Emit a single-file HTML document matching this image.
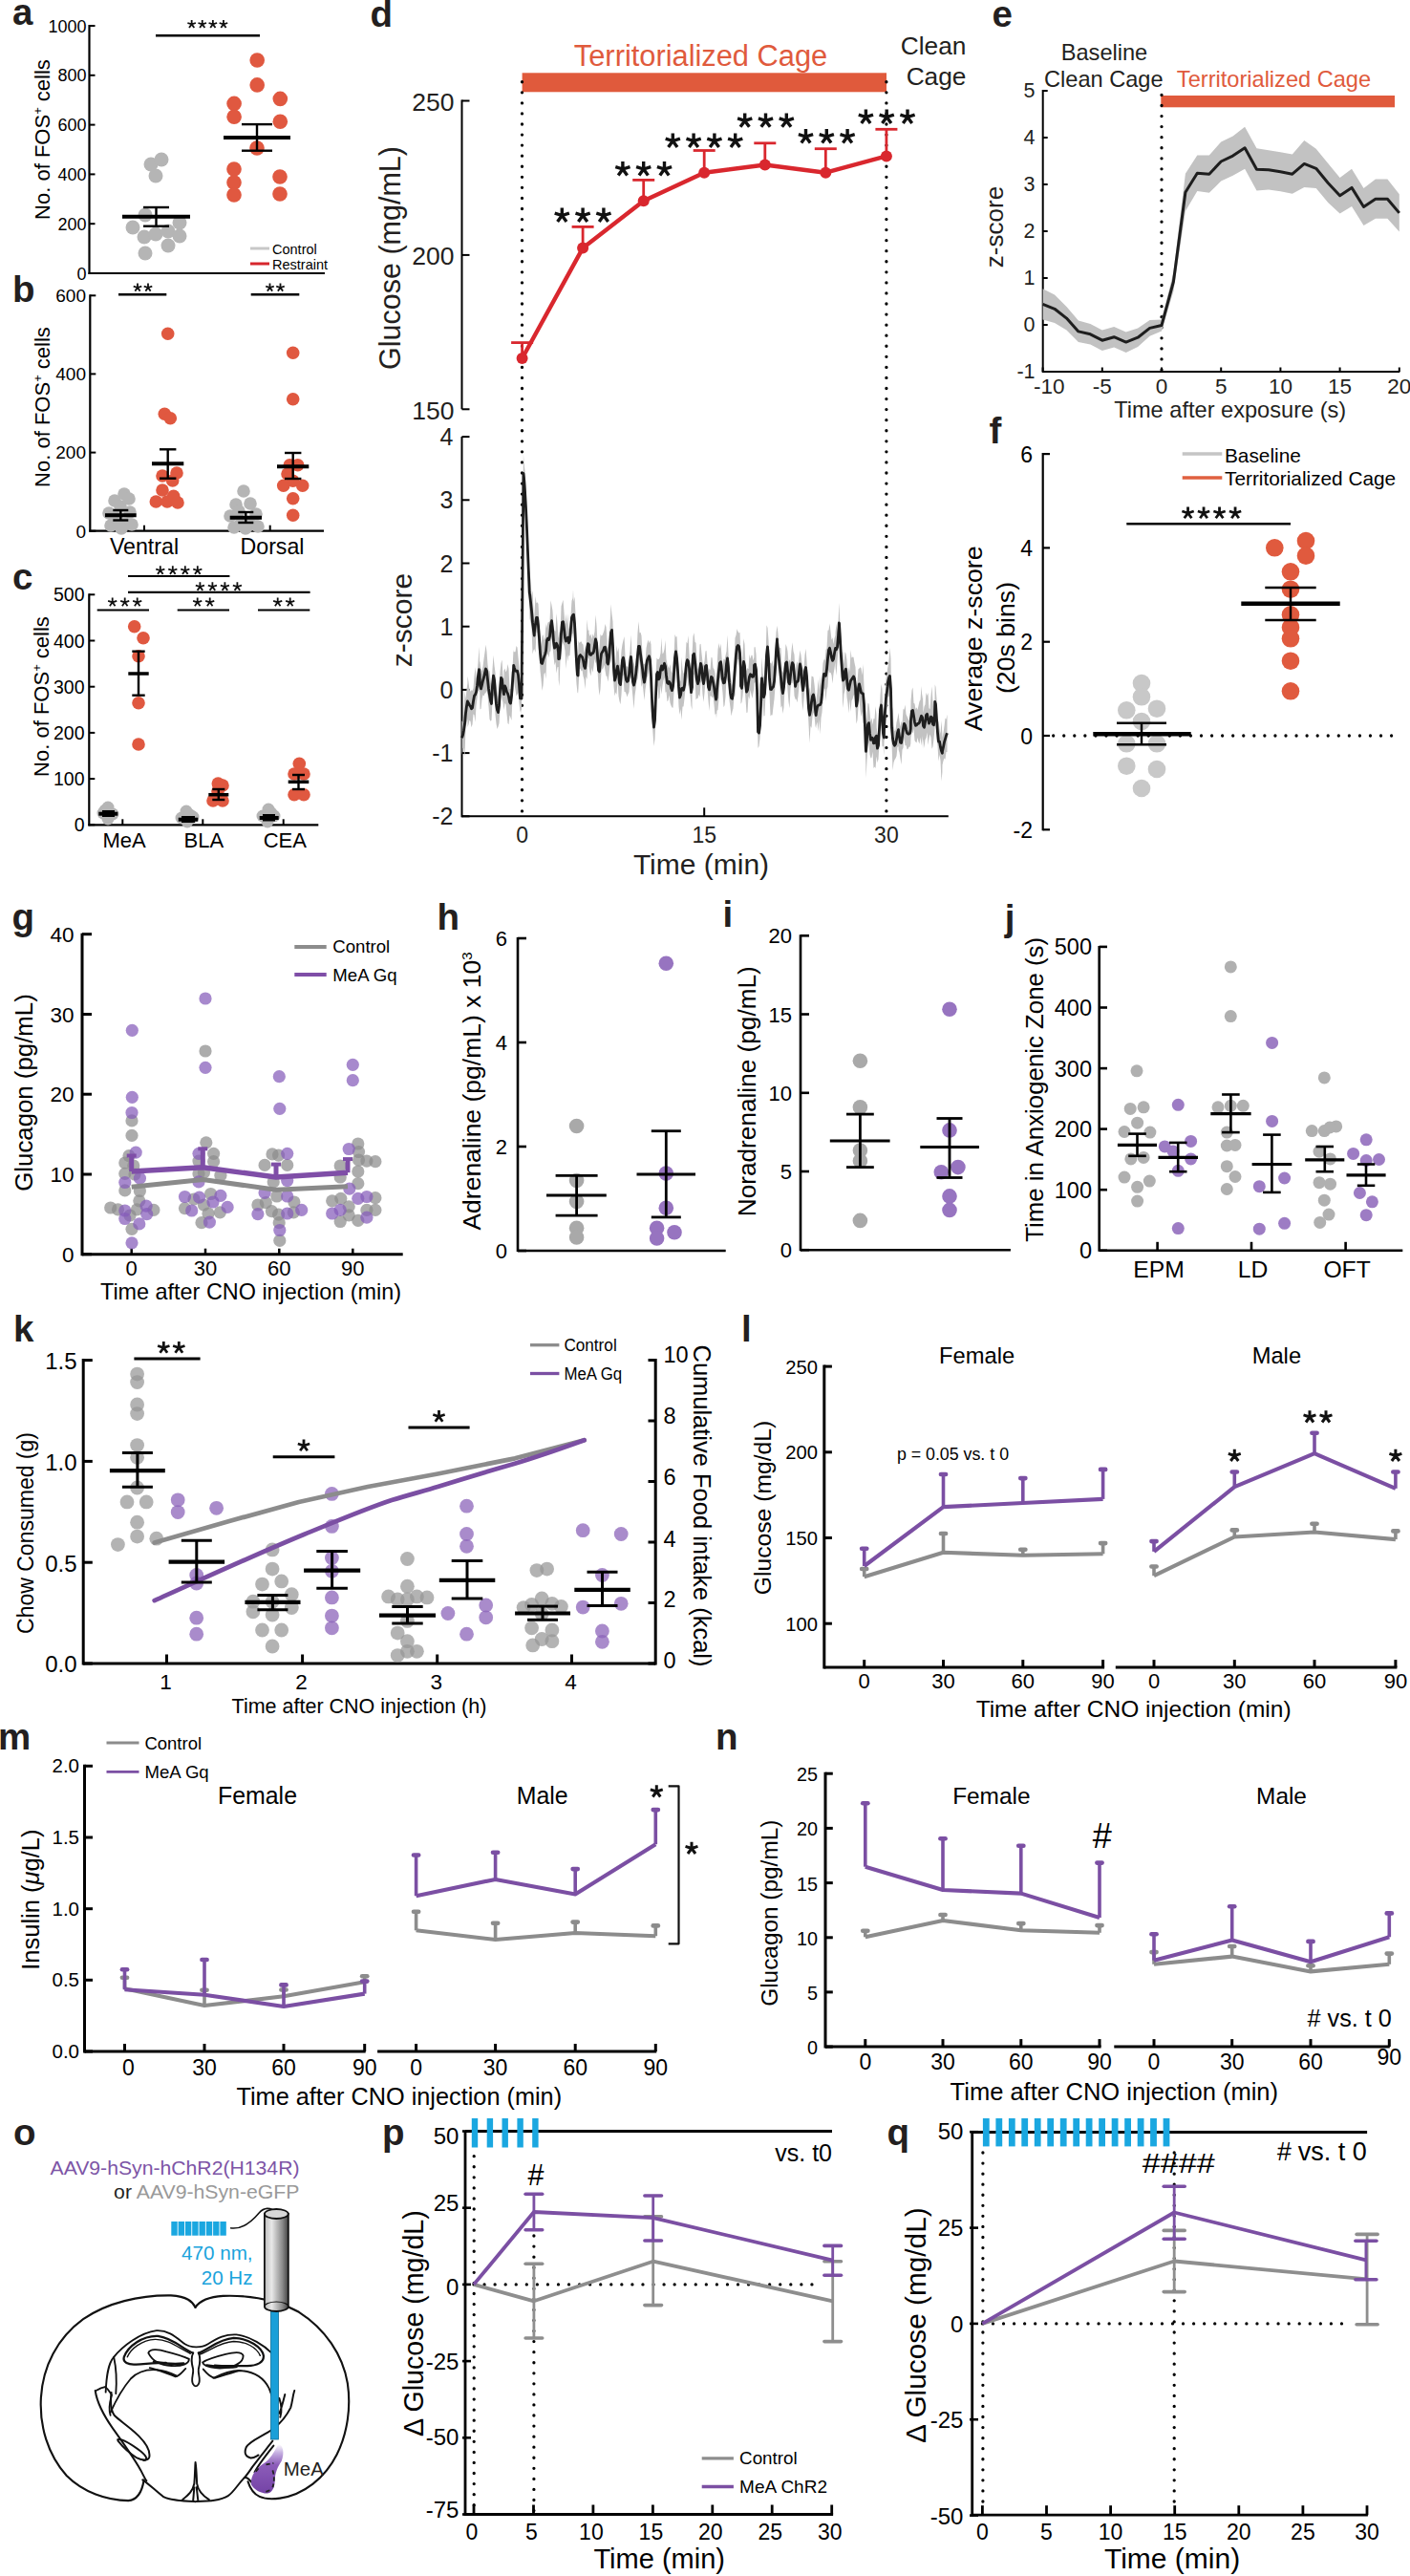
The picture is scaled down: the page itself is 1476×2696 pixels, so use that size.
<!DOCTYPE html>
<html><head><meta charset="utf-8"><style>
html,body{margin:0;padding:0;background:#fff;}
svg{display:block;}
text{font-family:"Liberation Sans",sans-serif;}
</style></head><body>
<svg width="1476" height="2696" viewBox="0 0 1476 2696">
<rect width="1476" height="2696" fill="#fff"/>
<text x="13.0" y="26.0" font-size="38.5" text-anchor="start" fill="#231f20" font-weight="bold">a</text>
<line x1="93.5" y1="26.0" x2="93.5" y2="287.0" stroke="#000" stroke-width="2.2"/>
<line x1="92.5" y1="286.0" x2="340.0" y2="286.0" stroke="#000" stroke-width="2.2"/>
<line x1="93.5" y1="286.0" x2="99.5" y2="286.0" stroke="#000" stroke-width="2"/>
<text x="90.5" y="292.5" font-size="18" text-anchor="end" fill="#000">0</text>
<line x1="93.5" y1="234.2" x2="99.5" y2="234.2" stroke="#000" stroke-width="2"/>
<text x="90.5" y="240.7" font-size="18" text-anchor="end" fill="#000">200</text>
<line x1="93.5" y1="182.4" x2="99.5" y2="182.4" stroke="#000" stroke-width="2"/>
<text x="90.5" y="188.9" font-size="18" text-anchor="end" fill="#000">400</text>
<line x1="93.5" y1="130.6" x2="99.5" y2="130.6" stroke="#000" stroke-width="2"/>
<text x="90.5" y="137.1" font-size="18" text-anchor="end" fill="#000">600</text>
<line x1="93.5" y1="78.8" x2="99.5" y2="78.8" stroke="#000" stroke-width="2"/>
<text x="90.5" y="85.3" font-size="18" text-anchor="end" fill="#000">800</text>
<line x1="93.5" y1="27.0" x2="99.5" y2="27.0" stroke="#000" stroke-width="2"/>
<text x="90.5" y="33.5" font-size="18" text-anchor="end" fill="#000">1000</text>
<text x="52.0" y="146.0" font-size="22" text-anchor="middle" fill="#000" transform="rotate(-90 52.0 146.0)">No. of FOS<tspan font-size="13" dy="-8">+</tspan><tspan dy="8"> cells</tspan></text>
<line x1="163.0" y1="37.3" x2="272.0" y2="37.3" stroke="#000" stroke-width="2.5"/>
<path d="M200.65,25.40L200.65,20.90M200.65,25.40L204.93,24.01M200.65,25.40L203.30,29.04M200.65,25.40L198.00,29.04M200.65,25.40L196.37,24.01" stroke="#111" stroke-width="1.8" stroke-linecap="butt" fill="none"/>
<path d="M211.75,25.40L211.75,20.90M211.75,25.40L216.03,24.01M211.75,25.40L214.40,29.04M211.75,25.40L209.10,29.04M211.75,25.40L207.47,24.01" stroke="#111" stroke-width="1.8" stroke-linecap="butt" fill="none"/>
<path d="M222.85,25.40L222.85,20.90M222.85,25.40L227.13,24.01M222.85,25.40L225.50,29.04M222.85,25.40L220.20,29.04M222.85,25.40L218.57,24.01" stroke="#111" stroke-width="1.8" stroke-linecap="butt" fill="none"/>
<path d="M233.95,25.40L233.95,20.90M233.95,25.40L238.23,24.01M233.95,25.40L236.60,29.04M233.95,25.40L231.30,29.04M233.95,25.40L229.67,24.01" stroke="#111" stroke-width="1.8" stroke-linecap="butt" fill="none"/>
<circle cx="158.0" cy="172.0" r="7.5" fill="#b5b5b5"/>
<circle cx="169.0" cy="167.0" r="7.5" fill="#b5b5b5"/>
<circle cx="163.0" cy="184.0" r="7.5" fill="#b5b5b5"/>
<circle cx="152.0" cy="225.0" r="7.5" fill="#b5b5b5"/>
<circle cx="139.0" cy="238.0" r="7.5" fill="#b5b5b5"/>
<circle cx="151.0" cy="248.0" r="7.5" fill="#b5b5b5"/>
<circle cx="163.0" cy="245.0" r="7.5" fill="#b5b5b5"/>
<circle cx="176.0" cy="242.0" r="7.5" fill="#b5b5b5"/>
<circle cx="188.0" cy="233.0" r="7.5" fill="#b5b5b5"/>
<circle cx="188.0" cy="247.0" r="7.5" fill="#b5b5b5"/>
<circle cx="176.0" cy="257.0" r="7.5" fill="#b5b5b5"/>
<circle cx="152.0" cy="265.0" r="7.5" fill="#b5b5b5"/>
<circle cx="269.2" cy="63.0" r="7.8" fill="#e05840"/>
<circle cx="269.2" cy="88.9" r="7.8" fill="#e05840"/>
<circle cx="245.1" cy="108.4" r="7.8" fill="#e05840"/>
<circle cx="293.3" cy="103.4" r="7.8" fill="#e05840"/>
<circle cx="245.1" cy="122.3" r="7.8" fill="#e05840"/>
<circle cx="293.3" cy="127.2" r="7.8" fill="#e05840"/>
<circle cx="269.0" cy="155.0" r="7.8" fill="#e05840"/>
<circle cx="245.0" cy="177.0" r="7.8" fill="#e05840"/>
<circle cx="245.0" cy="191.0" r="7.8" fill="#e05840"/>
<circle cx="293.0" cy="185.0" r="7.8" fill="#e05840"/>
<circle cx="245.0" cy="204.0" r="7.8" fill="#e05840"/>
<circle cx="293.0" cy="203.0" r="7.8" fill="#e05840"/>
<line x1="128.0" y1="226.7" x2="199.0" y2="226.7" stroke="#000" stroke-width="4"/>
<line x1="163.5" y1="217.0" x2="163.5" y2="236.7" stroke="#000" stroke-width="2.4"/>
<line x1="150.0" y1="217.0" x2="177.0" y2="217.0" stroke="#000" stroke-width="2.4"/>
<line x1="150.0" y1="236.7" x2="177.0" y2="236.7" stroke="#000" stroke-width="2.4"/>
<line x1="234.0" y1="144.0" x2="304.0" y2="144.0" stroke="#000" stroke-width="4"/>
<line x1="269.0" y1="130.1" x2="269.0" y2="157.7" stroke="#000" stroke-width="2.4"/>
<line x1="253.0" y1="130.1" x2="285.0" y2="130.1" stroke="#000" stroke-width="2.4"/>
<line x1="253.0" y1="157.7" x2="285.0" y2="157.7" stroke="#000" stroke-width="2.4"/>
<line x1="262.0" y1="260.0" x2="282.0" y2="260.0" stroke="#c8c8c8" stroke-width="3"/>
<line x1="262.0" y1="276.0" x2="282.0" y2="276.0" stroke="#d6262d" stroke-width="3"/>
<text x="285.0" y="265.5" font-size="14.5" text-anchor="start" fill="#000">Control</text>
<text x="285.0" y="281.5" font-size="14.5" text-anchor="start" fill="#000">Restraint</text>
<text x="13.0" y="316.0" font-size="38.5" text-anchor="start" fill="#231f20" font-weight="bold">b</text>
<line x1="94.3" y1="308.3" x2="94.3" y2="556.7" stroke="#000" stroke-width="2.2"/>
<line x1="93.3" y1="555.7" x2="339.0" y2="555.7" stroke="#000" stroke-width="2.2"/>
<line x1="94.3" y1="555.7" x2="100.3" y2="555.7" stroke="#000" stroke-width="2"/>
<text x="90.0" y="562.5" font-size="19" text-anchor="end" fill="#000">0</text>
<line x1="94.3" y1="473.6" x2="100.3" y2="473.6" stroke="#000" stroke-width="2"/>
<text x="90.0" y="480.4" font-size="19" text-anchor="end" fill="#000">200</text>
<line x1="94.3" y1="391.4" x2="100.3" y2="391.4" stroke="#000" stroke-width="2"/>
<text x="90.0" y="398.3" font-size="19" text-anchor="end" fill="#000">400</text>
<line x1="94.3" y1="309.3" x2="100.3" y2="309.3" stroke="#000" stroke-width="2"/>
<text x="90.0" y="316.1" font-size="19" text-anchor="end" fill="#000">600</text>
<line x1="151.0" y1="549.7" x2="151.0" y2="555.7" stroke="#000" stroke-width="2"/>
<line x1="282.7" y1="549.7" x2="282.7" y2="555.7" stroke="#000" stroke-width="2"/>
<text x="151.0" y="580.0" font-size="23.2" text-anchor="middle" fill="#000">Ventral</text>
<text x="285.0" y="580.0" font-size="23.2" text-anchor="middle" fill="#000">Dorsal</text>
<text x="52.0" y="426.0" font-size="22" text-anchor="middle" fill="#000" transform="rotate(-90 52.0 426.0)">No. of FOS<tspan font-size="13" dy="-8">+</tspan><tspan dy="8"> cells</tspan></text>
<line x1="124.0" y1="308.3" x2="174.3" y2="308.3" stroke="#000" stroke-width="2.5"/>
<line x1="262.7" y1="308.3" x2="313.3" y2="308.3" stroke="#000" stroke-width="2.5"/>
<path d="M144.00,301.00L144.00,296.50M144.00,301.00L148.28,299.61M144.00,301.00L146.65,304.64M144.00,301.00L141.35,304.64M144.00,301.00L139.72,299.61" stroke="#111" stroke-width="1.8" stroke-linecap="butt" fill="none"/>
<path d="M155.00,301.00L155.00,296.50M155.00,301.00L159.28,299.61M155.00,301.00L157.65,304.64M155.00,301.00L152.35,304.64M155.00,301.00L150.72,299.61" stroke="#111" stroke-width="1.8" stroke-linecap="butt" fill="none"/>
<path d="M282.50,301.00L282.50,296.50M282.50,301.00L286.78,299.61M282.50,301.00L285.15,304.64M282.50,301.00L279.85,304.64M282.50,301.00L278.22,299.61" stroke="#111" stroke-width="1.8" stroke-linecap="butt" fill="none"/>
<path d="M293.50,301.00L293.50,296.50M293.50,301.00L297.78,299.61M293.50,301.00L296.15,304.64M293.50,301.00L290.85,304.64M293.50,301.00L289.22,299.61" stroke="#111" stroke-width="1.8" stroke-linecap="butt" fill="none"/>
<circle cx="130.0" cy="517.0" r="6.8" fill="#b5b5b5"/>
<circle cx="120.0" cy="524.0" r="6.8" fill="#b5b5b5"/>
<circle cx="126.0" cy="530.0" r="6.8" fill="#b5b5b5"/>
<circle cx="114.0" cy="537.0" r="6.8" fill="#b5b5b5"/>
<circle cx="136.0" cy="536.0" r="6.8" fill="#b5b5b5"/>
<circle cx="123.0" cy="545.0" r="6.8" fill="#b5b5b5"/>
<circle cx="131.0" cy="548.0" r="6.8" fill="#b5b5b5"/>
<circle cx="116.0" cy="550.0" r="6.8" fill="#b5b5b5"/>
<circle cx="138.0" cy="549.0" r="6.8" fill="#b5b5b5"/>
<circle cx="127.0" cy="553.0" r="6.8" fill="#b5b5b5"/>
<circle cx="120.0" cy="541.0" r="6.8" fill="#b5b5b5"/>
<circle cx="135.0" cy="522.0" r="6.8" fill="#b5b5b5"/>
<circle cx="255.0" cy="514.0" r="6.8" fill="#b5b5b5"/>
<circle cx="247.0" cy="528.0" r="6.8" fill="#b5b5b5"/>
<circle cx="262.0" cy="527.0" r="6.8" fill="#b5b5b5"/>
<circle cx="241.0" cy="540.0" r="6.8" fill="#b5b5b5"/>
<circle cx="268.0" cy="538.0" r="6.8" fill="#b5b5b5"/>
<circle cx="252.0" cy="548.0" r="6.8" fill="#b5b5b5"/>
<circle cx="262.0" cy="549.0" r="6.8" fill="#b5b5b5"/>
<circle cx="245.0" cy="552.0" r="6.8" fill="#b5b5b5"/>
<circle cx="257.0" cy="553.0" r="6.8" fill="#b5b5b5"/>
<circle cx="270.0" cy="551.0" r="6.8" fill="#b5b5b5"/>
<circle cx="250.0" cy="535.0" r="6.8" fill="#b5b5b5"/>
<circle cx="175.7" cy="349.3" r="6.8" fill="#e05840"/>
<circle cx="172.3" cy="433.3" r="6.8" fill="#e05840"/>
<circle cx="178.3" cy="437.7" r="6.8" fill="#e05840"/>
<circle cx="170.0" cy="498.0" r="6.8" fill="#e05840"/>
<circle cx="185.0" cy="495.0" r="6.8" fill="#e05840"/>
<circle cx="180.7" cy="503.0" r="6.8" fill="#e05840"/>
<circle cx="170.0" cy="513.0" r="6.8" fill="#e05840"/>
<circle cx="163.3" cy="525.0" r="6.8" fill="#e05840"/>
<circle cx="175.0" cy="525.0" r="6.8" fill="#e05840"/>
<circle cx="181.7" cy="519.3" r="6.8" fill="#e05840"/>
<circle cx="186.0" cy="526.0" r="6.8" fill="#e05840"/>
<circle cx="306.7" cy="369.3" r="6.8" fill="#e05840"/>
<circle cx="306.7" cy="417.7" r="6.8" fill="#e05840"/>
<circle cx="303.3" cy="486.7" r="6.8" fill="#e05840"/>
<circle cx="311.7" cy="486.7" r="6.8" fill="#e05840"/>
<circle cx="296.7" cy="508.3" r="6.8" fill="#e05840"/>
<circle cx="316.7" cy="508.3" r="6.8" fill="#e05840"/>
<circle cx="306.7" cy="503.3" r="6.8" fill="#e05840"/>
<circle cx="306.7" cy="521.7" r="6.8" fill="#e05840"/>
<circle cx="306.7" cy="539.3" r="6.8" fill="#e05840"/>
<circle cx="301.0" cy="496.0" r="6.8" fill="#e05840"/>
<line x1="110.0" y1="539.3" x2="142.7" y2="539.3" stroke="#000" stroke-width="4"/>
<line x1="126.3" y1="534.0" x2="126.3" y2="544.5" stroke="#000" stroke-width="2.4"/>
<line x1="118.3" y1="534.0" x2="134.3" y2="534.0" stroke="#000" stroke-width="2.4"/>
<line x1="118.3" y1="544.5" x2="134.3" y2="544.5" stroke="#000" stroke-width="2.4"/>
<line x1="240.7" y1="541.7" x2="274.0" y2="541.7" stroke="#000" stroke-width="4"/>
<line x1="257.3" y1="536.0" x2="257.3" y2="547.0" stroke="#000" stroke-width="2.4"/>
<line x1="249.3" y1="536.0" x2="265.3" y2="536.0" stroke="#000" stroke-width="2.4"/>
<line x1="249.3" y1="547.0" x2="265.3" y2="547.0" stroke="#000" stroke-width="2.4"/>
<line x1="159.0" y1="485.3" x2="192.3" y2="485.3" stroke="#000" stroke-width="4"/>
<line x1="175.7" y1="470.3" x2="175.7" y2="500.7" stroke="#000" stroke-width="2.4"/>
<line x1="167.0" y1="470.3" x2="184.4" y2="470.3" stroke="#000" stroke-width="2.4"/>
<line x1="167.0" y1="500.7" x2="184.4" y2="500.7" stroke="#000" stroke-width="2.4"/>
<line x1="290.0" y1="488.3" x2="323.3" y2="488.3" stroke="#000" stroke-width="4"/>
<line x1="306.7" y1="474.0" x2="306.7" y2="501.0" stroke="#000" stroke-width="2.4"/>
<line x1="298.0" y1="474.0" x2="315.4" y2="474.0" stroke="#000" stroke-width="2.4"/>
<line x1="298.0" y1="501.0" x2="315.4" y2="501.0" stroke="#000" stroke-width="2.4"/>
<text x="13.0" y="617.0" font-size="38.5" text-anchor="start" fill="#231f20" font-weight="bold">c</text>
<line x1="93.3" y1="621.3" x2="93.3" y2="864.3" stroke="#000" stroke-width="2.2"/>
<line x1="92.3" y1="863.3" x2="333.3" y2="863.3" stroke="#000" stroke-width="2.2"/>
<line x1="93.3" y1="863.3" x2="99.3" y2="863.3" stroke="#000" stroke-width="2"/>
<text x="88.5" y="870.3" font-size="19.5" text-anchor="end" fill="#000">0</text>
<line x1="93.3" y1="815.1" x2="99.3" y2="815.1" stroke="#000" stroke-width="2"/>
<text x="88.5" y="822.1" font-size="19.5" text-anchor="end" fill="#000">100</text>
<line x1="93.3" y1="766.9" x2="99.3" y2="766.9" stroke="#000" stroke-width="2"/>
<text x="88.5" y="773.9" font-size="19.5" text-anchor="end" fill="#000">200</text>
<line x1="93.3" y1="718.7" x2="99.3" y2="718.7" stroke="#000" stroke-width="2"/>
<text x="88.5" y="725.7" font-size="19.5" text-anchor="end" fill="#000">300</text>
<line x1="93.3" y1="670.5" x2="99.3" y2="670.5" stroke="#000" stroke-width="2"/>
<text x="88.5" y="677.5" font-size="19.5" text-anchor="end" fill="#000">400</text>
<line x1="93.3" y1="622.3" x2="99.3" y2="622.3" stroke="#000" stroke-width="2"/>
<text x="88.5" y="629.3" font-size="19.5" text-anchor="end" fill="#000">500</text>
<line x1="128.3" y1="857.3" x2="128.3" y2="863.3" stroke="#000" stroke-width="2"/>
<line x1="212.3" y1="857.3" x2="212.3" y2="863.3" stroke="#000" stroke-width="2"/>
<line x1="296.7" y1="857.3" x2="296.7" y2="863.3" stroke="#000" stroke-width="2"/>
<text x="130.0" y="887.0" font-size="22" text-anchor="middle" fill="#000">MeA</text>
<text x="213.3" y="887.0" font-size="22" text-anchor="middle" fill="#000">BLA</text>
<text x="298.3" y="887.0" font-size="22" text-anchor="middle" fill="#000">CEA</text>
<text x="51.0" y="729.0" font-size="22" text-anchor="middle" fill="#000" transform="rotate(-90 51.0 729.0)">No. of FOS<tspan font-size="13" dy="-8">+</tspan><tspan dy="8"> cells</tspan></text>
<line x1="134.0" y1="603.0" x2="240.4" y2="603.0" stroke="#000" stroke-width="2.2"/>
<line x1="134.0" y1="619.9" x2="324.6" y2="619.9" stroke="#000" stroke-width="2.2"/>
<line x1="101.7" y1="638.5" x2="156.0" y2="638.5" stroke="#000" stroke-width="2.2"/>
<line x1="185.7" y1="638.5" x2="240.0" y2="638.5" stroke="#000" stroke-width="2.2"/>
<line x1="270.0" y1="638.5" x2="324.3" y2="638.5" stroke="#000" stroke-width="2.2"/>
<path d="M167.80,597.00L167.80,592.20M167.80,597.00L172.37,595.52M167.80,597.00L170.62,600.88M167.80,597.00L164.98,600.88M167.80,597.00L163.23,595.52" stroke="#111" stroke-width="1.8" stroke-linecap="butt" fill="none"/>
<path d="M180.80,597.00L180.80,592.20M180.80,597.00L185.37,595.52M180.80,597.00L183.62,600.88M180.80,597.00L177.98,600.88M180.80,597.00L176.23,595.52" stroke="#111" stroke-width="1.8" stroke-linecap="butt" fill="none"/>
<path d="M193.80,597.00L193.80,592.20M193.80,597.00L198.37,595.52M193.80,597.00L196.62,600.88M193.80,597.00L190.98,600.88M193.80,597.00L189.23,595.52" stroke="#111" stroke-width="1.8" stroke-linecap="butt" fill="none"/>
<path d="M206.80,597.00L206.80,592.20M206.80,597.00L211.37,595.52M206.80,597.00L209.62,600.88M206.80,597.00L203.98,600.88M206.80,597.00L202.23,595.52" stroke="#111" stroke-width="1.8" stroke-linecap="butt" fill="none"/>
<path d="M209.40,614.00L209.40,609.20M209.40,614.00L213.97,612.52M209.40,614.00L212.22,617.88M209.40,614.00L206.58,617.88M209.40,614.00L204.83,612.52" stroke="#111" stroke-width="1.8" stroke-linecap="butt" fill="none"/>
<path d="M222.40,614.00L222.40,609.20M222.40,614.00L226.97,612.52M222.40,614.00L225.22,617.88M222.40,614.00L219.58,617.88M222.40,614.00L217.83,612.52" stroke="#111" stroke-width="1.8" stroke-linecap="butt" fill="none"/>
<path d="M235.40,614.00L235.40,609.20M235.40,614.00L239.97,612.52M235.40,614.00L238.22,617.88M235.40,614.00L232.58,617.88M235.40,614.00L230.83,612.52" stroke="#111" stroke-width="1.8" stroke-linecap="butt" fill="none"/>
<path d="M248.40,614.00L248.40,609.20M248.40,614.00L252.97,612.52M248.40,614.00L251.22,617.88M248.40,614.00L245.58,617.88M248.40,614.00L243.83,612.52" stroke="#111" stroke-width="1.8" stroke-linecap="butt" fill="none"/>
<path d="M117.70,630.30L117.70,625.50M117.70,630.30L122.27,628.82M117.70,630.30L120.52,634.18M117.70,630.30L114.88,634.18M117.70,630.30L113.13,628.82" stroke="#111" stroke-width="1.8" stroke-linecap="butt" fill="none"/>
<path d="M130.70,630.30L130.70,625.50M130.70,630.30L135.27,628.82M130.70,630.30L133.52,634.18M130.70,630.30L127.88,634.18M130.70,630.30L126.13,628.82" stroke="#111" stroke-width="1.8" stroke-linecap="butt" fill="none"/>
<path d="M143.70,630.30L143.70,625.50M143.70,630.30L148.27,628.82M143.70,630.30L146.52,634.18M143.70,630.30L140.88,634.18M143.70,630.30L139.13,628.82" stroke="#111" stroke-width="1.8" stroke-linecap="butt" fill="none"/>
<path d="M206.70,630.30L206.70,625.50M206.70,630.30L211.27,628.82M206.70,630.30L209.52,634.18M206.70,630.30L203.88,634.18M206.70,630.30L202.13,628.82" stroke="#111" stroke-width="1.8" stroke-linecap="butt" fill="none"/>
<path d="M219.70,630.30L219.70,625.50M219.70,630.30L224.27,628.82M219.70,630.30L222.52,634.18M219.70,630.30L216.88,634.18M219.70,630.30L215.13,628.82" stroke="#111" stroke-width="1.8" stroke-linecap="butt" fill="none"/>
<path d="M290.70,630.30L290.70,625.50M290.70,630.30L295.27,628.82M290.70,630.30L293.52,634.18M290.70,630.30L287.88,634.18M290.70,630.30L286.13,628.82" stroke="#111" stroke-width="1.8" stroke-linecap="butt" fill="none"/>
<path d="M303.70,630.30L303.70,625.50M303.70,630.30L308.27,628.82M303.70,630.30L306.52,634.18M303.70,630.30L300.88,634.18M303.70,630.30L299.13,628.82" stroke="#111" stroke-width="1.8" stroke-linecap="butt" fill="none"/>
<circle cx="113.0" cy="845.0" r="6.5" fill="#b5b5b5"/>
<circle cx="108.0" cy="851.0" r="6.5" fill="#b5b5b5"/>
<circle cx="118.0" cy="852.0" r="6.5" fill="#b5b5b5"/>
<circle cx="113.0" cy="857.0" r="6.5" fill="#b5b5b5"/>
<circle cx="110.0" cy="848.0" r="6.5" fill="#b5b5b5"/>
<circle cx="195.0" cy="849.0" r="6.5" fill="#b5b5b5"/>
<circle cx="190.0" cy="856.0" r="6.5" fill="#b5b5b5"/>
<circle cx="202.0" cy="855.0" r="6.5" fill="#b5b5b5"/>
<circle cx="196.0" cy="860.0" r="6.5" fill="#b5b5b5"/>
<circle cx="199.0" cy="853.0" r="6.5" fill="#b5b5b5"/>
<circle cx="281.0" cy="847.0" r="6.5" fill="#b5b5b5"/>
<circle cx="275.0" cy="854.0" r="6.5" fill="#b5b5b5"/>
<circle cx="287.0" cy="854.0" r="6.5" fill="#b5b5b5"/>
<circle cx="280.0" cy="860.0" r="6.5" fill="#b5b5b5"/>
<circle cx="284.0" cy="851.0" r="6.5" fill="#b5b5b5"/>
<circle cx="140.7" cy="655.7" r="6.8" fill="#e05840"/>
<circle cx="150.0" cy="667.7" r="6.8" fill="#e05840"/>
<circle cx="145.0" cy="686.7" r="6.8" fill="#e05840"/>
<circle cx="145.0" cy="735.7" r="6.8" fill="#e05840"/>
<circle cx="145.0" cy="779.0" r="6.8" fill="#e05840"/>
<circle cx="228.3" cy="820.0" r="6.8" fill="#e05840"/>
<circle cx="233.0" cy="822.0" r="6.8" fill="#e05840"/>
<circle cx="223.0" cy="838.0" r="6.8" fill="#e05840"/>
<circle cx="233.0" cy="838.0" r="6.8" fill="#e05840"/>
<circle cx="228.0" cy="828.0" r="6.8" fill="#e05840"/>
<circle cx="313.3" cy="799.3" r="6.8" fill="#e05840"/>
<circle cx="308.0" cy="810.0" r="6.8" fill="#e05840"/>
<circle cx="318.0" cy="810.0" r="6.8" fill="#e05840"/>
<circle cx="308.0" cy="831.7" r="6.8" fill="#e05840"/>
<circle cx="318.0" cy="831.7" r="6.8" fill="#e05840"/>
<line x1="103.3" y1="851.7" x2="123.3" y2="851.7" stroke="#000" stroke-width="4"/>
<line x1="107.0" y1="849.0" x2="120.0" y2="849.0" stroke="#000" stroke-width="2"/>
<line x1="107.0" y1="854.0" x2="120.0" y2="854.0" stroke="#000" stroke-width="2"/>
<line x1="186.7" y1="857.7" x2="207.3" y2="857.7" stroke="#000" stroke-width="4"/>
<line x1="190.0" y1="855.0" x2="204.0" y2="855.0" stroke="#000" stroke-width="2"/>
<line x1="190.0" y1="860.0" x2="204.0" y2="860.0" stroke="#000" stroke-width="2"/>
<line x1="271.7" y1="856.0" x2="291.7" y2="856.0" stroke="#000" stroke-width="4"/>
<line x1="275.0" y1="853.0" x2="288.0" y2="853.0" stroke="#000" stroke-width="2"/>
<line x1="275.0" y1="858.5" x2="288.0" y2="858.5" stroke="#000" stroke-width="2"/>
<line x1="134.3" y1="705.0" x2="155.7" y2="705.0" stroke="#000" stroke-width="3.5"/>
<line x1="145.0" y1="681.7" x2="145.0" y2="727.7" stroke="#000" stroke-width="2.4"/>
<line x1="138.3" y1="681.7" x2="151.7" y2="681.7" stroke="#000" stroke-width="2.4"/>
<line x1="138.3" y1="727.7" x2="151.7" y2="727.7" stroke="#000" stroke-width="2.4"/>
<line x1="218.3" y1="831.7" x2="239.3" y2="831.7" stroke="#000" stroke-width="3.5"/>
<line x1="228.8" y1="826.0" x2="228.8" y2="837.0" stroke="#000" stroke-width="2.4"/>
<line x1="222.3" y1="826.0" x2="235.3" y2="826.0" stroke="#000" stroke-width="2.4"/>
<line x1="222.3" y1="837.0" x2="235.3" y2="837.0" stroke="#000" stroke-width="2.4"/>
<line x1="301.7" y1="818.3" x2="323.3" y2="818.3" stroke="#000" stroke-width="3.5"/>
<line x1="312.5" y1="811.0" x2="312.5" y2="826.0" stroke="#000" stroke-width="2.4"/>
<line x1="306.0" y1="811.0" x2="319.0" y2="811.0" stroke="#000" stroke-width="2.4"/>
<line x1="306.0" y1="826.0" x2="319.0" y2="826.0" stroke="#000" stroke-width="2.4"/>
<text x="387.5" y="28.4" font-size="38.5" text-anchor="start" fill="#231f20" font-weight="bold">d</text>
<line x1="483.5" y1="104.5" x2="483.5" y2="428.3" stroke="#000" stroke-width="2"/>
<line x1="483.5" y1="105.5" x2="491.5" y2="105.5" stroke="#000" stroke-width="2"/>
<text x="475.5" y="115.9" font-size="26.5" text-anchor="end" fill="#231f20">250</text>
<line x1="483.5" y1="266.9" x2="491.5" y2="266.9" stroke="#000" stroke-width="2"/>
<text x="475.5" y="277.3" font-size="26.5" text-anchor="end" fill="#231f20">200</text>
<line x1="483.5" y1="428.3" x2="491.5" y2="428.3" stroke="#000" stroke-width="2"/>
<text x="475.5" y="438.7" font-size="26.5" text-anchor="end" fill="#231f20">150</text>
<text x="418.5" y="270.0" font-size="30.5" text-anchor="middle" fill="#231f20" transform="rotate(-90 418.5 270.0)">Glucose (mg/mL)</text>
<rect x="546.6" y="76.3" width="381.4" height="20.0" fill="#e05a3c"/>
<text x="733.5" y="69.0" font-size="30.8" text-anchor="middle" fill="#e05a3c">Territorialized Cage</text>
<text x="1011.5" y="57.0" font-size="26.3" text-anchor="end" fill="#231f20">Clean</text>
<text x="1011.5" y="89.0" font-size="26.3" text-anchor="end" fill="#231f20">Cage</text>
<line x1="546.5" y1="848.9" x2="546.5" y2="75.0" stroke="#000" stroke-width="3.3" stroke-dasharray="0.01 11.05" stroke-linecap="round"/>
<line x1="927.9" y1="848.9" x2="927.9" y2="75.0" stroke="#000" stroke-width="3.3" stroke-dasharray="0.01 11.05" stroke-linecap="round"/>
<line x1="546.6" y1="375.0" x2="546.6" y2="358.6" stroke="#d9272e" stroke-width="2.8"/>
<line x1="535.1" y1="358.6" x2="558.1" y2="358.6" stroke="#d9272e" stroke-width="2.8"/>
<line x1="610.1" y1="259.6" x2="610.1" y2="237.4" stroke="#d9272e" stroke-width="2.8"/>
<line x1="598.6" y1="237.4" x2="621.6" y2="237.4" stroke="#d9272e" stroke-width="2.8"/>
<line x1="673.7" y1="210.2" x2="673.7" y2="188.4" stroke="#d9272e" stroke-width="2.8"/>
<line x1="662.2" y1="188.4" x2="685.2" y2="188.4" stroke="#d9272e" stroke-width="2.8"/>
<line x1="737.2" y1="180.7" x2="737.2" y2="157.5" stroke="#d9272e" stroke-width="2.8"/>
<line x1="725.7" y1="157.5" x2="748.7" y2="157.5" stroke="#d9272e" stroke-width="2.8"/>
<line x1="800.8" y1="172.5" x2="800.8" y2="149.8" stroke="#d9272e" stroke-width="2.8"/>
<line x1="789.3" y1="149.8" x2="812.3" y2="149.8" stroke="#d9272e" stroke-width="2.8"/>
<line x1="864.3" y1="180.7" x2="864.3" y2="155.7" stroke="#d9272e" stroke-width="2.8"/>
<line x1="852.8" y1="155.7" x2="875.8" y2="155.7" stroke="#d9272e" stroke-width="2.8"/>
<line x1="927.9" y1="163.4" x2="927.9" y2="135.3" stroke="#d9272e" stroke-width="2.8"/>
<line x1="916.4" y1="135.3" x2="939.4" y2="135.3" stroke="#d9272e" stroke-width="2.8"/>
<polyline points="546.6,375.0 610.1,259.6 673.7,210.2 737.2,180.7 800.8,172.5 864.3,180.7 927.9,163.4" fill="none" stroke="#d9272e" stroke-width="4.4" stroke-linejoin="round"/>
<circle cx="546.6" cy="375.0" r="6" fill="#d9272e"/>
<circle cx="610.1" cy="259.6" r="6" fill="#d9272e"/>
<circle cx="673.7" cy="210.2" r="6" fill="#d9272e"/>
<circle cx="737.2" cy="180.7" r="6" fill="#d9272e"/>
<circle cx="800.8" cy="172.5" r="6" fill="#d9272e"/>
<circle cx="864.3" cy="180.7" r="6" fill="#d9272e"/>
<circle cx="927.9" cy="163.4" r="6" fill="#d9272e"/>
<path d="M588.30,225.50L588.30,217.50M588.30,225.50L595.91,223.03M588.30,225.50L593.00,231.97M588.30,225.50L583.60,231.97M588.30,225.50L580.69,223.03" stroke="#111" stroke-width="3.4" stroke-linecap="butt" fill="none"/>
<path d="M610.10,225.50L610.10,217.50M610.10,225.50L617.71,223.03M610.10,225.50L614.80,231.97M610.10,225.50L605.40,231.97M610.10,225.50L602.49,223.03" stroke="#111" stroke-width="3.4" stroke-linecap="butt" fill="none"/>
<path d="M631.90,225.50L631.90,217.50M631.90,225.50L639.51,223.03M631.90,225.50L636.60,231.97M631.90,225.50L627.20,231.97M631.90,225.50L624.29,223.03" stroke="#111" stroke-width="3.4" stroke-linecap="butt" fill="none"/>
<path d="M651.90,177.00L651.90,169.00M651.90,177.00L659.51,174.53M651.90,177.00L656.60,183.47M651.90,177.00L647.20,183.47M651.90,177.00L644.29,174.53" stroke="#111" stroke-width="3.4" stroke-linecap="butt" fill="none"/>
<path d="M673.70,177.00L673.70,169.00M673.70,177.00L681.31,174.53M673.70,177.00L678.40,183.47M673.70,177.00L669.00,183.47M673.70,177.00L666.09,174.53" stroke="#111" stroke-width="3.4" stroke-linecap="butt" fill="none"/>
<path d="M695.50,177.00L695.50,169.00M695.50,177.00L703.11,174.53M695.50,177.00L700.20,183.47M695.50,177.00L690.80,183.47M695.50,177.00L687.89,174.53" stroke="#111" stroke-width="3.4" stroke-linecap="butt" fill="none"/>
<path d="M704.30,147.50L704.30,139.50M704.30,147.50L711.91,145.03M704.30,147.50L709.00,153.97M704.30,147.50L699.60,153.97M704.30,147.50L696.69,145.03" stroke="#111" stroke-width="3.4" stroke-linecap="butt" fill="none"/>
<path d="M726.10,147.50L726.10,139.50M726.10,147.50L733.71,145.03M726.10,147.50L730.80,153.97M726.10,147.50L721.40,153.97M726.10,147.50L718.49,145.03" stroke="#111" stroke-width="3.4" stroke-linecap="butt" fill="none"/>
<path d="M747.90,147.50L747.90,139.50M747.90,147.50L755.51,145.03M747.90,147.50L752.60,153.97M747.90,147.50L743.20,153.97M747.90,147.50L740.29,145.03" stroke="#111" stroke-width="3.4" stroke-linecap="butt" fill="none"/>
<path d="M769.70,147.50L769.70,139.50M769.70,147.50L777.31,145.03M769.70,147.50L774.40,153.97M769.70,147.50L765.00,153.97M769.70,147.50L762.09,145.03" stroke="#111" stroke-width="3.4" stroke-linecap="butt" fill="none"/>
<path d="M779.70,126.40L779.70,118.40M779.70,126.40L787.31,123.93M779.70,126.40L784.40,132.87M779.70,126.40L775.00,132.87M779.70,126.40L772.09,123.93" stroke="#111" stroke-width="3.4" stroke-linecap="butt" fill="none"/>
<path d="M801.50,126.40L801.50,118.40M801.50,126.40L809.11,123.93M801.50,126.40L806.20,132.87M801.50,126.40L796.80,132.87M801.50,126.40L793.89,123.93" stroke="#111" stroke-width="3.4" stroke-linecap="butt" fill="none"/>
<path d="M823.30,126.40L823.30,118.40M823.30,126.40L830.91,123.93M823.30,126.40L828.00,132.87M823.30,126.40L818.60,132.87M823.30,126.40L815.69,123.93" stroke="#111" stroke-width="3.4" stroke-linecap="butt" fill="none"/>
<path d="M843.50,143.00L843.50,135.00M843.50,143.00L851.11,140.53M843.50,143.00L848.20,149.47M843.50,143.00L838.80,149.47M843.50,143.00L835.89,140.53" stroke="#111" stroke-width="3.4" stroke-linecap="butt" fill="none"/>
<path d="M865.30,143.00L865.30,135.00M865.30,143.00L872.91,140.53M865.30,143.00L870.00,149.47M865.30,143.00L860.60,149.47M865.30,143.00L857.69,140.53" stroke="#111" stroke-width="3.4" stroke-linecap="butt" fill="none"/>
<path d="M887.10,143.00L887.10,135.00M887.10,143.00L894.71,140.53M887.10,143.00L891.80,149.47M887.10,143.00L882.40,149.47M887.10,143.00L879.49,140.53" stroke="#111" stroke-width="3.4" stroke-linecap="butt" fill="none"/>
<path d="M906.40,122.50L906.40,114.50M906.40,122.50L914.01,120.03M906.40,122.50L911.10,128.97M906.40,122.50L901.70,128.97M906.40,122.50L898.79,120.03" stroke="#111" stroke-width="3.4" stroke-linecap="butt" fill="none"/>
<path d="M928.20,122.50L928.20,114.50M928.20,122.50L935.81,120.03M928.20,122.50L932.90,128.97M928.20,122.50L923.50,128.97M928.20,122.50L920.59,120.03" stroke="#111" stroke-width="3.4" stroke-linecap="butt" fill="none"/>
<path d="M950.00,122.50L950.00,114.50M950.00,122.50L957.61,120.03M950.00,122.50L954.70,128.97M950.00,122.50L945.30,128.97M950.00,122.50L942.39,120.03" stroke="#111" stroke-width="3.4" stroke-linecap="butt" fill="none"/>
<line x1="483.5" y1="457.1" x2="483.5" y2="855.3" stroke="#000" stroke-width="2"/>
<line x1="483.5" y1="854.3" x2="992.8" y2="854.3" stroke="#000" stroke-width="2"/>
<line x1="483.5" y1="457.1" x2="491.5" y2="457.1" stroke="#000" stroke-width="2"/>
<text x="474.5" y="466.1" font-size="25" text-anchor="end" fill="#231f20">4</text>
<line x1="483.5" y1="523.3" x2="491.5" y2="523.3" stroke="#000" stroke-width="2"/>
<text x="474.5" y="532.3" font-size="25" text-anchor="end" fill="#231f20">3</text>
<line x1="483.5" y1="589.5" x2="491.5" y2="589.5" stroke="#000" stroke-width="2"/>
<text x="474.5" y="598.5" font-size="25" text-anchor="end" fill="#231f20">2</text>
<line x1="483.5" y1="655.7" x2="491.5" y2="655.7" stroke="#000" stroke-width="2"/>
<text x="474.5" y="664.7" font-size="25" text-anchor="end" fill="#231f20">1</text>
<line x1="483.5" y1="721.9" x2="491.5" y2="721.9" stroke="#000" stroke-width="2"/>
<text x="474.5" y="730.9" font-size="25" text-anchor="end" fill="#231f20">0</text>
<line x1="483.5" y1="788.1" x2="491.5" y2="788.1" stroke="#000" stroke-width="2"/>
<text x="474.5" y="797.1" font-size="25" text-anchor="end" fill="#231f20">-1</text>
<line x1="483.5" y1="854.3" x2="491.5" y2="854.3" stroke="#000" stroke-width="2"/>
<text x="474.5" y="863.3" font-size="25" text-anchor="end" fill="#231f20">-2</text>
<line x1="737.2" y1="845.3" x2="737.2" y2="854.3" stroke="#000" stroke-width="2"/>
<text x="546.6" y="882.0" font-size="23" text-anchor="middle" fill="#231f20">0</text>
<text x="737.2" y="882.0" font-size="23" text-anchor="middle" fill="#231f20">15</text>
<text x="927.9" y="882.0" font-size="23" text-anchor="middle" fill="#231f20">30</text>
<text x="734.0" y="915.0" font-size="30" text-anchor="middle" fill="#231f20">Time (min)</text>
<text x="431.0" y="649.0" font-size="30" text-anchor="middle" fill="#231f20" transform="rotate(-90 431.0 649.0)">z-score</text>
<path d="M483.5,754.2 L484.5,756.0 L485.5,745.1 L486.5,722.4 L487.5,732.1 L488.5,721.5 L489.4,715.3 L489.5,707.5 L490.5,713.8 L491.5,722.2 L492.5,723.7 L493.5,722.2 L494.5,723.1 L495.5,720.1 L496.5,707.8 L497.5,698.2 L498.5,709.7 L499.5,703.9 L500.5,692.9 L501.5,676.7 L502.1,692.4 L502.5,692.6 L503.5,700.0 L504.5,702.0 L505.5,697.7 L506.5,689.5 L507.5,682.7 L508.5,674.8 L509.5,681.7 L510.5,695.6 L511.5,702.4 L512.5,702.1 L513.5,711.8 L514.5,719.4 L514.8,713.6 L515.5,700.2 L516.5,685.8 L517.5,696.6 L518.5,704.1 L519.5,716.5 L520.5,723.0 L521.5,730.7 L522.5,719.4 L523.5,703.1 L524.5,694.0 L525.5,690.4 L526.5,707.5 L527.5,710.7 L527.5,702.1 L528.5,699.6 L529.5,703.4 L530.5,701.3 L531.5,694.9 L532.5,700.1 L533.5,720.9 L534.5,721.1 L535.5,703.2 L536.5,700.0 L537.5,679.8 L537.7,682.1 L538.5,682.3 L539.5,682.2 L540.5,676.0 L541.5,677.4 L542.5,688.0 L543.5,697.8 L544.5,716.5 L545.5,712.6 L546.0,712.9 L546.5,651.7 L547.5,527.7 L547.9,475.1 L548.5,484.1 L549.5,492.6 L550.5,509.4 L551.0,528.8 L551.5,534.2 L552.5,561.5 L553.5,587.3 L554.2,601.2 L554.5,595.8 L555.5,608.6 L556.5,622.9 L557.5,618.0 L558.5,638.9 L559.3,650.9 L559.5,642.0 L560.5,623.9 L561.5,631.3 L562.5,630.2 L563.5,632.0 L564.5,651.3 L565.5,664.7 L566.5,676.3 L567.5,666.0 L568.5,664.0 L569.5,670.1 L570.5,666.4 L571.5,652.1 L572.0,657.6 L572.5,655.3 L573.5,651.4 L574.5,650.9 L575.5,650.0 L576.5,628.2 L577.5,633.6 L578.5,639.3 L579.5,655.6 L580.5,660.1 L581.5,660.8 L582.5,641.7 L583.5,652.4 L584.5,667.4 L584.7,667.7 L585.5,660.4 L586.5,665.0 L587.5,634.6 L588.5,630.9 L589.5,627.8 L590.5,641.1 L591.5,653.5 L592.5,642.0 L593.5,653.5 L594.5,641.9 L594.9,653.6 L595.5,658.7 L596.5,654.3 L597.5,644.0 L598.5,628.8 L599.5,626.1 L600.0,617.0 L600.5,629.7 L601.5,624.4 L602.5,642.7 L603.5,668.5 L604.5,687.4 L605.1,688.3 L605.5,670.7 L606.5,673.0 L607.5,671.8 L608.5,671.3 L609.5,673.7 L610.5,674.4 L611.5,683.3 L612.5,677.6 L613.5,675.5 L614.5,648.3 L615.5,659.8 L616.5,659.6 L616.5,662.6 L617.5,666.0 L618.5,663.3 L619.5,669.0 L620.5,663.3 L621.5,666.6 L622.5,660.9 L623.5,643.4 L624.5,654.1 L625.5,673.2 L626.5,684.0 L627.5,677.8 L628.5,663.8 L629.5,665.6 L630.5,665.0 L631.5,662.4 L632.5,659.6 L633.5,653.0 L634.5,656.3 L635.5,669.4 L635.6,678.1 L636.5,676.5 L637.5,670.8 L638.5,654.5 L639.5,632.2 L640.5,643.2 L641.5,650.2 L642.5,681.4 L643.5,696.0 L644.5,693.1 L645.5,675.2 L646.5,682.4 L647.5,677.6 L648.5,695.6 L649.5,696.1 L650.5,681.0 L651.5,674.3 L652.5,669.9 L653.5,666.0 L654.5,686.4 L655.5,697.6 L656.5,697.3 L657.5,698.4 L658.5,687.8 L659.5,680.9 L660.5,664.3 L661.0,675.0 L661.5,687.0 L662.5,697.2 L663.5,692.2 L664.5,698.9 L665.5,691.0 L666.5,682.6 L667.5,662.1 L668.5,650.2 L669.5,662.4 L670.5,661.7 L671.5,665.3 L672.5,684.1 L673.5,695.3 L674.5,695.1 L675.5,693.7 L676.5,678.5 L677.5,673.2 L678.5,669.6 L679.5,673.2 L680.5,669.9 L681.5,674.4 L682.5,710.1 L683.5,733.8 L684.5,741.2 L685.5,734.5 L686.5,705.9 L687.5,688.4 L688.5,689.9 L689.5,689.9 L690.5,688.5 L691.5,683.5 L692.5,667.0 L692.8,674.9 L693.5,684.5 L694.5,683.3 L695.5,679.6 L696.5,670.1 L697.5,690.0 L698.5,695.0 L699.5,697.7 L700.5,699.6 L701.5,694.9 L702.5,701.9 L703.5,704.8 L704.5,695.8 L705.5,685.5 L706.5,663.7 L707.5,666.8 L708.5,666.1 L709.5,685.1 L710.5,698.2 L711.5,712.0 L712.5,713.0 L713.5,687.6 L714.5,700.8 L715.5,704.9 L716.5,703.4 L717.5,689.4 L718.5,671.7 L719.5,673.6 L720.5,665.0 L721.5,683.7 L722.5,700.1 L723.5,710.6 L724.5,695.6 L724.5,684.7 L725.5,665.9 L726.5,662.2 L727.5,672.0 L728.5,672.8 L729.5,692.1 L730.5,700.5 L731.5,697.8 L732.5,674.6 L733.5,673.7 L734.5,684.1 L735.5,692.9 L736.5,696.5 L737.5,691.8 L738.5,681.6 L739.5,680.9 L740.5,693.0 L741.5,704.8 L742.5,699.6 L743.5,701.5 L744.5,688.1 L745.5,688.3 L746.5,698.8 L747.5,700.6 L748.5,704.5 L749.5,717.4 L750.0,708.8 L750.5,699.3 L751.5,679.8 L752.5,672.9 L753.5,679.0 L754.5,673.6 L755.5,687.3 L756.5,696.9 L757.5,689.2 L758.5,690.7 L759.5,686.3 L760.5,681.5 L761.5,664.6 L762.5,683.7 L763.5,695.8 L764.5,709.7 L765.5,711.3 L766.5,717.8 L767.5,707.3 L768.5,694.1 L769.5,667.7 L770.5,664.7 L771.5,658.3 L772.5,661.1 L773.5,662.6 L774.5,661.7 L775.4,683.5 L775.5,699.1 L776.5,705.4 L777.5,683.0 L778.5,668.2 L779.5,674.3 L780.5,695.3 L781.5,702.3 L782.5,698.9 L783.5,700.3 L784.5,684.8 L785.5,689.7 L786.5,685.8 L787.5,685.7 L788.5,691.6 L789.4,687.6 L789.5,677.4 L790.5,676.9 L791.5,684.8 L792.5,708.7 L793.2,733.0 L793.5,748.7 L794.5,753.3 L795.5,746.1 L796.5,721.3 L797.0,699.9 L797.5,687.7 L798.5,704.1 L799.5,709.2 L800.5,703.3 L801.5,689.9 L802.5,654.3 L803.5,657.1 L804.5,670.0 L805.5,694.7 L806.5,693.5 L807.5,694.7 L808.5,691.0 L809.5,697.8 L810.5,694.6 L811.5,679.8 L812.5,661.7 L813.5,655.1 L813.5,654.6 L814.5,663.2 L815.5,677.1 L816.5,678.1 L817.5,678.3 L818.5,701.8 L819.5,704.2 L820.5,698.6 L821.5,690.2 L822.5,674.0 L823.5,676.7 L824.5,681.4 L825.5,693.4 L826.5,690.1 L827.5,693.6 L828.5,680.7 L829.5,672.2 L830.5,681.5 L831.5,685.0 L832.5,704.6 L832.6,704.3 L833.5,696.0 L834.5,691.9 L835.5,696.6 L836.5,687.9 L837.5,680.5 L838.5,685.9 L839.5,693.7 L840.5,701.2 L841.5,699.4 L842.5,685.6 L843.5,678.7 L844.5,691.6 L845.5,708.3 L846.5,724.7 L847.5,719.1 L848.5,727.4 L849.5,707.4 L850.5,707.9 L851.5,708.4 L852.5,716.3 L853.5,726.3 L854.2,734.9 L854.5,732.1 L855.5,724.5 L856.5,710.4 L857.5,722.8 L858.5,706.7 L859.5,719.2 L860.5,707.5 L861.5,694.1 L862.5,690.3 L863.5,690.4 L864.4,682.6 L864.5,680.0 L865.5,678.4 L866.5,659.8 L867.5,659.5 L868.5,652.4 L869.5,660.9 L870.5,669.8 L871.5,667.3 L872.5,674.2 L873.5,668.0 L874.5,664.8 L874.5,662.1 L875.5,652.6 L876.5,662.4 L877.5,651.6 L878.3,631.0 L878.5,634.4 L879.5,654.4 L880.5,668.2 L881.5,687.8 L882.1,681.8 L882.5,683.0 L883.5,695.3 L884.5,682.2 L885.5,684.1 L886.5,690.7 L887.5,705.4 L888.5,698.0 L889.5,703.0 L890.5,679.9 L891.5,688.6 L892.5,687.5 L893.5,687.7 L894.5,693.8 L895.5,698.2 L896.1,712.3 L896.5,720.3 L897.5,712.9 L898.5,700.2 L899.5,699.6 L900.5,698.2 L901.5,699.4 L902.5,706.8 L903.5,695.1 L904.5,717.9 L905.5,743.3 L906.3,766.7 L906.5,758.3 L907.5,751.2 L908.5,736.1 L909.5,736.5 L910.5,745.0 L911.5,755.1 L912.5,751.3 L913.5,758.5 L914.5,752.0 L915.5,752.6 L916.5,739.2 L917.5,748.1 L917.7,761.5 L918.5,768.1 L919.5,765.4 L920.5,747.4 L921.5,727.8 L922.5,715.7 L923.5,721.1 L924.5,754.3 L925.4,753.1 L925.5,749.4 L926.5,728.6 L927.5,709.8 L928.5,705.4 L929.2,698.8 L929.5,697.9 L930.5,690.9 L931.5,678.0 L932.5,689.2 L933.0,718.3 L933.5,746.0 L934.5,739.9 L935.5,758.9 L936.5,765.3 L937.5,763.9 L938.5,756.1 L939.5,751.9 L940.5,745.9 L940.6,746.4 L941.5,754.8 L942.5,760.4 L943.5,754.7 L944.5,757.5 L945.5,742.1 L946.5,742.7 L947.5,737.4 L948.5,747.6 L949.5,749.7 L950.5,752.0 L951.5,754.3 L952.5,753.2 L953.3,747.1 L953.5,733.6 L954.5,722.2 L955.5,719.6 L956.5,735.8 L957.5,736.6 L958.5,742.2 L959.5,740.3 L960.5,743.0 L961.5,738.4 L962.5,733.9 L963.5,732.6 L964.5,717.9 L965.5,731.8 L966.0,725.8 L966.5,746.3 L967.5,739.6 L968.5,737.3 L969.5,724.7 L970.5,728.0 L971.5,724.9 L972.5,741.3 L973.5,742.0 L974.5,728.5 L975.5,718.3 L976.5,734.3 L977.5,744.5 L978.5,731.1 L978.7,716.2 L979.5,719.1 L980.5,730.9 L981.5,753.0 L982.5,755.3 L983.5,762.4 L984.5,767.9 L985.5,754.1 L986.4,768.3 L986.5,772.1 L987.5,767.1 L988.5,760.0 L989.5,751.7 L990.5,752.7 L991.5,747.4 L991.5,786.9 L990.5,787.0 L989.5,794.8 L988.5,793.4 L987.5,796.2 L986.5,800.5 L986.4,808.3 L985.5,817.8 L984.5,795.9 L983.5,789.8 L982.5,796.8 L981.5,780.3 L980.5,774.2 L979.5,755.3 L978.7,752.5 L978.5,763.2 L977.5,773.2 L976.5,781.4 L975.5,783.7 L974.5,771.8 L973.5,768.5 L972.5,772.8 L971.5,779.7 L970.5,766.6 L969.5,772.4 L968.5,774.1 L967.5,782.9 L966.5,773.4 L966.0,784.2 L965.5,769.9 L964.5,780.5 L963.5,771.5 L962.5,778.5 L961.5,776.3 L960.5,772.0 L959.5,777.5 L958.5,776.4 L957.5,775.0 L956.5,762.8 L955.5,767.4 L954.5,765.9 L953.5,772.1 L953.3,778.5 L952.5,781.7 L951.5,781.8 L950.5,784.1 L949.5,784.2 L948.5,779.9 L947.5,780.5 L946.5,772.0 L945.5,782.8 L944.5,784.8 L943.5,800.3 L942.5,793.9 L941.5,787.6 L940.6,784.7 L940.5,781.2 L939.5,781.8 L938.5,791.2 L937.5,793.7 L936.5,795.3 L935.5,797.9 L934.5,806.2 L933.5,777.3 L933.0,768.0 L932.5,752.4 L931.5,736.9 L930.5,728.2 L929.5,730.0 L929.2,737.9 L928.5,742.0 L927.5,750.8 L926.5,758.6 L925.5,778.0 L925.4,790.9 L924.5,780.8 L923.5,781.5 L922.5,760.3 L921.5,757.6 L920.5,778.2 L919.5,794.6 L918.5,798.2 L917.7,792.3 L917.5,792.2 L916.5,803.9 L915.5,802.4 L914.5,803.9 L913.5,786.7 L912.5,792.9 L911.5,793.4 L910.5,789.8 L909.5,776.8 L908.5,780.9 L907.5,796.3 L906.5,814.5 L906.3,800.8 L905.5,779.8 L904.5,756.3 L903.5,757.0 L902.5,744.4 L901.5,750.5 L900.5,742.5 L899.5,732.1 L898.5,740.4 L897.5,753.4 L896.5,757.8 L896.1,751.9 L895.5,740.6 L894.5,726.7 L893.5,728.0 L892.5,731.6 L891.5,733.3 L890.5,745.1 L889.5,731.4 L888.5,746.4 L887.5,736.1 L886.5,729.8 L885.5,716.2 L884.5,722.7 L883.5,726.5 L882.5,741.0 L882.1,736.0 L881.5,715.0 L880.5,707.9 L879.5,684.8 L878.5,670.2 L878.3,672.9 L877.5,680.1 L876.5,692.0 L875.5,707.0 L874.5,697.7 L874.5,692.2 L873.5,699.5 L872.5,705.4 L871.5,715.6 L870.5,706.6 L869.5,704.1 L868.5,704.2 L867.5,701.3 L866.5,718.7 L865.5,721.8 L864.5,734.2 L864.4,731.8 L863.5,721.2 L862.5,720.3 L861.5,731.9 L860.5,745.6 L859.5,751.6 L858.5,768.5 L857.5,752.8 L856.5,765.6 L855.5,755.6 L854.5,759.3 L854.2,762.3 L853.5,759.7 L852.5,748.8 L851.5,745.4 L850.5,749.6 L849.5,762.1 L848.5,759.7 L847.5,777.7 L846.5,757.9 L845.5,741.0 L844.5,723.8 L843.5,718.3 L842.5,719.5 L841.5,732.2 L840.5,744.0 L839.5,734.5 L838.5,713.7 L837.5,709.5 L836.5,718.3 L835.5,728.5 L834.5,735.2 L833.5,731.5 L832.6,732.2 L832.5,731.3 L831.5,728.2 L830.5,710.2 L829.5,714.9 L828.5,715.1 L827.5,720.5 L826.5,741.5 L825.5,734.4 L824.5,722.4 L823.5,709.1 L822.5,714.6 L821.5,720.4 L820.5,740.3 L819.5,747.1 L818.5,738.4 L817.5,740.7 L816.5,720.9 L815.5,704.9 L814.5,700.1 L813.5,688.3 L813.5,682.8 L812.5,699.9 L811.5,718.8 L810.5,731.7 L809.5,739.7 L808.5,748.6 L807.5,748.2 L806.5,749.4 L805.5,726.2 L804.5,709.4 L803.5,696.7 L802.5,716.9 L801.5,725.8 L800.5,748.9 L799.5,749.8 L798.5,734.0 L797.5,731.9 L797.0,733.2 L796.5,756.8 L795.5,773.1 L794.5,780.9 L793.5,783.0 L793.2,768.0 L792.5,735.7 L791.5,716.9 L790.5,713.6 L789.5,715.2 L789.4,720.5 L788.5,724.9 L787.5,731.1 L786.5,727.1 L785.5,721.9 L784.5,731.9 L783.5,728.3 L782.5,745.4 L781.5,746.2 L780.5,731.9 L779.5,719.7 L778.5,716.8 L777.5,728.4 L776.5,734.9 L775.5,736.8 L775.4,717.3 L774.5,704.6 L773.5,690.1 L772.5,689.9 L771.5,695.9 L770.5,705.4 L769.5,728.0 L768.5,728.9 L767.5,741.5 L766.5,744.8 L765.5,749.5 L764.5,740.6 L763.5,733.0 L762.5,713.2 L761.5,713.4 L760.5,708.8 L759.5,729.5 L758.5,738.2 L757.5,740.3 L756.5,725.0 L755.5,715.7 L754.5,711.9 L753.5,708.9 L752.5,731.6 L751.5,743.0 L750.5,743.8 L750.0,752.1 L749.5,746.8 L748.5,747.9 L747.5,737.7 L746.5,729.1 L745.5,730.2 L744.5,728.5 L743.5,728.3 L742.5,744.2 L741.5,733.4 L740.5,721.4 L739.5,711.8 L738.5,713.0 L737.5,725.2 L736.5,734.8 L735.5,726.7 L734.5,712.3 L733.5,714.9 L732.5,729.4 L731.5,726.8 L730.5,731.0 L729.5,730.9 L728.5,732.6 L727.5,712.3 L726.5,706.2 L725.5,705.3 L724.5,716.2 L724.5,743.0 L723.5,738.8 L722.5,726.8 L721.5,714.7 L720.5,719.1 L719.5,707.9 L718.5,717.4 L717.5,721.1 L716.5,731.2 L715.5,739.4 L714.5,739.5 L713.5,753.6 L712.5,742.0 L711.5,748.0 L710.5,739.6 L709.5,719.2 L708.5,711.0 L707.5,696.8 L706.5,713.2 L705.5,724.7 L704.5,740.8 L703.5,740.5 L702.5,738.4 L701.5,735.4 L700.5,727.4 L699.5,733.1 L698.5,734.2 L697.5,723.9 L696.5,724.8 L695.5,709.0 L694.5,712.1 L693.5,717.5 L692.8,724.3 L692.5,726.8 L691.5,717.5 L690.5,730.2 L689.5,731.9 L688.5,716.9 L687.5,722.6 L686.5,750.6 L685.5,773.4 L684.5,781.0 L683.5,767.6 L682.5,752.6 L681.5,741.7 L680.5,712.0 L679.5,700.2 L678.5,707.6 L677.5,708.5 L676.5,715.2 L675.5,721.7 L674.5,733.0 L673.5,723.2 L672.5,715.0 L671.5,718.9 L670.5,707.4 L669.5,690.5 L668.5,702.7 L667.5,710.2 L666.5,712.4 L665.5,721.6 L664.5,728.0 L663.5,741.9 L662.5,730.1 L661.5,719.7 L661.0,708.2 L660.5,710.4 L659.5,707.9 L658.5,724.3 L657.5,726.6 L656.5,729.5 L655.5,725.9 L654.5,723.9 L653.5,723.9 L652.5,706.6 L651.5,707.7 L650.5,726.9 L649.5,737.2 L648.5,734.1 L647.5,728.5 L646.5,712.1 L645.5,726.9 L644.5,724.6 L643.5,728.4 L642.5,718.2 L641.5,700.5 L640.5,675.6 L639.5,691.7 L638.5,695.6 L637.5,705.9 L636.5,713.5 L635.6,709.2 L635.5,707.8 L634.5,707.8 L633.5,701.7 L632.5,695.7 L631.5,699.4 L630.5,699.9 L629.5,702.7 L628.5,721.3 L627.5,727.9 L626.5,718.7 L625.5,701.0 L624.5,691.4 L623.5,694.6 L622.5,689.3 L621.5,697.3 L620.5,704.3 L619.5,698.8 L618.5,707.4 L617.5,703.8 L616.5,697.6 L616.5,689.9 L615.5,687.4 L614.5,711.0 L613.5,707.9 L612.5,721.3 L611.5,711.1 L610.5,707.8 L609.5,701.6 L608.5,702.4 L607.5,699.4 L606.5,700.4 L605.5,720.1 L605.1,725.5 L604.5,725.1 L603.5,715.9 L602.5,700.7 L601.5,680.2 L600.5,656.6 L600.0,670.2 L599.5,662.4 L598.5,663.9 L597.5,671.7 L596.5,685.8 L595.5,686.9 L594.9,684.8 L594.5,692.4 L593.5,685.4 L592.5,700.3 L591.5,681.3 L590.5,675.6 L589.5,673.5 L588.5,671.6 L587.5,689.7 L586.5,691.8 L585.5,718.3 L584.7,711.8 L584.5,697.9 L583.5,698.2 L582.5,704.8 L581.5,692.7 L580.5,696.2 L579.5,687.3 L578.5,677.5 L577.5,665.9 L576.5,681.5 L575.5,681.9 L574.5,688.2 L573.5,684.8 L572.5,684.9 L572.0,694.2 L571.5,710.8 L570.5,703.8 L569.5,705.6 L568.5,717.6 L567.5,723.1 L566.5,710.9 L565.5,701.9 L564.5,685.6 L563.5,677.8 L562.5,662.5 L561.5,661.5 L560.5,683.1 L559.5,679.8 L559.3,679.2 L558.5,680.6 L557.5,684.7 L556.5,655.4 L555.5,651.5 L554.5,647.6 L554.2,638.8 L553.5,617.3 L552.5,593.5 L551.5,572.4 L551.0,555.7 L550.5,553.9 L549.5,535.4 L548.5,516.3 L547.9,515.7 L547.5,562.1 L546.5,683.5 L546.0,749.2 L545.5,742.5 L544.5,745.2 L543.5,736.4 L542.5,725.0 L541.5,726.7 L540.5,728.6 L539.5,721.9 L538.5,715.9 L537.7,710.5 L537.5,721.8 L536.5,728.5 L535.5,754.0 L534.5,751.1 L533.5,748.4 L532.5,758.3 L531.5,756.9 L530.5,747.0 L529.5,736.9 L528.5,736.1 L527.5,743.2 L527.5,742.7 L526.5,735.1 L525.5,731.6 L524.5,724.6 L523.5,740.3 L522.5,757.1 L521.5,760.5 L520.5,763.0 L519.5,757.4 L518.5,748.0 L517.5,726.9 L516.5,728.6 L515.5,734.2 L514.8,748.0 L514.5,753.7 L513.5,754.8 L512.5,752.7 L511.5,739.4 L510.5,727.5 L509.5,722.8 L508.5,725.3 L507.5,725.8 L506.5,728.5 L505.5,727.3 L504.5,731.5 L503.5,741.8 L502.5,742.4 L502.1,719.3 L501.5,724.5 L500.5,722.5 L499.5,731.2 L498.5,738.7 L497.5,755.8 L496.5,748.6 L495.5,747.3 L494.5,758.2 L493.5,761.2 L492.5,755.0 L491.5,753.7 L490.5,758.3 L489.5,761.0 L489.4,752.6 L488.5,756.6 L487.5,760.5 L486.5,792.7 L485.5,783.6 L484.5,782.7 L483.5,790.2Z" fill="#c2c2c2" stroke="none"/>
<polyline points="483.5,772.2 484.5,769.4 485.5,764.3 486.5,757.5 487.5,746.3 488.5,739.0 489.4,734.0 489.5,734.3 490.5,736.0 491.5,738.0 492.5,739.3 493.5,741.7 494.5,740.7 495.5,733.7 496.5,728.2 497.5,727.0 498.5,724.2 499.5,717.5 500.5,707.7 501.5,700.6 502.1,705.8 502.5,717.5 503.5,720.9 504.5,716.8 505.5,712.5 506.5,709.0 507.5,704.3 508.5,700.0 509.5,702.2 510.5,711.5 511.5,720.9 512.5,727.4 513.5,733.3 514.5,736.5 514.8,730.8 515.5,717.2 516.5,707.2 517.5,711.8 518.5,726.1 519.5,737.0 520.5,743.0 521.5,745.6 522.5,738.2 523.5,721.7 524.5,709.3 525.5,711.0 526.5,721.3 527.5,726.7 527.5,722.6 528.5,717.8 529.5,720.1 530.5,724.1 531.5,725.9 532.5,729.2 533.5,734.6 534.5,736.1 535.5,728.6 536.5,714.2 537.5,700.8 537.7,696.3 538.5,699.1 539.5,702.1 540.5,702.3 541.5,702.1 542.5,706.5 543.5,717.1 544.5,730.8 545.5,727.5 546.0,731.0 546.5,667.6 547.5,544.9 547.9,495.4 548.5,500.2 549.5,514.0 550.5,531.6 551.0,542.2 551.5,553.3 552.5,577.5 553.5,602.3 554.2,620.0 554.5,621.7 555.5,630.0 556.5,639.1 557.5,651.4 558.5,659.7 559.3,665.0 559.5,660.9 560.5,653.5 561.5,646.4 562.5,646.4 563.5,654.9 564.5,668.4 565.5,683.3 566.5,693.6 567.5,694.6 568.5,690.8 569.5,687.9 570.5,685.1 571.5,681.4 572.0,675.9 572.5,670.1 573.5,668.1 574.5,669.5 575.5,666.0 576.5,654.8 577.5,649.7 578.5,658.4 579.5,671.4 580.5,678.2 581.5,676.8 582.5,673.3 583.5,675.3 584.5,682.6 584.7,689.7 585.5,689.4 586.5,678.4 587.5,662.2 588.5,651.2 589.5,650.6 590.5,658.3 591.5,667.4 592.5,671.1 593.5,669.5 594.5,667.1 594.9,669.2 595.5,672.8 596.5,670.1 597.5,657.8 598.5,646.4 599.5,644.2 600.0,643.6 600.5,643.2 601.5,652.3 602.5,671.7 603.5,692.2 604.5,706.3 605.1,706.9 605.5,695.4 606.5,686.7 607.5,685.6 608.5,686.8 609.5,687.7 610.5,691.1 611.5,697.2 612.5,699.4 613.5,691.7 614.5,679.7 615.5,673.6 616.5,674.7 616.5,680.1 617.5,684.9 618.5,685.4 619.5,683.9 620.5,683.8 621.5,682.0 622.5,675.1 623.5,669.0 624.5,672.8 625.5,687.1 626.5,701.4 627.5,702.9 628.5,692.6 629.5,684.1 630.5,682.4 631.5,680.9 632.5,677.6 633.5,677.3 634.5,682.0 635.5,688.6 635.6,693.6 636.5,695.0 637.5,688.3 638.5,675.0 639.5,661.9 640.5,659.4 641.5,675.3 642.5,699.8 643.5,712.2 644.5,708.8 645.5,701.0 646.5,697.2 647.5,703.0 648.5,714.9 649.5,716.6 650.5,703.9 651.5,691.0 652.5,688.3 653.5,694.9 654.5,705.1 655.5,711.8 656.5,713.4 657.5,712.5 658.5,706.1 659.5,694.4 660.5,687.3 661.0,691.6 661.5,703.3 662.5,713.7 663.5,717.1 664.5,713.5 665.5,706.3 666.5,697.5 667.5,686.2 668.5,676.5 669.5,676.5 670.5,684.5 671.5,692.1 672.5,699.5 673.5,709.3 674.5,714.1 675.5,707.7 676.5,696.8 677.5,690.8 678.5,688.6 679.5,686.7 680.5,690.9 681.5,708.0 682.5,731.4 683.5,750.7 684.5,761.1 685.5,753.9 686.5,728.2 687.5,705.5 688.5,703.4 689.5,710.9 690.5,709.4 691.5,700.5 692.5,696.9 692.8,699.6 693.5,701.0 694.5,697.7 695.5,694.3 696.5,697.5 697.5,707.0 698.5,714.6 699.5,715.4 700.5,713.5 701.5,715.1 702.5,720.2 703.5,722.6 704.5,718.3 705.5,705.1 706.5,688.4 707.5,681.8 708.5,688.6 709.5,702.2 710.5,718.9 711.5,730.0 712.5,727.5 713.5,720.6 714.5,720.2 715.5,722.2 716.5,717.3 717.5,705.3 718.5,694.6 719.5,690.7 720.5,692.1 721.5,699.2 722.5,713.4 723.5,724.7 724.5,719.3 724.5,700.4 725.5,685.6 726.5,684.2 727.5,692.2 728.5,702.7 729.5,711.5 730.5,715.7 731.5,712.3 732.5,702.0 733.5,694.3 734.5,698.2 735.5,709.8 736.5,715.6 737.5,708.5 738.5,697.3 739.5,696.4 740.5,707.2 741.5,719.1 742.5,721.9 743.5,714.9 744.5,708.3 745.5,709.3 746.5,713.9 747.5,719.1 748.5,726.2 749.5,732.1 750.0,730.4 750.5,721.5 751.5,711.4 752.5,702.2 753.5,693.9 754.5,692.7 755.5,701.5 756.5,711.0 757.5,714.8 758.5,714.4 759.5,707.9 760.5,695.1 761.5,689.0 762.5,698.5 763.5,714.4 764.5,725.2 765.5,730.4 766.5,731.3 767.5,724.4 768.5,711.5 769.5,697.9 770.5,685.1 771.5,677.1 772.5,675.5 773.5,676.3 774.5,683.2 775.4,700.4 775.5,718.0 776.5,720.2 777.5,705.7 778.5,692.5 779.5,697.0 780.5,713.6 781.5,724.2 782.5,722.1 783.5,714.3 784.5,708.3 785.5,705.8 786.5,706.5 787.5,708.4 788.5,708.2 789.4,704.1 789.5,696.3 790.5,695.2 791.5,700.8 792.5,722.2 793.2,750.5 793.5,765.9 794.5,767.1 795.5,759.6 796.5,739.0 797.0,716.6 797.5,709.8 798.5,719.0 799.5,729.5 800.5,726.1 801.5,707.9 802.5,685.6 803.5,676.9 804.5,689.7 805.5,710.5 806.5,721.4 807.5,721.5 808.5,719.8 809.5,718.7 810.5,713.1 811.5,699.3 812.5,680.8 813.5,668.9 813.5,671.5 814.5,681.6 815.5,691.0 816.5,699.5 817.5,709.5 818.5,720.1 819.5,725.6 820.5,719.4 821.5,705.3 822.5,694.3 823.5,692.9 824.5,701.9 825.5,713.9 826.5,715.8 827.5,707.0 828.5,697.9 829.5,693.6 830.5,695.8 831.5,706.6 832.5,717.9 832.6,718.3 833.5,713.7 834.5,713.6 835.5,712.5 836.5,703.1 837.5,695.0 838.5,699.8 839.5,714.1 840.5,722.6 841.5,715.8 842.5,702.6 843.5,698.5 844.5,707.7 845.5,724.7 846.5,741.3 847.5,748.4 848.5,743.5 849.5,734.7 850.5,728.7 851.5,726.9 852.5,732.6 853.5,743.0 854.2,748.6 854.5,745.7 855.5,740.1 856.5,738.0 857.5,737.8 858.5,737.6 859.5,735.4 860.5,726.5 861.5,713.0 862.5,705.3 863.5,705.8 864.4,707.2 864.5,707.1 865.5,700.1 866.5,689.3 867.5,680.4 868.5,678.3 869.5,682.5 870.5,688.2 871.5,691.4 872.5,689.8 873.5,683.8 874.5,678.5 874.5,679.9 875.5,679.8 876.5,677.2 877.5,665.8 878.3,652.0 878.5,652.3 879.5,669.6 880.5,688.1 881.5,701.4 882.1,708.9 882.5,712.0 883.5,710.9 884.5,702.4 885.5,700.2 886.5,710.3 887.5,720.7 888.5,722.2 889.5,717.2 890.5,712.5 891.5,711.0 892.5,709.6 893.5,707.9 894.5,710.3 895.5,719.4 896.1,732.1 896.5,739.0 897.5,733.2 898.5,720.3 899.5,715.8 900.5,720.3 901.5,725.0 902.5,725.6 903.5,726.1 904.5,737.1 905.5,761.5 906.3,783.7 906.5,786.4 907.5,773.7 908.5,758.5 909.5,756.6 910.5,767.4 911.5,774.3 912.5,772.1 913.5,772.6 914.5,777.9 915.5,777.5 916.5,771.5 917.5,770.2 917.7,776.9 918.5,783.2 919.5,780.0 920.5,762.8 921.5,742.7 922.5,738.0 923.5,751.3 924.5,767.6 925.4,772.0 925.5,763.7 926.5,743.6 927.5,730.3 928.5,723.7 929.2,718.4 929.5,713.9 930.5,709.6 931.5,707.4 932.5,720.8 933.0,743.2 933.5,761.7 934.5,773.1 935.5,778.4 936.5,780.3 937.5,778.8 938.5,773.6 939.5,766.8 940.5,763.6 940.6,765.5 941.5,771.2 942.5,777.1 943.5,777.5 944.5,771.1 945.5,762.5 946.5,757.3 947.5,758.9 948.5,763.8 949.5,767.0 950.5,768.1 951.5,768.0 952.5,767.4 953.3,762.8 953.5,752.9 954.5,744.0 955.5,743.5 956.5,749.3 957.5,755.8 958.5,759.3 959.5,758.9 960.5,757.5 961.5,757.4 962.5,756.2 963.5,752.1 964.5,749.2 965.5,750.8 966.0,755.0 966.5,759.8 967.5,761.3 968.5,755.7 969.5,748.5 970.5,747.3 971.5,752.3 972.5,757.1 973.5,755.2 974.5,750.2 975.5,751.0 976.5,757.9 977.5,758.8 978.5,747.2 978.7,734.3 979.5,737.2 980.5,752.6 981.5,766.6 982.5,776.1 983.5,776.1 984.5,781.9 985.5,786.0 986.4,788.3 986.5,786.3 987.5,781.7 988.5,776.7 989.5,773.3 990.5,769.8 991.5,767.2" fill="none" stroke="#1e1e1e" stroke-width="2.8" stroke-linejoin="round"/>
<text x="1038.5" y="28.2" font-size="38.5" text-anchor="start" fill="#231f20" font-weight="bold">e</text>
<line x1="1091.7" y1="94.0" x2="1091.7" y2="390.0" stroke="#000" stroke-width="2"/>
<line x1="1091.7" y1="389.0" x2="1465.3" y2="389.0" stroke="#000" stroke-width="2"/>
<line x1="1091.7" y1="389.0" x2="1096.7" y2="389.0" stroke="#000" stroke-width="2"/>
<text x="1083.5" y="395.8" font-size="21.5" text-anchor="end" fill="#231f20">-1</text>
<line x1="1091.7" y1="340.0" x2="1096.7" y2="340.0" stroke="#000" stroke-width="2"/>
<text x="1083.5" y="346.8" font-size="21.5" text-anchor="end" fill="#231f20">0</text>
<line x1="1091.7" y1="291.0" x2="1096.7" y2="291.0" stroke="#000" stroke-width="2"/>
<text x="1083.5" y="297.8" font-size="21.5" text-anchor="end" fill="#231f20">1</text>
<line x1="1091.7" y1="242.0" x2="1096.7" y2="242.0" stroke="#000" stroke-width="2"/>
<text x="1083.5" y="248.8" font-size="21.5" text-anchor="end" fill="#231f20">2</text>
<line x1="1091.7" y1="193.0" x2="1096.7" y2="193.0" stroke="#000" stroke-width="2"/>
<text x="1083.5" y="199.8" font-size="21.5" text-anchor="end" fill="#231f20">3</text>
<line x1="1091.7" y1="144.0" x2="1096.7" y2="144.0" stroke="#000" stroke-width="2"/>
<text x="1083.5" y="150.8" font-size="21.5" text-anchor="end" fill="#231f20">4</text>
<line x1="1091.7" y1="95.0" x2="1096.7" y2="95.0" stroke="#000" stroke-width="2"/>
<text x="1083.5" y="101.8" font-size="21.5" text-anchor="end" fill="#231f20">5</text>
<line x1="1091.6" y1="384.5" x2="1091.6" y2="389.0" stroke="#000" stroke-width="2"/>
<text x="1098.2" y="411.7" font-size="22.5" text-anchor="middle" fill="#231f20">-10</text>
<line x1="1153.8" y1="384.5" x2="1153.8" y2="389.0" stroke="#000" stroke-width="2"/>
<text x="1153.8" y="411.7" font-size="22.5" text-anchor="middle" fill="#231f20">-5</text>
<line x1="1216.0" y1="384.5" x2="1216.0" y2="389.0" stroke="#000" stroke-width="2"/>
<text x="1216.0" y="411.7" font-size="22.5" text-anchor="middle" fill="#231f20">0</text>
<line x1="1278.2" y1="384.5" x2="1278.2" y2="389.0" stroke="#000" stroke-width="2"/>
<text x="1278.2" y="411.7" font-size="22.5" text-anchor="middle" fill="#231f20">5</text>
<line x1="1340.4" y1="384.5" x2="1340.4" y2="389.0" stroke="#000" stroke-width="2"/>
<text x="1340.4" y="411.7" font-size="22.5" text-anchor="middle" fill="#231f20">10</text>
<line x1="1402.6" y1="384.5" x2="1402.6" y2="389.0" stroke="#000" stroke-width="2"/>
<text x="1402.6" y="411.7" font-size="22.5" text-anchor="middle" fill="#231f20">15</text>
<line x1="1464.8" y1="384.5" x2="1464.8" y2="389.0" stroke="#000" stroke-width="2"/>
<text x="1464.8" y="411.7" font-size="22.5" text-anchor="middle" fill="#231f20">20</text>
<text x="1287.7" y="437.0" font-size="23.6" text-anchor="middle" fill="#231f20">Time after exposure (s)</text>
<text x="1050.0" y="237.5" font-size="26" text-anchor="middle" fill="#231f20" transform="rotate(-90 1050.0 237.5)">z-score</text>
<rect x="1215.3" y="100.0" width="244.7" height="12.3" fill="#e05a3c"/>
<text x="1333.5" y="91.0" font-size="23.6" text-anchor="middle" fill="#e05a3c">Territorialized Cage</text>
<text x="1156.0" y="62.5" font-size="23.6" text-anchor="middle" fill="#231f20">Baseline</text>
<text x="1155.3" y="91.0" font-size="23.6" text-anchor="middle" fill="#231f20">Clean Cage</text>
<line x1="1216.0" y1="387.0" x2="1216.0" y2="98.0" stroke="#000" stroke-width="3.3" stroke-dasharray="0.01 11.05" stroke-linecap="round"/>
<path d="M1091.6,302.3 L1104.0,308.6 L1116.5,320.9 L1128.9,335.6 L1141.4,339.0 L1153.8,345.4 L1166.2,342.0 L1178.7,347.4 L1191.1,343.4 L1203.6,335.1 L1216.0,334.6 L1228.4,285.1 L1240.9,181.7 L1253.3,162.6 L1265.8,162.6 L1278.2,148.4 L1290.6,142.5 L1303.1,132.7 L1315.5,155.3 L1328.0,157.2 L1340.4,159.2 L1352.8,161.6 L1365.3,146.9 L1377.7,155.8 L1390.2,171.0 L1402.6,186.1 L1415.0,176.8 L1427.5,196.9 L1439.9,187.6 L1452.4,187.6 L1464.8,203.3 L1464.8,242.5 L1452.4,228.8 L1439.9,228.8 L1427.5,236.1 L1415.0,216.0 L1402.6,223.4 L1390.2,212.1 L1377.7,196.9 L1365.3,195.9 L1352.8,202.8 L1340.4,200.3 L1328.0,198.4 L1315.5,199.4 L1303.1,176.8 L1290.6,183.7 L1278.2,189.6 L1265.8,201.8 L1253.3,199.9 L1240.9,220.9 L1228.4,304.7 L1216.0,346.4 L1203.6,351.8 L1191.1,363.0 L1178.7,368.9 L1166.2,363.5 L1153.8,366.9 L1141.4,360.6 L1128.9,358.1 L1116.5,345.4 L1104.0,338.0 L1091.6,334.6Z" fill="#c2c2c2" stroke="none"/>
<polyline points="1091.6,318.4 1104.0,323.3 1116.5,333.1 1128.9,346.9 1141.4,349.8 1153.8,356.2 1166.2,352.7 1178.7,358.1 1191.1,353.2 1203.6,343.4 1216.0,340.5 1228.4,294.9 1240.9,201.3 1253.3,181.2 1265.8,182.2 1278.2,169.0 1290.6,163.1 1303.1,154.8 1315.5,177.3 1328.0,177.8 1340.4,179.8 1352.8,182.2 1365.3,171.4 1377.7,176.3 1390.2,191.5 1402.6,204.8 1415.0,196.4 1427.5,216.5 1439.9,208.2 1452.4,208.2 1464.8,222.9" fill="none" stroke="#1e1e1e" stroke-width="3" stroke-linejoin="round"/>
<text x="1035.5" y="464.0" font-size="38.5" text-anchor="start" fill="#231f20" font-weight="bold">f</text>
<line x1="1091.7" y1="474.1" x2="1091.7" y2="869.3" stroke="#000" stroke-width="2.2"/>
<line x1="1091.7" y1="475.1" x2="1099.0" y2="475.1" stroke="#000" stroke-width="2.2"/>
<text x="1081.0" y="483.6" font-size="23" text-anchor="end" fill="#000">6</text>
<line x1="1091.7" y1="573.4" x2="1099.0" y2="573.4" stroke="#000" stroke-width="2.2"/>
<text x="1081.0" y="581.9" font-size="23" text-anchor="end" fill="#000">4</text>
<line x1="1091.7" y1="671.7" x2="1099.0" y2="671.7" stroke="#000" stroke-width="2.2"/>
<text x="1081.0" y="680.2" font-size="23" text-anchor="end" fill="#000">2</text>
<line x1="1091.7" y1="770.0" x2="1099.0" y2="770.0" stroke="#000" stroke-width="2.2"/>
<text x="1081.0" y="778.5" font-size="23" text-anchor="end" fill="#000">0</text>
<line x1="1091.7" y1="868.3" x2="1099.0" y2="868.3" stroke="#000" stroke-width="2.2"/>
<text x="1081.0" y="876.8" font-size="23" text-anchor="end" fill="#000">-2</text>
<line x1="1456.6" y1="770.0" x2="1095.0" y2="770.0" stroke="#000" stroke-width="3.3" stroke-dasharray="0.01 11.05" stroke-linecap="round"/>
<text x="1028.0" y="668.3" font-size="26.7" text-anchor="middle" fill="#000" transform="rotate(-90 1028.0 668.3)">Average z-score</text>
<text x="1062.0" y="667.5" font-size="26.7" text-anchor="middle" fill="#000" transform="rotate(-90 1062.0 667.5)">(20s bins)</text>
<line x1="1237.7" y1="475.0" x2="1279.3" y2="475.0" stroke="#c5c5c5" stroke-width="3.5"/>
<line x1="1237.7" y1="500.0" x2="1279.3" y2="500.0" stroke="#e0603f" stroke-width="3.5"/>
<text x="1282.0" y="483.5" font-size="20.8" text-anchor="start" fill="#000">Baseline</text>
<text x="1282.0" y="508.0" font-size="20.8" text-anchor="start" fill="#000">Territorialized Cage</text>
<line x1="1179.3" y1="548.3" x2="1351.0" y2="548.3" stroke="#000" stroke-width="2.6"/>
<path d="M1243.55,537.00L1243.55,530.50M1243.55,537.00L1249.73,534.99M1243.55,537.00L1247.37,542.26M1243.55,537.00L1239.73,542.26M1243.55,537.00L1237.37,534.99" stroke="#111" stroke-width="2.8" stroke-linecap="butt" fill="none"/>
<path d="M1260.05,537.00L1260.05,530.50M1260.05,537.00L1266.23,534.99M1260.05,537.00L1263.87,542.26M1260.05,537.00L1256.23,542.26M1260.05,537.00L1253.87,534.99" stroke="#111" stroke-width="2.8" stroke-linecap="butt" fill="none"/>
<path d="M1276.55,537.00L1276.55,530.50M1276.55,537.00L1282.73,534.99M1276.55,537.00L1280.37,542.26M1276.55,537.00L1272.73,542.26M1276.55,537.00L1270.37,534.99" stroke="#111" stroke-width="2.8" stroke-linecap="butt" fill="none"/>
<path d="M1293.05,537.00L1293.05,530.50M1293.05,537.00L1299.23,534.99M1293.05,537.00L1296.87,542.26M1293.05,537.00L1289.23,542.26M1293.05,537.00L1286.87,534.99" stroke="#111" stroke-width="2.8" stroke-linecap="butt" fill="none"/>
<circle cx="1195.0" cy="715.0" r="9.3" fill="#c8c8c8"/>
<circle cx="1195.0" cy="729.3" r="9.3" fill="#c8c8c8"/>
<circle cx="1179.3" cy="743.3" r="9.3" fill="#c8c8c8"/>
<circle cx="1211.0" cy="741.7" r="9.3" fill="#c8c8c8"/>
<circle cx="1195.0" cy="755.0" r="9.3" fill="#c8c8c8"/>
<circle cx="1179.3" cy="778.3" r="9.3" fill="#c8c8c8"/>
<circle cx="1211.0" cy="778.3" r="9.3" fill="#c8c8c8"/>
<circle cx="1179.3" cy="801.7" r="9.3" fill="#c8c8c8"/>
<circle cx="1211.0" cy="805.0" r="9.3" fill="#c8c8c8"/>
<circle cx="1195.0" cy="825.0" r="9.3" fill="#c8c8c8"/>
<circle cx="1334.3" cy="573.3" r="9.3" fill="#e05a3e"/>
<circle cx="1367.0" cy="566.0" r="9.3" fill="#e05a3e"/>
<circle cx="1367.0" cy="581.7" r="9.3" fill="#e05a3e"/>
<circle cx="1351.0" cy="598.3" r="9.3" fill="#e05a3e"/>
<circle cx="1351.0" cy="616.7" r="9.3" fill="#e05a3e"/>
<circle cx="1351.0" cy="643.3" r="9.3" fill="#e05a3e"/>
<circle cx="1351.0" cy="656.7" r="9.3" fill="#e05a3e"/>
<circle cx="1351.0" cy="668.3" r="9.3" fill="#e05a3e"/>
<circle cx="1351.0" cy="691.7" r="9.3" fill="#e05a3e"/>
<circle cx="1351.0" cy="723.3" r="9.3" fill="#e05a3e"/>
<line x1="1144.3" y1="768.3" x2="1246.7" y2="768.3" stroke="#000" stroke-width="4.5"/>
<line x1="1195.0" y1="756.7" x2="1195.0" y2="779.3" stroke="#000" stroke-width="2.4"/>
<line x1="1169.0" y1="756.7" x2="1221.0" y2="756.7" stroke="#000" stroke-width="2.4"/>
<line x1="1169.0" y1="779.3" x2="1221.0" y2="779.3" stroke="#000" stroke-width="2.4"/>
<line x1="1299.3" y1="631.7" x2="1402.7" y2="631.7" stroke="#000" stroke-width="4.5"/>
<line x1="1351.0" y1="615.0" x2="1351.0" y2="649.0" stroke="#000" stroke-width="2.4"/>
<line x1="1324.3" y1="615.0" x2="1377.7" y2="615.0" stroke="#000" stroke-width="2.4"/>
<line x1="1324.3" y1="649.0" x2="1377.7" y2="649.0" stroke="#000" stroke-width="2.4"/>
<text x="12.5" y="973.2" font-size="38.5" text-anchor="start" fill="#231f20" font-weight="bold">g</text>
<line x1="86.0" y1="976.7" x2="86.0" y2="1314.2" stroke="#000" stroke-width="3"/>
<line x1="86.0" y1="1312.7" x2="421.7" y2="1312.7" stroke="#000" stroke-width="3"/>
<line x1="86.0" y1="1312.7" x2="96.0" y2="1312.7" stroke="#000" stroke-width="3"/>
<text x="77.5" y="1320.7" font-size="22.5" text-anchor="end" fill="#000">0</text>
<line x1="86.0" y1="1229.0" x2="96.0" y2="1229.0" stroke="#000" stroke-width="3"/>
<text x="77.5" y="1237.0" font-size="22.5" text-anchor="end" fill="#000">10</text>
<line x1="86.0" y1="1145.2" x2="96.0" y2="1145.2" stroke="#000" stroke-width="3"/>
<text x="77.5" y="1153.2" font-size="22.5" text-anchor="end" fill="#000">20</text>
<line x1="86.0" y1="1061.5" x2="96.0" y2="1061.5" stroke="#000" stroke-width="3"/>
<text x="77.5" y="1069.5" font-size="22.5" text-anchor="end" fill="#000">30</text>
<line x1="86.0" y1="977.7" x2="96.0" y2="977.7" stroke="#000" stroke-width="3"/>
<text x="77.5" y="985.7" font-size="22.5" text-anchor="end" fill="#000">40</text>
<line x1="137.7" y1="1306.7" x2="137.7" y2="1312.7" stroke="#000" stroke-width="2.5"/>
<text x="137.7" y="1334.5" font-size="22" text-anchor="middle" fill="#000">0</text>
<line x1="215.0" y1="1306.7" x2="215.0" y2="1312.7" stroke="#000" stroke-width="2.5"/>
<text x="215.0" y="1334.5" font-size="22" text-anchor="middle" fill="#000">30</text>
<line x1="292.3" y1="1306.7" x2="292.3" y2="1312.7" stroke="#000" stroke-width="2.5"/>
<text x="292.3" y="1334.5" font-size="22" text-anchor="middle" fill="#000">60</text>
<line x1="369.3" y1="1306.7" x2="369.3" y2="1312.7" stroke="#000" stroke-width="2.5"/>
<text x="369.3" y="1334.5" font-size="22" text-anchor="middle" fill="#000">90</text>
<text x="262.5" y="1360.0" font-size="23.4" text-anchor="middle" fill="#000">Time after CNO injection (min)</text>
<text x="34.0" y="1143.5" font-size="25.8" text-anchor="middle" fill="#000" transform="rotate(-90 34.0 1143.5)">Glucagon (pg/mL)</text>
<line x1="308.3" y1="991.0" x2="341.7" y2="991.0" stroke="#8c8c8c" stroke-width="4"/>
<line x1="308.3" y1="1020.0" x2="341.7" y2="1020.0" stroke="#7f4ea7" stroke-width="4"/>
<text x="348.3" y="997.0" font-size="18.6" text-anchor="start" fill="#000">Control</text>
<text x="348.3" y="1026.5" font-size="18.6" text-anchor="start" fill="#000">MeA Gq</text>
<circle cx="138.0" cy="1172.9" r="6.6" fill="rgba(140,140,140,0.72)"/>
<circle cx="138.0" cy="1188.4" r="6.6" fill="rgba(140,140,140,0.72)"/>
<circle cx="135.0" cy="1209.7" r="6.6" fill="rgba(140,140,140,0.72)"/>
<circle cx="130.8" cy="1217.0" r="6.6" fill="rgba(140,140,140,0.72)"/>
<circle cx="139.8" cy="1220.0" r="6.6" fill="rgba(140,140,140,0.72)"/>
<circle cx="130.8" cy="1228.4" r="6.6" fill="rgba(140,140,140,0.72)"/>
<circle cx="141.0" cy="1229.0" r="6.6" fill="rgba(140,140,140,0.72)"/>
<circle cx="130.8" cy="1245.9" r="6.6" fill="rgba(140,140,140,0.72)"/>
<circle cx="146.4" cy="1246.5" r="6.6" fill="rgba(140,140,140,0.72)"/>
<circle cx="115.7" cy="1264.0" r="6.6" fill="rgba(140,140,140,0.72)"/>
<circle cx="123.5" cy="1265.8" r="6.6" fill="rgba(140,140,140,0.72)"/>
<circle cx="145.8" cy="1256.8" r="6.6" fill="rgba(140,140,140,0.72)"/>
<circle cx="160.9" cy="1266.4" r="6.6" fill="rgba(140,140,140,0.72)"/>
<circle cx="143.4" cy="1265.8" r="6.6" fill="rgba(140,140,140,0.72)"/>
<circle cx="138.0" cy="1286.3" r="6.6" fill="rgba(140,140,140,0.72)"/>
<circle cx="136.0" cy="1272.0" r="6.6" fill="rgba(140,140,140,0.72)"/>
<circle cx="215.0" cy="1100.0" r="6.6" fill="rgba(140,140,140,0.72)"/>
<circle cx="215.8" cy="1195.8" r="6.6" fill="rgba(140,140,140,0.72)"/>
<circle cx="223.6" cy="1207.3" r="6.6" fill="rgba(140,140,140,0.72)"/>
<circle cx="208.0" cy="1215.1" r="6.6" fill="rgba(140,140,140,0.72)"/>
<circle cx="223.6" cy="1215.7" r="6.6" fill="rgba(140,140,140,0.72)"/>
<circle cx="208.0" cy="1228.4" r="6.6" fill="rgba(140,140,140,0.72)"/>
<circle cx="213.4" cy="1227.2" r="6.6" fill="rgba(140,140,140,0.72)"/>
<circle cx="230.9" cy="1230.2" r="6.6" fill="rgba(140,140,140,0.72)"/>
<circle cx="220.6" cy="1249.5" r="6.6" fill="rgba(140,140,140,0.72)"/>
<circle cx="193.5" cy="1264.6" r="6.6" fill="rgba(140,140,140,0.72)"/>
<circle cx="213.4" cy="1261.0" r="6.6" fill="rgba(140,140,140,0.72)"/>
<circle cx="230.3" cy="1268.8" r="6.6" fill="rgba(140,140,140,0.72)"/>
<circle cx="211.0" cy="1279.7" r="6.6" fill="rgba(140,140,140,0.72)"/>
<circle cx="218.0" cy="1270.0" r="6.6" fill="rgba(140,140,140,0.72)"/>
<circle cx="203.0" cy="1255.0" r="6.6" fill="rgba(140,140,140,0.72)"/>
<circle cx="285.0" cy="1207.9" r="6.6" fill="rgba(140,140,140,0.72)"/>
<circle cx="291.6" cy="1209.1" r="6.6" fill="rgba(140,140,140,0.72)"/>
<circle cx="277.1" cy="1219.4" r="6.6" fill="rgba(140,140,140,0.72)"/>
<circle cx="300.7" cy="1219.4" r="6.6" fill="rgba(140,140,140,0.72)"/>
<circle cx="286.2" cy="1236.9" r="6.6" fill="rgba(140,140,140,0.72)"/>
<circle cx="289.8" cy="1252.0" r="6.6" fill="rgba(140,140,140,0.72)"/>
<circle cx="269.9" cy="1261.0" r="6.6" fill="rgba(140,140,140,0.72)"/>
<circle cx="278.3" cy="1258.6" r="6.6" fill="rgba(140,140,140,0.72)"/>
<circle cx="307.9" cy="1258.0" r="6.6" fill="rgba(140,140,140,0.72)"/>
<circle cx="284.4" cy="1267.6" r="6.6" fill="rgba(140,140,140,0.72)"/>
<circle cx="291.6" cy="1271.2" r="6.6" fill="rgba(140,140,140,0.72)"/>
<circle cx="307.3" cy="1268.8" r="6.6" fill="rgba(140,140,140,0.72)"/>
<circle cx="292.2" cy="1279.7" r="6.6" fill="rgba(140,140,140,0.72)"/>
<circle cx="292.8" cy="1298.4" r="6.6" fill="rgba(140,140,140,0.72)"/>
<circle cx="374.8" cy="1197.0" r="6.6" fill="rgba(140,140,140,0.72)"/>
<circle cx="375.5" cy="1205.5" r="6.6" fill="rgba(140,140,140,0.72)"/>
<circle cx="383.9" cy="1215.1" r="6.6" fill="rgba(140,140,140,0.72)"/>
<circle cx="392.9" cy="1215.7" r="6.6" fill="rgba(140,140,140,0.72)"/>
<circle cx="356.2" cy="1220.0" r="6.6" fill="rgba(140,140,140,0.72)"/>
<circle cx="375.5" cy="1214.0" r="6.6" fill="rgba(140,140,140,0.72)"/>
<circle cx="374.8" cy="1226.0" r="6.6" fill="rgba(140,140,140,0.72)"/>
<circle cx="356.2" cy="1232.0" r="6.6" fill="rgba(140,140,140,0.72)"/>
<circle cx="374.8" cy="1238.7" r="6.6" fill="rgba(140,140,140,0.72)"/>
<circle cx="347.7" cy="1256.8" r="6.6" fill="rgba(140,140,140,0.72)"/>
<circle cx="392.9" cy="1253.7" r="6.6" fill="rgba(140,140,140,0.72)"/>
<circle cx="356.8" cy="1254.3" r="6.6" fill="rgba(140,140,140,0.72)"/>
<circle cx="365.2" cy="1262.8" r="6.6" fill="rgba(140,140,140,0.72)"/>
<circle cx="383.9" cy="1266.4" r="6.6" fill="rgba(140,140,140,0.72)"/>
<circle cx="392.9" cy="1266.4" r="6.6" fill="rgba(140,140,140,0.72)"/>
<circle cx="356.2" cy="1278.5" r="6.6" fill="rgba(140,140,140,0.72)"/>
<circle cx="365.2" cy="1271.8" r="6.6" fill="rgba(140,140,140,0.72)"/>
<circle cx="374.8" cy="1277.3" r="6.6" fill="rgba(140,140,140,0.72)"/>
<circle cx="138.3" cy="1078.3" r="6.6" fill="rgba(133,92,186,0.72)"/>
<circle cx="138.3" cy="1148.3" r="6.6" fill="rgba(133,92,186,0.72)"/>
<circle cx="138.0" cy="1164.5" r="6.6" fill="rgba(133,92,186,0.72)"/>
<circle cx="142.2" cy="1206.1" r="6.6" fill="rgba(133,92,186,0.72)"/>
<circle cx="130.8" cy="1237.5" r="6.6" fill="rgba(133,92,186,0.72)"/>
<circle cx="146.4" cy="1233.2" r="6.6" fill="rgba(133,92,186,0.72)"/>
<circle cx="130.8" cy="1267.0" r="6.6" fill="rgba(133,92,186,0.72)"/>
<circle cx="153.1" cy="1262.2" r="6.6" fill="rgba(133,92,186,0.72)"/>
<circle cx="153.7" cy="1270.6" r="6.6" fill="rgba(133,92,186,0.72)"/>
<circle cx="130.8" cy="1275.5" r="6.6" fill="rgba(133,92,186,0.72)"/>
<circle cx="145.8" cy="1280.9" r="6.6" fill="rgba(133,92,186,0.72)"/>
<circle cx="138.0" cy="1300.8" r="6.6" fill="rgba(133,92,186,0.72)"/>
<circle cx="215.0" cy="1045.0" r="6.6" fill="rgba(133,92,186,0.72)"/>
<circle cx="215.0" cy="1117.3" r="6.6" fill="rgba(133,92,186,0.72)"/>
<circle cx="208.0" cy="1207.3" r="6.6" fill="rgba(133,92,186,0.72)"/>
<circle cx="208.0" cy="1236.9" r="6.6" fill="rgba(133,92,186,0.72)"/>
<circle cx="193.5" cy="1252.5" r="6.6" fill="rgba(133,92,186,0.72)"/>
<circle cx="208.6" cy="1253.1" r="6.6" fill="rgba(133,92,186,0.72)"/>
<circle cx="230.9" cy="1251.3" r="6.6" fill="rgba(133,92,186,0.72)"/>
<circle cx="200.7" cy="1267.0" r="6.6" fill="rgba(133,92,186,0.72)"/>
<circle cx="223.0" cy="1258.0" r="6.6" fill="rgba(133,92,186,0.72)"/>
<circle cx="238.1" cy="1263.4" r="6.6" fill="rgba(133,92,186,0.72)"/>
<circle cx="219.4" cy="1279.1" r="6.6" fill="rgba(133,92,186,0.72)"/>
<circle cx="292.3" cy="1126.7" r="6.6" fill="rgba(133,92,186,0.72)"/>
<circle cx="292.8" cy="1160.3" r="6.6" fill="rgba(133,92,186,0.72)"/>
<circle cx="300.7" cy="1207.3" r="6.6" fill="rgba(133,92,186,0.72)"/>
<circle cx="300.7" cy="1235.6" r="6.6" fill="rgba(133,92,186,0.72)"/>
<circle cx="277.1" cy="1248.3" r="6.6" fill="rgba(133,92,186,0.72)"/>
<circle cx="300.7" cy="1252.0" r="6.6" fill="rgba(133,92,186,0.72)"/>
<circle cx="269.9" cy="1270.6" r="6.6" fill="rgba(133,92,186,0.72)"/>
<circle cx="300.7" cy="1270.0" r="6.6" fill="rgba(133,92,186,0.72)"/>
<circle cx="315.7" cy="1266.4" r="6.6" fill="rgba(133,92,186,0.72)"/>
<circle cx="292.8" cy="1287.5" r="6.6" fill="rgba(133,92,186,0.72)"/>
<circle cx="369.3" cy="1114.3" r="6.6" fill="rgba(133,92,186,0.72)"/>
<circle cx="369.3" cy="1130.7" r="6.6" fill="rgba(133,92,186,0.72)"/>
<circle cx="365.2" cy="1202.5" r="6.6" fill="rgba(133,92,186,0.72)"/>
<circle cx="365.8" cy="1244.1" r="6.6" fill="rgba(133,92,186,0.72)"/>
<circle cx="374.8" cy="1254.3" r="6.6" fill="rgba(133,92,186,0.72)"/>
<circle cx="383.9" cy="1252.5" r="6.6" fill="rgba(133,92,186,0.72)"/>
<circle cx="347.7" cy="1270.0" r="6.6" fill="rgba(133,92,186,0.72)"/>
<circle cx="356.2" cy="1266.4" r="6.6" fill="rgba(133,92,186,0.72)"/>
<circle cx="383.9" cy="1274.2" r="6.6" fill="rgba(133,92,186,0.72)"/>
<polyline points="137.7,1242.3 212.3,1234.4 289.0,1245.3 364.0,1241.7" fill="none" stroke="#8a8a8a" stroke-width="5" stroke-linejoin="round"/>
<line x1="137.7" y1="1226.0" x2="137.7" y2="1208.5" stroke="#7f4ea7" stroke-width="5"/>
<line x1="132.7" y1="1209.5" x2="142.7" y2="1209.5" stroke="#7f4ea7" stroke-width="4"/>
<line x1="212.3" y1="1221.8" x2="212.3" y2="1201.3" stroke="#7f4ea7" stroke-width="5"/>
<line x1="207.3" y1="1202.3" x2="217.3" y2="1202.3" stroke="#7f4ea7" stroke-width="4"/>
<line x1="289.0" y1="1232.0" x2="289.0" y2="1217.6" stroke="#7f4ea7" stroke-width="5"/>
<line x1="284.0" y1="1218.6" x2="294.0" y2="1218.6" stroke="#7f4ea7" stroke-width="4"/>
<line x1="364.0" y1="1227.2" x2="364.0" y2="1212.1" stroke="#7f4ea7" stroke-width="5"/>
<line x1="359.0" y1="1213.1" x2="369.0" y2="1213.1" stroke="#7f4ea7" stroke-width="4"/>
<polyline points="137.7,1226.0 212.3,1221.8 289.0,1232.0 364.0,1227.2" fill="none" stroke="#7f4ea7" stroke-width="5.4" stroke-linejoin="round"/>
<text x="457.6" y="973.0" font-size="38.5" text-anchor="start" fill="#231f20" font-weight="bold">h</text>
<line x1="542.0" y1="981.0" x2="542.0" y2="1310.0" stroke="#000" stroke-width="2.6"/>
<line x1="542.0" y1="1309.0" x2="759.7" y2="1309.0" stroke="#000" stroke-width="2.6"/>
<line x1="542.0" y1="1309.0" x2="551.0" y2="1309.0" stroke="#000" stroke-width="2.6"/>
<text x="531.0" y="1317.0" font-size="22" text-anchor="end" fill="#000">0</text>
<line x1="542.0" y1="1200.0" x2="551.0" y2="1200.0" stroke="#000" stroke-width="2.6"/>
<text x="531.0" y="1208.0" font-size="22" text-anchor="end" fill="#000">2</text>
<line x1="542.0" y1="1091.0" x2="551.0" y2="1091.0" stroke="#000" stroke-width="2.6"/>
<text x="531.0" y="1099.0" font-size="22" text-anchor="end" fill="#000">4</text>
<line x1="542.0" y1="982.0" x2="551.0" y2="982.0" stroke="#000" stroke-width="2.6"/>
<text x="531.0" y="990.0" font-size="22" text-anchor="end" fill="#000">6</text>
<text x="503.0" y="1142.0" font-size="26.5" text-anchor="middle" fill="#000" transform="rotate(-90 503.0 1142.0)">Adrenaline (pg/mL) x 10<tspan font-size="15" dy="-9">3</tspan></text>
<circle cx="603.6" cy="1178.5" r="7.8" fill="#a9a9a9"/>
<circle cx="603.6" cy="1235.6" r="7.8" fill="#a9a9a9"/>
<circle cx="603.6" cy="1257.6" r="7.8" fill="#a9a9a9"/>
<circle cx="603.6" cy="1285.3" r="7.8" fill="#a9a9a9"/>
<circle cx="603.6" cy="1295.0" r="7.8" fill="#a9a9a9"/>
<circle cx="697.3" cy="1008.3" r="7.8" fill="#9774c0"/>
<circle cx="697.3" cy="1228.1" r="7.8" fill="#9774c0"/>
<circle cx="697.3" cy="1264.2" r="7.8" fill="#9774c0"/>
<circle cx="687.6" cy="1285.3" r="7.8" fill="#9774c0"/>
<circle cx="706.0" cy="1289.7" r="7.8" fill="#9774c0"/>
<circle cx="687.6" cy="1295.9" r="7.8" fill="#9774c0"/>
<line x1="572.0" y1="1251.0" x2="634.8" y2="1251.0" stroke="#000" stroke-width="3"/>
<line x1="603.6" y1="1230.4" x2="603.6" y2="1272.1" stroke="#000" stroke-width="2.8"/>
<line x1="581.6" y1="1230.4" x2="625.6" y2="1230.4" stroke="#000" stroke-width="2.8"/>
<line x1="581.6" y1="1272.1" x2="625.6" y2="1272.1" stroke="#000" stroke-width="2.8"/>
<line x1="666.5" y1="1229.0" x2="728.0" y2="1229.0" stroke="#000" stroke-width="3"/>
<line x1="697.3" y1="1183.7" x2="697.3" y2="1273.9" stroke="#000" stroke-width="2.8"/>
<line x1="681.8" y1="1183.7" x2="712.8" y2="1183.7" stroke="#000" stroke-width="2.8"/>
<line x1="681.8" y1="1273.9" x2="712.8" y2="1273.9" stroke="#000" stroke-width="2.8"/>
<text x="756.6" y="970.0" font-size="38.5" text-anchor="start" fill="#231f20" font-weight="bold">i</text>
<line x1="838.0" y1="978.3" x2="838.0" y2="1309.2" stroke="#000" stroke-width="2.6"/>
<line x1="838.0" y1="1308.2" x2="1057.9" y2="1308.2" stroke="#000" stroke-width="2.6"/>
<line x1="838.0" y1="1308.2" x2="847.0" y2="1308.2" stroke="#000" stroke-width="2.6"/>
<text x="829.0" y="1316.2" font-size="22" text-anchor="end" fill="#000">0</text>
<line x1="838.0" y1="1226.0" x2="847.0" y2="1226.0" stroke="#000" stroke-width="2.6"/>
<text x="829.0" y="1234.0" font-size="22" text-anchor="end" fill="#000">5</text>
<line x1="838.0" y1="1143.8" x2="847.0" y2="1143.8" stroke="#000" stroke-width="2.6"/>
<text x="829.0" y="1151.8" font-size="22" text-anchor="end" fill="#000">10</text>
<line x1="838.0" y1="1061.5" x2="847.0" y2="1061.5" stroke="#000" stroke-width="2.6"/>
<text x="829.0" y="1069.5" font-size="22" text-anchor="end" fill="#000">15</text>
<line x1="838.0" y1="979.3" x2="847.0" y2="979.3" stroke="#000" stroke-width="2.6"/>
<text x="829.0" y="987.3" font-size="22" text-anchor="end" fill="#000">20</text>
<text x="791.0" y="1142.2" font-size="26.2" text-anchor="middle" fill="#000" transform="rotate(-90 791.0 1142.2)">Noradrenaline (pg/mL)</text>
<circle cx="900.4" cy="1110.3" r="7.8" fill="#a9a9a9"/>
<circle cx="900.4" cy="1158.7" r="7.8" fill="#a9a9a9"/>
<circle cx="900.4" cy="1204.0" r="7.8" fill="#a9a9a9"/>
<circle cx="900.4" cy="1215.0" r="7.8" fill="#a9a9a9"/>
<circle cx="900.4" cy="1277.4" r="7.8" fill="#a9a9a9"/>
<circle cx="994.0" cy="1056.2" r="7.8" fill="#9774c0"/>
<circle cx="994.0" cy="1182.9" r="7.8" fill="#9774c0"/>
<circle cx="985.3" cy="1226.8" r="7.8" fill="#9774c0"/>
<circle cx="1002.9" cy="1221.6" r="7.8" fill="#9774c0"/>
<circle cx="994.0" cy="1251.9" r="7.8" fill="#9774c0"/>
<circle cx="994.0" cy="1266.4" r="7.8" fill="#9774c0"/>
<line x1="868.8" y1="1193.9" x2="931.6" y2="1193.9" stroke="#000" stroke-width="3"/>
<line x1="900.4" y1="1166.1" x2="900.4" y2="1221.6" stroke="#000" stroke-width="2.8"/>
<line x1="886.0" y1="1166.1" x2="914.8" y2="1166.1" stroke="#000" stroke-width="2.8"/>
<line x1="886.0" y1="1221.6" x2="914.8" y2="1221.6" stroke="#000" stroke-width="2.8"/>
<line x1="963.3" y1="1200.4" x2="1024.9" y2="1200.4" stroke="#000" stroke-width="3"/>
<line x1="994.0" y1="1170.5" x2="994.0" y2="1232.5" stroke="#000" stroke-width="2.8"/>
<line x1="980.5" y1="1170.5" x2="1007.5" y2="1170.5" stroke="#000" stroke-width="2.8"/>
<line x1="980.5" y1="1232.5" x2="1007.5" y2="1232.5" stroke="#000" stroke-width="2.8"/>
<text x="1051.7" y="974.0" font-size="38.5" text-anchor="start" fill="#231f20" font-weight="bold">j</text>
<line x1="1150.7" y1="989.9" x2="1150.7" y2="1309.8" stroke="#000" stroke-width="2.6"/>
<line x1="1150.7" y1="1308.8" x2="1468.3" y2="1308.8" stroke="#000" stroke-width="2.6"/>
<line x1="1150.7" y1="1308.8" x2="1159.0" y2="1308.8" stroke="#000" stroke-width="2.6"/>
<text x="1143.0" y="1317.3" font-size="23.5" text-anchor="end" fill="#000">0</text>
<line x1="1150.7" y1="1245.2" x2="1159.0" y2="1245.2" stroke="#000" stroke-width="2.6"/>
<text x="1143.0" y="1253.7" font-size="23.5" text-anchor="end" fill="#000">100</text>
<line x1="1150.7" y1="1181.6" x2="1159.0" y2="1181.6" stroke="#000" stroke-width="2.6"/>
<text x="1143.0" y="1190.1" font-size="23.5" text-anchor="end" fill="#000">200</text>
<line x1="1150.7" y1="1118.1" x2="1159.0" y2="1118.1" stroke="#000" stroke-width="2.6"/>
<text x="1143.0" y="1126.6" font-size="23.5" text-anchor="end" fill="#000">300</text>
<line x1="1150.7" y1="1054.5" x2="1159.0" y2="1054.5" stroke="#000" stroke-width="2.6"/>
<text x="1143.0" y="1063.0" font-size="23.5" text-anchor="end" fill="#000">400</text>
<line x1="1150.7" y1="990.9" x2="1159.0" y2="990.9" stroke="#000" stroke-width="2.6"/>
<text x="1143.0" y="999.4" font-size="23.5" text-anchor="end" fill="#000">500</text>
<line x1="1211.6" y1="1299.8" x2="1211.6" y2="1308.8" stroke="#000" stroke-width="2.6"/>
<text x="1213.1" y="1337.0" font-size="24.7" text-anchor="middle" fill="#000">EPM</text>
<line x1="1310.0" y1="1299.8" x2="1310.0" y2="1308.8" stroke="#000" stroke-width="2.6"/>
<text x="1311.5" y="1337.0" font-size="24.7" text-anchor="middle" fill="#000">LD</text>
<line x1="1408.6" y1="1299.8" x2="1408.6" y2="1308.8" stroke="#000" stroke-width="2.6"/>
<text x="1410.1" y="1337.0" font-size="24.7" text-anchor="middle" fill="#000">OFT</text>
<text x="1092.0" y="1140.3" font-size="25.8" text-anchor="middle" fill="#000" transform="rotate(-90 1092.0 1140.3)">Time in Anxiogenic Zone (s)</text>
<circle cx="1190.0" cy="1120.8" r="6.5" fill="#b0b0b0"/>
<circle cx="1183.2" cy="1160.4" r="6.5" fill="#b0b0b0"/>
<circle cx="1197.1" cy="1158.8" r="6.5" fill="#b0b0b0"/>
<circle cx="1190.6" cy="1175.2" r="6.5" fill="#b0b0b0"/>
<circle cx="1177.0" cy="1184.5" r="6.5" fill="#b0b0b0"/>
<circle cx="1203.9" cy="1185.1" r="6.5" fill="#b0b0b0"/>
<circle cx="1183.8" cy="1212.9" r="6.5" fill="#b0b0b0"/>
<circle cx="1197.1" cy="1211.4" r="6.5" fill="#b0b0b0"/>
<circle cx="1177.0" cy="1232.1" r="6.5" fill="#b0b0b0"/>
<circle cx="1203.3" cy="1236.1" r="6.5" fill="#b0b0b0"/>
<circle cx="1190.6" cy="1242.3" r="6.5" fill="#b0b0b0"/>
<circle cx="1190.6" cy="1257.1" r="6.5" fill="#b0b0b0"/>
<circle cx="1288.3" cy="1011.9" r="6.5" fill="#b0b0b0"/>
<circle cx="1288.3" cy="1063.6" r="6.5" fill="#b0b0b0"/>
<circle cx="1275.0" cy="1158.8" r="6.5" fill="#b0b0b0"/>
<circle cx="1288.3" cy="1157.3" r="6.5" fill="#b0b0b0"/>
<circle cx="1301.3" cy="1157.3" r="6.5" fill="#b0b0b0"/>
<circle cx="1284.3" cy="1185.1" r="6.5" fill="#b0b0b0"/>
<circle cx="1284.3" cy="1199.0" r="6.5" fill="#b0b0b0"/>
<circle cx="1293.0" cy="1198.4" r="6.5" fill="#b0b0b0"/>
<circle cx="1284.3" cy="1220.7" r="6.5" fill="#b0b0b0"/>
<circle cx="1293.0" cy="1231.5" r="6.5" fill="#b0b0b0"/>
<circle cx="1284.3" cy="1244.5" r="6.5" fill="#b0b0b0"/>
<circle cx="1386.3" cy="1127.9" r="6.5" fill="#b0b0b0"/>
<circle cx="1373.3" cy="1183.6" r="6.5" fill="#b0b0b0"/>
<circle cx="1386.3" cy="1183.6" r="6.5" fill="#b0b0b0"/>
<circle cx="1398.7" cy="1178.9" r="6.5" fill="#b0b0b0"/>
<circle cx="1392.0" cy="1180.0" r="6.5" fill="#b0b0b0"/>
<circle cx="1381.0" cy="1205.2" r="6.5" fill="#b0b0b0"/>
<circle cx="1392.5" cy="1212.9" r="6.5" fill="#b0b0b0"/>
<circle cx="1381.0" cy="1237.7" r="6.5" fill="#b0b0b0"/>
<circle cx="1392.5" cy="1239.2" r="6.5" fill="#b0b0b0"/>
<circle cx="1386.3" cy="1256.2" r="6.5" fill="#b0b0b0"/>
<circle cx="1391.0" cy="1271.1" r="6.5" fill="#b0b0b0"/>
<circle cx="1381.7" cy="1279.4" r="6.5" fill="#b0b0b0"/>
<circle cx="1233.3" cy="1156.3" r="6.5" fill="#9d7cc4"/>
<circle cx="1219.3" cy="1199.9" r="6.5" fill="#9d7cc4"/>
<circle cx="1246.6" cy="1194.4" r="6.5" fill="#9d7cc4"/>
<circle cx="1246.6" cy="1212.9" r="6.5" fill="#9d7cc4"/>
<circle cx="1233.3" cy="1225.3" r="6.5" fill="#9d7cc4"/>
<circle cx="1233.3" cy="1285.6" r="6.5" fill="#9d7cc4"/>
<circle cx="1228.0" cy="1205.0" r="6.5" fill="#9d7cc4"/>
<circle cx="1331.6" cy="1091.4" r="6.5" fill="#9d7cc4"/>
<circle cx="1331.6" cy="1173.4" r="6.5" fill="#9d7cc4"/>
<circle cx="1318.3" cy="1241.7" r="6.5" fill="#9d7cc4"/>
<circle cx="1344.6" cy="1233.0" r="6.5" fill="#9d7cc4"/>
<circle cx="1318.3" cy="1286.2" r="6.5" fill="#9d7cc4"/>
<circle cx="1344.6" cy="1280.3" r="6.5" fill="#9d7cc4"/>
<circle cx="1430.2" cy="1192.8" r="6.5" fill="#9d7cc4"/>
<circle cx="1416.6" cy="1207.4" r="6.5" fill="#9d7cc4"/>
<circle cx="1443.5" cy="1213.5" r="6.5" fill="#9d7cc4"/>
<circle cx="1430.2" cy="1214.5" r="6.5" fill="#9d7cc4"/>
<circle cx="1423.4" cy="1248.5" r="6.5" fill="#9d7cc4"/>
<circle cx="1436.4" cy="1257.8" r="6.5" fill="#9d7cc4"/>
<circle cx="1430.2" cy="1271.7" r="6.5" fill="#9d7cc4"/>
<line x1="1169.9" y1="1198.4" x2="1211.0" y2="1198.4" stroke="#000" stroke-width="3.2"/>
<line x1="1190.5" y1="1186.6" x2="1190.5" y2="1209.8" stroke="#000" stroke-width="2.6"/>
<line x1="1181.2" y1="1186.6" x2="1199.8" y2="1186.6" stroke="#000" stroke-width="2.6"/>
<line x1="1181.2" y1="1209.8" x2="1199.8" y2="1209.8" stroke="#000" stroke-width="2.6"/>
<line x1="1212.5" y1="1211.4" x2="1254.0" y2="1211.4" stroke="#000" stroke-width="3.2"/>
<line x1="1233.2" y1="1195.9" x2="1233.2" y2="1226.2" stroke="#000" stroke-width="2.6"/>
<line x1="1224.0" y1="1195.9" x2="1242.5" y2="1195.9" stroke="#000" stroke-width="2.6"/>
<line x1="1224.0" y1="1226.2" x2="1242.5" y2="1226.2" stroke="#000" stroke-width="2.6"/>
<line x1="1267.3" y1="1165.6" x2="1309.6" y2="1165.6" stroke="#000" stroke-width="3.2"/>
<line x1="1288.4" y1="1145.5" x2="1288.4" y2="1185.1" stroke="#000" stroke-width="2.6"/>
<line x1="1279.1" y1="1145.5" x2="1297.7" y2="1145.5" stroke="#000" stroke-width="2.6"/>
<line x1="1279.1" y1="1185.1" x2="1297.7" y2="1185.1" stroke="#000" stroke-width="2.6"/>
<line x1="1310.6" y1="1218.5" x2="1352.3" y2="1218.5" stroke="#000" stroke-width="3.2"/>
<line x1="1331.4" y1="1187.6" x2="1331.4" y2="1247.9" stroke="#000" stroke-width="2.6"/>
<line x1="1322.1" y1="1187.6" x2="1340.7" y2="1187.6" stroke="#000" stroke-width="2.6"/>
<line x1="1322.1" y1="1247.9" x2="1340.7" y2="1247.9" stroke="#000" stroke-width="2.6"/>
<line x1="1366.2" y1="1213.9" x2="1407.3" y2="1213.9" stroke="#000" stroke-width="3.2"/>
<line x1="1386.8" y1="1200.0" x2="1386.8" y2="1226.2" stroke="#000" stroke-width="2.6"/>
<line x1="1377.5" y1="1200.0" x2="1396.0" y2="1200.0" stroke="#000" stroke-width="2.6"/>
<line x1="1377.5" y1="1226.2" x2="1396.0" y2="1226.2" stroke="#000" stroke-width="2.6"/>
<line x1="1409.5" y1="1229.9" x2="1450.6" y2="1229.9" stroke="#000" stroke-width="3.2"/>
<line x1="1430.0" y1="1218.5" x2="1430.0" y2="1240.8" stroke="#000" stroke-width="2.6"/>
<line x1="1420.8" y1="1218.5" x2="1439.3" y2="1218.5" stroke="#000" stroke-width="2.6"/>
<line x1="1420.8" y1="1240.8" x2="1439.3" y2="1240.8" stroke="#000" stroke-width="2.6"/>
<text x="14.0" y="1404.0" font-size="38.5" text-anchor="start" fill="#231f20" font-weight="bold">k</text>
<line x1="87.2" y1="1422.1" x2="87.2" y2="1742.5" stroke="#000" stroke-width="3"/>
<line x1="87.2" y1="1741.0" x2="686.2" y2="1741.0" stroke="#000" stroke-width="3"/>
<line x1="686.2" y1="1422.0" x2="686.2" y2="1742.5" stroke="#000" stroke-width="3"/>
<line x1="87.2" y1="1741.0" x2="96.8" y2="1741.0" stroke="#000" stroke-width="3"/>
<text x="80.5" y="1750.3" font-size="24" text-anchor="end" fill="#000">0.0</text>
<line x1="87.2" y1="1635.2" x2="96.8" y2="1635.2" stroke="#000" stroke-width="3"/>
<text x="80.5" y="1644.5" font-size="24" text-anchor="end" fill="#000">0.5</text>
<line x1="87.2" y1="1529.4" x2="96.8" y2="1529.4" stroke="#000" stroke-width="3"/>
<text x="80.5" y="1538.7" font-size="24" text-anchor="end" fill="#000">1.0</text>
<line x1="87.2" y1="1423.6" x2="96.8" y2="1423.6" stroke="#000" stroke-width="3"/>
<text x="80.5" y="1432.9" font-size="24" text-anchor="end" fill="#000">1.5</text>
<line x1="678.5" y1="1741.0" x2="686.2" y2="1741.0" stroke="#000" stroke-width="3"/>
<text x="694.5" y="1745.5" font-size="23.5" text-anchor="start" fill="#000">0</text>
<line x1="678.5" y1="1677.5" x2="686.2" y2="1677.5" stroke="#000" stroke-width="3"/>
<text x="694.5" y="1682.0" font-size="23.5" text-anchor="start" fill="#000">2</text>
<line x1="678.5" y1="1614.0" x2="686.2" y2="1614.0" stroke="#000" stroke-width="3"/>
<text x="694.5" y="1618.5" font-size="23.5" text-anchor="start" fill="#000">4</text>
<line x1="678.5" y1="1550.5" x2="686.2" y2="1550.5" stroke="#000" stroke-width="3"/>
<text x="694.5" y="1554.3" font-size="23.5" text-anchor="start" fill="#000">6</text>
<line x1="678.5" y1="1487.0" x2="686.2" y2="1487.0" stroke="#000" stroke-width="3"/>
<text x="694.5" y="1490.0" font-size="23.5" text-anchor="start" fill="#000">8</text>
<line x1="678.5" y1="1423.5" x2="686.2" y2="1423.5" stroke="#000" stroke-width="3"/>
<text x="694.5" y="1425.5" font-size="23.5" text-anchor="start" fill="#000">10</text>
<line x1="174.5" y1="1731.5" x2="174.5" y2="1741.0" stroke="#000" stroke-width="3"/>
<text x="173.5" y="1767.5" font-size="22.5" text-anchor="middle" fill="#000">1</text>
<line x1="316.6" y1="1731.5" x2="316.6" y2="1741.0" stroke="#000" stroke-width="3"/>
<text x="315.6" y="1767.5" font-size="22.5" text-anchor="middle" fill="#000">2</text>
<line x1="457.7" y1="1731.5" x2="457.7" y2="1741.0" stroke="#000" stroke-width="3"/>
<text x="456.7" y="1767.5" font-size="22.5" text-anchor="middle" fill="#000">3</text>
<line x1="598.5" y1="1731.5" x2="598.5" y2="1741.0" stroke="#000" stroke-width="3"/>
<text x="597.5" y="1767.5" font-size="22.5" text-anchor="middle" fill="#000">4</text>
<text x="376.0" y="1792.8" font-size="21.5" text-anchor="middle" fill="#000" textLength="266.8" lengthAdjust="spacingAndGlyphs">Time after CNO injection (h)</text>
<text x="35.0" y="1604.5" font-size="23" text-anchor="middle" fill="#000" transform="rotate(-90 35.0 1604.5)">Chow Consumed (g)</text>
<text x="725.5" y="1576.0" font-size="26.5" text-anchor="middle" fill="#000" textLength="337" lengthAdjust="spacingAndGlyphs" transform="rotate(90 725.5 1576.0)">Cumulative Food intake (kcal)</text>
<line x1="555.0" y1="1407.7" x2="585.4" y2="1407.7" stroke="#8c8c8c" stroke-width="3.3"/>
<line x1="555.0" y1="1437.5" x2="585.4" y2="1437.5" stroke="#7b4fa3" stroke-width="3.3"/>
<text x="590.4" y="1414.1" font-size="19.2" text-anchor="start" fill="#000" textLength="55.3" lengthAdjust="spacingAndGlyphs">Control</text>
<text x="590.4" y="1443.6" font-size="19.2" text-anchor="start" fill="#000" textLength="60.8" lengthAdjust="spacingAndGlyphs">MeA Gq</text>
<line x1="140.4" y1="1422.1" x2="209.6" y2="1422.1" stroke="#000" stroke-width="3"/>
<path d="M171.30,1410.50L171.30,1404.00M171.30,1410.50L177.48,1408.49M171.30,1410.50L175.12,1415.76M171.30,1410.50L167.48,1415.76M171.30,1410.50L165.12,1408.49" stroke="#111" stroke-width="2.8" stroke-linecap="butt" fill="none"/>
<path d="M187.30,1410.50L187.30,1404.00M187.30,1410.50L193.48,1408.49M187.30,1410.50L191.12,1415.76M187.30,1410.50L183.48,1415.76M187.30,1410.50L181.12,1408.49" stroke="#111" stroke-width="2.8" stroke-linecap="butt" fill="none"/>
<line x1="285.7" y1="1524.7" x2="350.4" y2="1524.7" stroke="#000" stroke-width="3"/>
<path d="M318.00,1513.00L318.00,1506.50M318.00,1513.00L324.18,1510.99M318.00,1513.00L321.82,1518.26M318.00,1513.00L314.18,1518.26M318.00,1513.00L311.82,1510.99" stroke="#111" stroke-width="2.8" stroke-linecap="butt" fill="none"/>
<line x1="427.5" y1="1494.0" x2="491.6" y2="1494.0" stroke="#000" stroke-width="3"/>
<path d="M459.50,1482.50L459.50,1476.00M459.50,1482.50L465.68,1480.49M459.50,1482.50L463.32,1487.76M459.50,1482.50L455.68,1487.76M459.50,1482.50L453.32,1480.49" stroke="#111" stroke-width="2.8" stroke-linecap="butt" fill="none"/>
<circle cx="143.6" cy="1438.1" r="7.4" fill="rgba(150,150,150,0.72)"/>
<circle cx="143.6" cy="1446.6" r="7.4" fill="rgba(150,150,150,0.72)"/>
<circle cx="143.6" cy="1470.0" r="7.4" fill="rgba(150,150,150,0.72)"/>
<circle cx="143.6" cy="1479.6" r="7.4" fill="rgba(150,150,150,0.72)"/>
<circle cx="143.6" cy="1512.6" r="7.4" fill="rgba(150,150,150,0.72)"/>
<circle cx="143.6" cy="1525.3" r="7.4" fill="rgba(150,150,150,0.72)"/>
<circle cx="143.6" cy="1557.0" r="7.4" fill="rgba(150,150,150,0.72)"/>
<circle cx="133.0" cy="1571.9" r="7.4" fill="rgba(150,150,150,0.72)"/>
<circle cx="153.2" cy="1571.9" r="7.4" fill="rgba(150,150,150,0.72)"/>
<circle cx="143.6" cy="1593.2" r="7.4" fill="rgba(150,150,150,0.72)"/>
<circle cx="143.6" cy="1608.1" r="7.4" fill="rgba(150,150,150,0.72)"/>
<circle cx="123.4" cy="1616.6" r="7.4" fill="rgba(150,150,150,0.72)"/>
<circle cx="163.8" cy="1610.2" r="7.4" fill="rgba(150,150,150,0.72)"/>
<circle cx="285.1" cy="1621.9" r="7.4" fill="rgba(150,150,150,0.72)"/>
<circle cx="285.1" cy="1642.1" r="7.4" fill="rgba(150,150,150,0.72)"/>
<circle cx="274.5" cy="1658.1" r="7.4" fill="rgba(150,150,150,0.72)"/>
<circle cx="294.7" cy="1654.9" r="7.4" fill="rgba(150,150,150,0.72)"/>
<circle cx="305.3" cy="1668.7" r="7.4" fill="rgba(150,150,150,0.72)"/>
<circle cx="264.9" cy="1676.2" r="7.4" fill="rgba(150,150,150,0.72)"/>
<circle cx="285.1" cy="1676.2" r="7.4" fill="rgba(150,150,150,0.72)"/>
<circle cx="305.3" cy="1682.6" r="7.4" fill="rgba(150,150,150,0.72)"/>
<circle cx="264.9" cy="1686.8" r="7.4" fill="rgba(150,150,150,0.72)"/>
<circle cx="285.1" cy="1690.0" r="7.4" fill="rgba(150,150,150,0.72)"/>
<circle cx="274.5" cy="1706.0" r="7.4" fill="rgba(150,150,150,0.72)"/>
<circle cx="294.7" cy="1706.0" r="7.4" fill="rgba(150,150,150,0.72)"/>
<circle cx="285.1" cy="1723.0" r="7.4" fill="rgba(150,150,150,0.72)"/>
<circle cx="426.4" cy="1631.5" r="7.4" fill="rgba(150,150,150,0.72)"/>
<circle cx="426.4" cy="1660.2" r="7.4" fill="rgba(150,150,150,0.72)"/>
<circle cx="406.6" cy="1670.9" r="7.4" fill="rgba(150,150,150,0.72)"/>
<circle cx="416.2" cy="1674.0" r="7.4" fill="rgba(150,150,150,0.72)"/>
<circle cx="436.4" cy="1670.9" r="7.4" fill="rgba(150,150,150,0.72)"/>
<circle cx="447.0" cy="1671.9" r="7.4" fill="rgba(150,150,150,0.72)"/>
<circle cx="426.4" cy="1674.0" r="7.4" fill="rgba(150,150,150,0.72)"/>
<circle cx="426.4" cy="1696.4" r="7.4" fill="rgba(150,150,150,0.72)"/>
<circle cx="416.2" cy="1709.1" r="7.4" fill="rgba(150,150,150,0.72)"/>
<circle cx="426.4" cy="1717.7" r="7.4" fill="rgba(150,150,150,0.72)"/>
<circle cx="436.4" cy="1728.3" r="7.4" fill="rgba(150,150,150,0.72)"/>
<circle cx="426.4" cy="1728.3" r="7.4" fill="rgba(150,150,150,0.72)"/>
<circle cx="416.2" cy="1732.6" r="7.4" fill="rgba(150,150,150,0.72)"/>
<circle cx="561.9" cy="1643.6" r="7.4" fill="rgba(150,150,150,0.72)"/>
<circle cx="572.6" cy="1642.1" r="7.4" fill="rgba(150,150,150,0.72)"/>
<circle cx="567.2" cy="1673.0" r="7.4" fill="rgba(150,150,150,0.72)"/>
<circle cx="548.1" cy="1682.6" r="7.4" fill="rgba(150,150,150,0.72)"/>
<circle cx="556.6" cy="1679.4" r="7.4" fill="rgba(150,150,150,0.72)"/>
<circle cx="587.4" cy="1681.5" r="7.4" fill="rgba(150,150,150,0.72)"/>
<circle cx="577.9" cy="1678.3" r="7.4" fill="rgba(150,150,150,0.72)"/>
<circle cx="567.2" cy="1688.9" r="7.4" fill="rgba(150,150,150,0.72)"/>
<circle cx="556.6" cy="1703.8" r="7.4" fill="rgba(150,150,150,0.72)"/>
<circle cx="577.9" cy="1706.0" r="7.4" fill="rgba(150,150,150,0.72)"/>
<circle cx="557.7" cy="1721.9" r="7.4" fill="rgba(150,150,150,0.72)"/>
<circle cx="567.2" cy="1715.5" r="7.4" fill="rgba(150,150,150,0.72)"/>
<circle cx="577.9" cy="1717.7" r="7.4" fill="rgba(150,150,150,0.72)"/>
<circle cx="186.2" cy="1569.8" r="7.4" fill="rgba(140,100,186,0.75)"/>
<circle cx="186.2" cy="1582.6" r="7.4" fill="rgba(140,100,186,0.75)"/>
<circle cx="226.6" cy="1578.3" r="7.4" fill="rgba(140,100,186,0.75)"/>
<circle cx="205.7" cy="1648.5" r="7.4" fill="rgba(140,100,186,0.75)"/>
<circle cx="205.7" cy="1657.0" r="7.4" fill="rgba(140,100,186,0.75)"/>
<circle cx="205.7" cy="1693.2" r="7.4" fill="rgba(140,100,186,0.75)"/>
<circle cx="205.7" cy="1710.2" r="7.4" fill="rgba(140,100,186,0.75)"/>
<circle cx="347.4" cy="1563.4" r="7.4" fill="rgba(140,100,186,0.75)"/>
<circle cx="347.4" cy="1597.4" r="7.4" fill="rgba(140,100,186,0.75)"/>
<circle cx="347.4" cy="1630.4" r="7.4" fill="rgba(140,100,186,0.75)"/>
<circle cx="347.4" cy="1644.3" r="7.4" fill="rgba(140,100,186,0.75)"/>
<circle cx="347.4" cy="1671.9" r="7.4" fill="rgba(140,100,186,0.75)"/>
<circle cx="347.4" cy="1691.1" r="7.4" fill="rgba(140,100,186,0.75)"/>
<circle cx="347.4" cy="1703.8" r="7.4" fill="rgba(140,100,186,0.75)"/>
<circle cx="488.5" cy="1576.2" r="7.4" fill="rgba(140,100,186,0.75)"/>
<circle cx="488.5" cy="1605.5" r="7.4" fill="rgba(140,100,186,0.75)"/>
<circle cx="488.5" cy="1618.3" r="7.4" fill="rgba(140,100,186,0.75)"/>
<circle cx="468.9" cy="1688.5" r="7.4" fill="rgba(140,100,186,0.75)"/>
<circle cx="508.7" cy="1680.0" r="7.4" fill="rgba(140,100,186,0.75)"/>
<circle cx="508.7" cy="1692.8" r="7.4" fill="rgba(140,100,186,0.75)"/>
<circle cx="488.5" cy="1710.2" r="7.4" fill="rgba(140,100,186,0.75)"/>
<circle cx="610.2" cy="1601.7" r="7.4" fill="rgba(140,100,186,0.75)"/>
<circle cx="650.2" cy="1605.5" r="7.4" fill="rgba(140,100,186,0.75)"/>
<circle cx="630.4" cy="1648.5" r="7.4" fill="rgba(140,100,186,0.75)"/>
<circle cx="610.2" cy="1682.1" r="7.4" fill="rgba(140,100,186,0.75)"/>
<circle cx="650.2" cy="1678.3" r="7.4" fill="rgba(140,100,186,0.75)"/>
<circle cx="630.4" cy="1707.0" r="7.4" fill="rgba(140,100,186,0.75)"/>
<circle cx="630.4" cy="1718.3" r="7.4" fill="rgba(140,100,186,0.75)"/>
<polyline points="161.7,1614.5 240.0,1592.0 312.8,1572.0 385.0,1556.0 458.2,1542.5 539.0,1526.3 611.6,1507.2" fill="none" stroke="#8c8c8c" stroke-width="4.8" stroke-linejoin="round" stroke-linecap="round"/>
<path d="M161.7,1675.1 C200,1658 260,1630 318,1606 C350,1593 380,1580 410,1570 C430,1564 445,1560 458.2,1556 C490,1546 510,1540 539,1531.7 C565,1524 590,1515 611.6,1507.2" fill="none" stroke="#7b4fa3" stroke-width="4.8" stroke-linecap="round"/>
<line x1="114.9" y1="1539.1" x2="172.8" y2="1539.1" stroke="#000" stroke-width="4.2"/>
<line x1="143.9" y1="1520.6" x2="143.9" y2="1556.2" stroke="#000" stroke-width="3"/>
<line x1="127.9" y1="1520.6" x2="159.9" y2="1520.6" stroke="#000" stroke-width="3"/>
<line x1="127.9" y1="1556.2" x2="159.9" y2="1556.2" stroke="#000" stroke-width="3"/>
<line x1="176.6" y1="1634.7" x2="235.1" y2="1634.7" stroke="#000" stroke-width="4.2"/>
<line x1="205.8" y1="1612.3" x2="205.8" y2="1656.0" stroke="#000" stroke-width="3"/>
<line x1="189.8" y1="1612.3" x2="221.8" y2="1612.3" stroke="#000" stroke-width="3"/>
<line x1="189.8" y1="1656.0" x2="221.8" y2="1656.0" stroke="#000" stroke-width="3"/>
<line x1="256.4" y1="1676.8" x2="314.5" y2="1676.8" stroke="#000" stroke-width="4.2"/>
<line x1="285.4" y1="1669.4" x2="285.4" y2="1684.7" stroke="#000" stroke-width="3"/>
<line x1="269.4" y1="1669.4" x2="301.4" y2="1669.4" stroke="#000" stroke-width="3"/>
<line x1="269.4" y1="1684.7" x2="301.4" y2="1684.7" stroke="#000" stroke-width="3"/>
<line x1="318.1" y1="1643.6" x2="377.2" y2="1643.6" stroke="#000" stroke-width="4.2"/>
<line x1="347.6" y1="1623.6" x2="347.6" y2="1662.3" stroke="#000" stroke-width="3"/>
<line x1="331.3" y1="1623.6" x2="363.9" y2="1623.6" stroke="#000" stroke-width="3"/>
<line x1="331.3" y1="1662.3" x2="363.9" y2="1662.3" stroke="#000" stroke-width="3"/>
<line x1="397.0" y1="1690.6" x2="456.0" y2="1690.6" stroke="#000" stroke-width="4.2"/>
<line x1="426.5" y1="1681.5" x2="426.5" y2="1699.1" stroke="#000" stroke-width="3"/>
<line x1="410.3" y1="1681.5" x2="442.7" y2="1681.5" stroke="#000" stroke-width="3"/>
<line x1="410.3" y1="1699.1" x2="442.7" y2="1699.1" stroke="#000" stroke-width="3"/>
<line x1="459.8" y1="1653.8" x2="518.3" y2="1653.8" stroke="#000" stroke-width="4.2"/>
<line x1="489.0" y1="1633.6" x2="489.0" y2="1673.0" stroke="#000" stroke-width="3"/>
<line x1="472.7" y1="1633.6" x2="505.3" y2="1633.6" stroke="#000" stroke-width="3"/>
<line x1="472.7" y1="1673.0" x2="505.3" y2="1673.0" stroke="#000" stroke-width="3"/>
<line x1="539.1" y1="1688.5" x2="597.0" y2="1688.5" stroke="#000" stroke-width="4.2"/>
<line x1="568.0" y1="1681.1" x2="568.0" y2="1695.3" stroke="#000" stroke-width="3"/>
<line x1="552.0" y1="1681.1" x2="584.0" y2="1681.1" stroke="#000" stroke-width="3"/>
<line x1="552.0" y1="1695.3" x2="584.0" y2="1695.3" stroke="#000" stroke-width="3"/>
<line x1="601.3" y1="1663.8" x2="659.8" y2="1663.8" stroke="#000" stroke-width="4.2"/>
<line x1="630.5" y1="1645.3" x2="630.5" y2="1680.4" stroke="#000" stroke-width="3"/>
<line x1="614.5" y1="1645.3" x2="646.5" y2="1645.3" stroke="#000" stroke-width="3"/>
<line x1="614.5" y1="1680.4" x2="646.5" y2="1680.4" stroke="#000" stroke-width="3"/>
<text x="776.0" y="1403.6" font-size="38.5" text-anchor="start" fill="#231f20" font-weight="bold">l</text>
<line x1="862.8" y1="1428.6" x2="862.8" y2="1746.6" stroke="#000" stroke-width="3"/>
<line x1="862.8" y1="1745.1" x2="1156.1" y2="1745.1" stroke="#000" stroke-width="3"/>
<line x1="1167.8" y1="1745.1" x2="1462.4" y2="1745.1" stroke="#000" stroke-width="3"/>
<line x1="862.8" y1="1699.2" x2="870.9" y2="1699.2" stroke="#000" stroke-width="3"/>
<text x="856.0" y="1706.8" font-size="20.2" text-anchor="end" fill="#000">100</text>
<line x1="862.8" y1="1609.5" x2="870.9" y2="1609.5" stroke="#000" stroke-width="3"/>
<text x="856.0" y="1617.0" font-size="20.2" text-anchor="end" fill="#000">150</text>
<line x1="862.8" y1="1519.8" x2="870.9" y2="1519.8" stroke="#000" stroke-width="3"/>
<text x="856.0" y="1527.3" font-size="20.2" text-anchor="end" fill="#000">200</text>
<line x1="862.8" y1="1430.1" x2="870.9" y2="1430.1" stroke="#000" stroke-width="3"/>
<text x="856.0" y="1437.6" font-size="20.2" text-anchor="end" fill="#000">250</text>
<line x1="904.7" y1="1737.1" x2="904.7" y2="1745.1" stroke="#000" stroke-width="3"/>
<text x="904.7" y="1766.8" font-size="22" text-anchor="middle" fill="#000">0</text>
<line x1="987.5" y1="1737.1" x2="987.5" y2="1745.1" stroke="#000" stroke-width="3"/>
<text x="987.5" y="1766.8" font-size="22" text-anchor="middle" fill="#000">30</text>
<line x1="1070.8" y1="1737.1" x2="1070.8" y2="1745.1" stroke="#000" stroke-width="3"/>
<text x="1070.8" y="1766.8" font-size="22" text-anchor="middle" fill="#000">60</text>
<line x1="1154.6" y1="1737.1" x2="1154.6" y2="1745.1" stroke="#000" stroke-width="3"/>
<text x="1154.6" y="1766.8" font-size="22" text-anchor="middle" fill="#000">90</text>
<line x1="1208.0" y1="1737.1" x2="1208.0" y2="1745.1" stroke="#000" stroke-width="3"/>
<text x="1208.0" y="1766.8" font-size="22" text-anchor="middle" fill="#000">0</text>
<line x1="1292.3" y1="1737.1" x2="1292.3" y2="1745.1" stroke="#000" stroke-width="3"/>
<text x="1292.3" y="1766.8" font-size="22" text-anchor="middle" fill="#000">30</text>
<line x1="1376.0" y1="1737.1" x2="1376.0" y2="1745.1" stroke="#000" stroke-width="3"/>
<text x="1376.0" y="1766.8" font-size="22" text-anchor="middle" fill="#000">60</text>
<line x1="1460.9" y1="1737.1" x2="1460.9" y2="1745.1" stroke="#000" stroke-width="3"/>
<text x="1460.9" y="1766.8" font-size="22" text-anchor="middle" fill="#000">90</text>
<text x="1186.6" y="1797.0" font-size="24.5" text-anchor="middle" fill="#000">Time after CNO injection (min)</text>
<text x="1022.6" y="1427.0" font-size="23.7" text-anchor="middle" fill="#000">Female</text>
<text x="1336.4" y="1427.0" font-size="23.7" text-anchor="middle" fill="#000">Male</text>
<text x="938.9" y="1528.1" font-size="17.8" text-anchor="start" fill="#000">p = 0.05 vs. t 0</text>
<text x="807.0" y="1578.0" font-size="24.7" text-anchor="middle" fill="#000" transform="rotate(-90 807.0 1578.0)">Glucose (mg/dL)</text>
<line x1="904.7" y1="1650.2" x2="904.7" y2="1641.5" stroke="#8c8c8c" stroke-width="3.6"/>
<line x1="902.1" y1="1642.0" x2="907.3" y2="1642.0" stroke="#8c8c8c" stroke-width="4.6" stroke-linecap="round"/>
<line x1="987.5" y1="1624.8" x2="987.5" y2="1604.5" stroke="#8c8c8c" stroke-width="3.6"/>
<line x1="984.9" y1="1605.0" x2="990.1" y2="1605.0" stroke="#8c8c8c" stroke-width="4.6" stroke-linecap="round"/>
<line x1="1070.8" y1="1627.8" x2="1070.8" y2="1621.2" stroke="#8c8c8c" stroke-width="3.6"/>
<line x1="1068.2" y1="1621.7" x2="1073.4" y2="1621.7" stroke="#8c8c8c" stroke-width="4.6" stroke-linecap="round"/>
<line x1="1154.6" y1="1626.3" x2="1154.6" y2="1614.6" stroke="#8c8c8c" stroke-width="3.6"/>
<line x1="1152.0" y1="1615.1" x2="1157.2" y2="1615.1" stroke="#8c8c8c" stroke-width="4.6" stroke-linecap="round"/>
<polyline points="904.7,1650.2 987.5,1624.8 1070.8,1627.8 1154.6,1626.3" fill="none" stroke="#8c8c8c" stroke-width="4.1" stroke-linejoin="round"/>
<line x1="904.7" y1="1639.0" x2="904.7" y2="1620.2" stroke="#7b4fa3" stroke-width="3.6"/>
<line x1="902.1" y1="1620.7" x2="907.3" y2="1620.7" stroke="#7b4fa3" stroke-width="4.6" stroke-linecap="round"/>
<line x1="987.5" y1="1577.1" x2="987.5" y2="1542.5" stroke="#7b4fa3" stroke-width="3.6"/>
<line x1="984.9" y1="1543.0" x2="990.1" y2="1543.0" stroke="#7b4fa3" stroke-width="4.6" stroke-linecap="round"/>
<line x1="1070.8" y1="1573.0" x2="1070.8" y2="1546.6" stroke="#7b4fa3" stroke-width="3.6"/>
<line x1="1068.2" y1="1547.1" x2="1073.4" y2="1547.1" stroke="#7b4fa3" stroke-width="4.6" stroke-linecap="round"/>
<line x1="1154.6" y1="1568.9" x2="1154.6" y2="1537.4" stroke="#7b4fa3" stroke-width="3.6"/>
<line x1="1152.0" y1="1537.9" x2="1157.2" y2="1537.9" stroke="#7b4fa3" stroke-width="4.6" stroke-linecap="round"/>
<polyline points="904.7,1639.0 987.5,1577.1 1070.8,1573.0 1154.6,1568.9" fill="none" stroke="#7b4fa3" stroke-width="4.1" stroke-linejoin="round"/>
<line x1="1208.0" y1="1649.2" x2="1208.0" y2="1639.0" stroke="#8c8c8c" stroke-width="3.6"/>
<line x1="1205.4" y1="1639.5" x2="1210.6" y2="1639.5" stroke="#8c8c8c" stroke-width="4.6" stroke-linecap="round"/>
<line x1="1292.3" y1="1608.5" x2="1292.3" y2="1600.9" stroke="#8c8c8c" stroke-width="3.6"/>
<line x1="1289.7" y1="1601.4" x2="1294.9" y2="1601.4" stroke="#8c8c8c" stroke-width="4.6" stroke-linecap="round"/>
<line x1="1376.0" y1="1603.5" x2="1376.0" y2="1594.3" stroke="#8c8c8c" stroke-width="3.6"/>
<line x1="1373.4" y1="1594.8" x2="1378.6" y2="1594.8" stroke="#8c8c8c" stroke-width="4.6" stroke-linecap="round"/>
<line x1="1460.9" y1="1611.1" x2="1460.9" y2="1601.9" stroke="#8c8c8c" stroke-width="3.6"/>
<line x1="1458.3" y1="1602.4" x2="1463.5" y2="1602.4" stroke="#8c8c8c" stroke-width="4.6" stroke-linecap="round"/>
<polyline points="1208.0,1649.2 1292.3,1608.5 1376.0,1603.5 1460.9,1611.1" fill="none" stroke="#8c8c8c" stroke-width="4.1" stroke-linejoin="round"/>
<line x1="1208.0" y1="1623.8" x2="1208.0" y2="1612.6" stroke="#7b4fa3" stroke-width="3.6"/>
<line x1="1205.4" y1="1613.1" x2="1210.6" y2="1613.1" stroke="#7b4fa3" stroke-width="4.6" stroke-linecap="round"/>
<line x1="1292.3" y1="1556.2" x2="1292.3" y2="1540.0" stroke="#7b4fa3" stroke-width="3.6"/>
<line x1="1289.7" y1="1540.5" x2="1294.9" y2="1540.5" stroke="#7b4fa3" stroke-width="4.6" stroke-linecap="round"/>
<line x1="1376.0" y1="1521.2" x2="1376.0" y2="1499.3" stroke="#7b4fa3" stroke-width="3.6"/>
<line x1="1373.4" y1="1499.8" x2="1378.6" y2="1499.8" stroke="#7b4fa3" stroke-width="4.6" stroke-linecap="round"/>
<line x1="1460.9" y1="1557.8" x2="1460.9" y2="1540.0" stroke="#7b4fa3" stroke-width="3.6"/>
<line x1="1458.3" y1="1540.5" x2="1463.5" y2="1540.5" stroke="#7b4fa3" stroke-width="4.6" stroke-linecap="round"/>
<polyline points="1208.0,1623.8 1292.3,1556.2 1376.0,1521.2 1460.9,1557.8" fill="none" stroke="#7b4fa3" stroke-width="4.1" stroke-linejoin="round"/>
<path d="M1292.30,1523.50L1292.30,1516.70M1292.30,1523.50L1298.77,1521.40M1292.30,1523.50L1296.30,1529.00M1292.30,1523.50L1288.30,1529.00M1292.30,1523.50L1285.83,1521.40" stroke="#111" stroke-width="3" stroke-linecap="butt" fill="none"/>
<path d="M1371.00,1483.00L1371.00,1476.20M1371.00,1483.00L1377.47,1480.90M1371.00,1483.00L1375.00,1488.50M1371.00,1483.00L1367.00,1488.50M1371.00,1483.00L1364.53,1480.90" stroke="#111" stroke-width="3" stroke-linecap="butt" fill="none"/>
<path d="M1388.00,1483.00L1388.00,1476.20M1388.00,1483.00L1394.47,1480.90M1388.00,1483.00L1392.00,1488.50M1388.00,1483.00L1384.00,1488.50M1388.00,1483.00L1381.53,1480.90" stroke="#111" stroke-width="3" stroke-linecap="butt" fill="none"/>
<path d="M1460.90,1523.50L1460.90,1516.70M1460.90,1523.50L1467.37,1521.40M1460.90,1523.50L1464.90,1529.00M1460.90,1523.50L1456.90,1529.00M1460.90,1523.50L1454.43,1521.40" stroke="#111" stroke-width="3" stroke-linecap="butt" fill="none"/>
<text x="-2.0" y="1831.0" font-size="38.5" text-anchor="start" fill="#231f20" font-weight="bold">m</text>
<line x1="88.5" y1="1846.8" x2="88.5" y2="2148.5" stroke="#000" stroke-width="3"/>
<line x1="88.5" y1="2147.0" x2="382.7" y2="2147.0" stroke="#000" stroke-width="3"/>
<line x1="395.1" y1="2147.0" x2="687.3" y2="2147.0" stroke="#000" stroke-width="3"/>
<line x1="88.5" y1="2147.0" x2="97.0" y2="2147.0" stroke="#000" stroke-width="3"/>
<text x="83.0" y="2154.0" font-size="20.5" text-anchor="end" fill="#000">0.0</text>
<line x1="88.5" y1="2072.3" x2="97.0" y2="2072.3" stroke="#000" stroke-width="3"/>
<text x="83.0" y="2079.3" font-size="20.5" text-anchor="end" fill="#000">0.5</text>
<line x1="88.5" y1="1997.7" x2="97.0" y2="1997.7" stroke="#000" stroke-width="3"/>
<text x="83.0" y="2004.7" font-size="20.5" text-anchor="end" fill="#000">1.0</text>
<line x1="88.5" y1="1923.0" x2="97.0" y2="1923.0" stroke="#000" stroke-width="3"/>
<text x="83.0" y="1930.0" font-size="20.5" text-anchor="end" fill="#000">1.5</text>
<line x1="88.5" y1="1848.3" x2="97.0" y2="1848.3" stroke="#000" stroke-width="3"/>
<text x="83.0" y="1855.3" font-size="20.5" text-anchor="end" fill="#000">2.0</text>
<line x1="130.5" y1="2139.0" x2="130.5" y2="2147.0" stroke="#000" stroke-width="3"/>
<text x="134.5" y="2172.0" font-size="23" text-anchor="middle" fill="#000">0</text>
<line x1="214.0" y1="2139.0" x2="214.0" y2="2147.0" stroke="#000" stroke-width="3"/>
<text x="214.0" y="2172.0" font-size="23" text-anchor="middle" fill="#000">30</text>
<line x1="297.0" y1="2139.0" x2="297.0" y2="2147.0" stroke="#000" stroke-width="3"/>
<text x="297.0" y="2172.0" font-size="23" text-anchor="middle" fill="#000">60</text>
<line x1="381.7" y1="2139.0" x2="381.7" y2="2147.0" stroke="#000" stroke-width="3"/>
<text x="381.7" y="2172.0" font-size="23" text-anchor="middle" fill="#000">90</text>
<line x1="435.6" y1="2139.0" x2="435.6" y2="2147.0" stroke="#000" stroke-width="3"/>
<text x="435.6" y="2172.0" font-size="23" text-anchor="middle" fill="#000">0</text>
<line x1="518.6" y1="2139.0" x2="518.6" y2="2147.0" stroke="#000" stroke-width="3"/>
<text x="518.6" y="2172.0" font-size="23" text-anchor="middle" fill="#000">30</text>
<line x1="602.2" y1="2139.0" x2="602.2" y2="2147.0" stroke="#000" stroke-width="3"/>
<text x="602.2" y="2172.0" font-size="23" text-anchor="middle" fill="#000">60</text>
<line x1="686.3" y1="2139.0" x2="686.3" y2="2147.0" stroke="#000" stroke-width="3"/>
<text x="686.3" y="2172.0" font-size="23" text-anchor="middle" fill="#000">90</text>
<text x="417.8" y="2202.5" font-size="25.3" text-anchor="middle" fill="#000">Time after CNO injection (min)</text>
<text x="269.5" y="1888.2" font-size="24.9" text-anchor="middle" fill="#000">Female</text>
<text x="567.7" y="1888.2" font-size="24.9" text-anchor="middle" fill="#000">Male</text>
<text x="41.0" y="1988.2" font-size="25.5" text-anchor="middle" fill="#000" transform="rotate(-90 41.0 1988.2)">Insulin (<tspan font-style="italic">μ</tspan>g/L)</text>
<line x1="111.5" y1="1824.0" x2="145.5" y2="1824.0" stroke="#8c8c8c" stroke-width="2.8"/>
<line x1="111.5" y1="1854.3" x2="145.5" y2="1854.3" stroke="#7b4fa3" stroke-width="2.8"/>
<text x="151.5" y="1830.9" font-size="19" text-anchor="start" fill="#000" textLength="59.5" lengthAdjust="spacingAndGlyphs">Control</text>
<text x="151.5" y="1860.6" font-size="19" text-anchor="start" fill="#000" textLength="67.2" lengthAdjust="spacingAndGlyphs">MeA Gq</text>
<line x1="130.5" y1="2081.2" x2="130.5" y2="2069.3" stroke="#8c8c8c" stroke-width="3.6"/>
<line x1="127.9" y1="2069.8" x2="133.1" y2="2069.8" stroke="#8c8c8c" stroke-width="4.6" stroke-linecap="round"/>
<line x1="214.0" y1="2099.0" x2="214.0" y2="2082.3" stroke="#8c8c8c" stroke-width="3.6"/>
<line x1="211.4" y1="2082.8" x2="216.6" y2="2082.8" stroke="#8c8c8c" stroke-width="4.6" stroke-linecap="round"/>
<line x1="297.0" y1="2089.3" x2="297.0" y2="2082.0" stroke="#8c8c8c" stroke-width="3.6"/>
<line x1="294.4" y1="2082.5" x2="299.6" y2="2082.5" stroke="#8c8c8c" stroke-width="4.6" stroke-linecap="round"/>
<line x1="381.7" y1="2074.2" x2="381.7" y2="2067.7" stroke="#8c8c8c" stroke-width="3.6"/>
<line x1="379.1" y1="2068.2" x2="384.3" y2="2068.2" stroke="#8c8c8c" stroke-width="4.6" stroke-linecap="round"/>
<polyline points="130.5,2081.2 214.0,2099.0 297.0,2089.3 381.7,2074.2" fill="none" stroke="#8c8c8c" stroke-width="4.1" stroke-linejoin="round"/>
<line x1="130.5" y1="2082.3" x2="130.5" y2="2060.7" stroke="#7b4fa3" stroke-width="3.6"/>
<line x1="127.9" y1="2061.2" x2="133.1" y2="2061.2" stroke="#7b4fa3" stroke-width="4.6" stroke-linecap="round"/>
<line x1="214.0" y1="2087.7" x2="214.0" y2="2050.5" stroke="#7b4fa3" stroke-width="3.6"/>
<line x1="211.4" y1="2051.0" x2="216.6" y2="2051.0" stroke="#7b4fa3" stroke-width="4.6" stroke-linecap="round"/>
<line x1="297.0" y1="2100.0" x2="297.0" y2="2076.9" stroke="#7b4fa3" stroke-width="3.6"/>
<line x1="294.4" y1="2077.4" x2="299.6" y2="2077.4" stroke="#7b4fa3" stroke-width="4.6" stroke-linecap="round"/>
<line x1="381.7" y1="2086.6" x2="381.7" y2="2073.1" stroke="#7b4fa3" stroke-width="3.6"/>
<line x1="379.1" y1="2073.6" x2="384.3" y2="2073.6" stroke="#7b4fa3" stroke-width="4.6" stroke-linecap="round"/>
<polyline points="130.5,2082.3 214.0,2087.7 297.0,2100.0 381.7,2086.6" fill="none" stroke="#7b4fa3" stroke-width="4.1" stroke-linejoin="round"/>
<line x1="435.6" y1="2020.3" x2="435.6" y2="2000.3" stroke="#8c8c8c" stroke-width="3.6"/>
<line x1="433.0" y1="2000.8" x2="438.2" y2="2000.8" stroke="#8c8c8c" stroke-width="4.6" stroke-linecap="round"/>
<line x1="518.6" y1="2030.0" x2="518.6" y2="2012.2" stroke="#8c8c8c" stroke-width="3.6"/>
<line x1="516.0" y1="2012.7" x2="521.2" y2="2012.7" stroke="#8c8c8c" stroke-width="4.6" stroke-linecap="round"/>
<line x1="602.2" y1="2023.0" x2="602.2" y2="2011.1" stroke="#8c8c8c" stroke-width="3.6"/>
<line x1="599.6" y1="2011.6" x2="604.8" y2="2011.6" stroke="#8c8c8c" stroke-width="4.6" stroke-linecap="round"/>
<line x1="686.3" y1="2026.2" x2="686.3" y2="2014.9" stroke="#8c8c8c" stroke-width="3.6"/>
<line x1="683.7" y1="2015.4" x2="688.9" y2="2015.4" stroke="#8c8c8c" stroke-width="4.6" stroke-linecap="round"/>
<polyline points="435.6,2020.3 518.6,2030.0 602.2,2023.0 686.3,2026.2" fill="none" stroke="#8c8c8c" stroke-width="4.1" stroke-linejoin="round"/>
<line x1="435.6" y1="1984.2" x2="435.6" y2="1941.0" stroke="#7b4fa3" stroke-width="3.6"/>
<line x1="433.0" y1="1941.5" x2="438.2" y2="1941.5" stroke="#7b4fa3" stroke-width="4.6" stroke-linecap="round"/>
<line x1="518.6" y1="1966.9" x2="518.6" y2="1938.3" stroke="#7b4fa3" stroke-width="3.6"/>
<line x1="516.0" y1="1938.8" x2="521.2" y2="1938.8" stroke="#7b4fa3" stroke-width="4.6" stroke-linecap="round"/>
<line x1="602.2" y1="1982.5" x2="602.2" y2="1955.6" stroke="#7b4fa3" stroke-width="3.6"/>
<line x1="599.6" y1="1956.1" x2="604.8" y2="1956.1" stroke="#7b4fa3" stroke-width="4.6" stroke-linecap="round"/>
<line x1="686.3" y1="1930.2" x2="686.3" y2="1893.6" stroke="#7b4fa3" stroke-width="3.6"/>
<line x1="683.7" y1="1894.1" x2="688.9" y2="1894.1" stroke="#7b4fa3" stroke-width="4.6" stroke-linecap="round"/>
<polyline points="435.6,1984.2 518.6,1966.9 602.2,1982.5 686.3,1930.2" fill="none" stroke="#7b4fa3" stroke-width="4.1" stroke-linejoin="round"/>
<polyline points="699.7,1869.3 710.5,1869.3 710.5,2034.3 699.7,2034.3" fill="none" stroke="#111" stroke-width="2.2" stroke-linejoin="round"/>
<path d="M724.00,1934.50L724.00,1927.70M724.00,1934.50L730.47,1932.40M724.00,1934.50L728.00,1940.00M724.00,1934.50L720.00,1940.00M724.00,1934.50L717.53,1932.40" stroke="#111" stroke-width="3" stroke-linecap="butt" fill="none"/>
<path d="M687.30,1875.00L687.30,1868.20M687.30,1875.00L693.77,1872.90M687.30,1875.00L691.30,1880.50M687.30,1875.00L683.30,1880.50M687.30,1875.00L680.83,1872.90" stroke="#111" stroke-width="3" stroke-linecap="butt" fill="none"/>
<text x="749.0" y="1831.0" font-size="38.5" text-anchor="start" fill="#231f20" font-weight="bold">n</text>
<line x1="864.0" y1="1854.7" x2="864.0" y2="2143.6" stroke="#000" stroke-width="3"/>
<line x1="864.0" y1="2142.1" x2="1152.6" y2="2142.1" stroke="#000" stroke-width="3"/>
<line x1="1166.3" y1="2142.1" x2="1454.8" y2="2142.1" stroke="#000" stroke-width="3"/>
<line x1="864.0" y1="2142.1" x2="871.8" y2="2142.1" stroke="#000" stroke-width="3"/>
<text x="856.0" y="2150.1" font-size="19.8" text-anchor="end" fill="#000">0</text>
<line x1="864.0" y1="2084.9" x2="871.8" y2="2084.9" stroke="#000" stroke-width="3"/>
<text x="856.0" y="2092.9" font-size="19.8" text-anchor="end" fill="#000">5</text>
<line x1="864.0" y1="2027.8" x2="871.8" y2="2027.8" stroke="#000" stroke-width="3"/>
<text x="856.0" y="2035.8" font-size="19.8" text-anchor="end" fill="#000">10</text>
<line x1="864.0" y1="1970.6" x2="871.8" y2="1970.6" stroke="#000" stroke-width="3"/>
<text x="856.0" y="1978.6" font-size="19.8" text-anchor="end" fill="#000">15</text>
<line x1="864.0" y1="1913.4" x2="871.8" y2="1913.4" stroke="#000" stroke-width="3"/>
<text x="856.0" y="1921.4" font-size="19.8" text-anchor="end" fill="#000">20</text>
<line x1="864.0" y1="1856.2" x2="871.8" y2="1856.2" stroke="#000" stroke-width="3"/>
<text x="856.0" y="1864.2" font-size="19.8" text-anchor="end" fill="#000">25</text>
<line x1="905.8" y1="2134.1" x2="905.8" y2="2142.1" stroke="#000" stroke-width="3"/>
<text x="905.8" y="2166.0" font-size="23" text-anchor="middle" fill="#000">0</text>
<line x1="987.0" y1="2134.1" x2="987.0" y2="2142.1" stroke="#000" stroke-width="3"/>
<text x="987.0" y="2166.0" font-size="23" text-anchor="middle" fill="#000">30</text>
<line x1="1068.8" y1="2134.1" x2="1068.8" y2="2142.1" stroke="#000" stroke-width="3"/>
<text x="1068.8" y="2166.0" font-size="23" text-anchor="middle" fill="#000">60</text>
<line x1="1151.0" y1="2134.1" x2="1151.0" y2="2142.1" stroke="#000" stroke-width="3"/>
<text x="1151.0" y="2166.0" font-size="23" text-anchor="middle" fill="#000">90</text>
<line x1="1208.0" y1="2134.1" x2="1208.0" y2="2142.1" stroke="#000" stroke-width="3"/>
<text x="1208.0" y="2166.0" font-size="23" text-anchor="middle" fill="#000">0</text>
<line x1="1289.7" y1="2134.1" x2="1289.7" y2="2142.1" stroke="#000" stroke-width="3"/>
<text x="1289.7" y="2166.0" font-size="23" text-anchor="middle" fill="#000">30</text>
<line x1="1372.0" y1="2134.1" x2="1372.0" y2="2142.1" stroke="#000" stroke-width="3"/>
<text x="1372.0" y="2166.0" font-size="23" text-anchor="middle" fill="#000">60</text>
<line x1="1454.3" y1="2134.1" x2="1454.3" y2="2142.1" stroke="#000" stroke-width="3"/>
<text x="1454.3" y="2161.0" font-size="23" text-anchor="middle" fill="#000">90</text>
<text x="1166.3" y="2197.5" font-size="25.5" text-anchor="middle" fill="#000">Time after CNO injection (min)</text>
<text x="1037.8" y="1887.7" font-size="24.4" text-anchor="middle" fill="#000">Female</text>
<text x="1341.5" y="1887.7" font-size="24.4" text-anchor="middle" fill="#000">Male</text>
<text x="813.8" y="2002.2" font-size="24.4" text-anchor="middle" fill="#000" transform="rotate(-90 813.8 2002.2)">Glucagon (pg/mL)</text>
<text x="1153.7" y="1934.0" font-size="36" text-anchor="middle" fill="#000">#</text>
<text x="1456.8" y="2121.3" font-size="25.2" text-anchor="end" fill="#000"># vs. t 0</text>
<line x1="905.8" y1="2027.3" x2="905.8" y2="2020.2" stroke="#8c8c8c" stroke-width="3.6"/>
<line x1="903.2" y1="2020.7" x2="908.4" y2="2020.7" stroke="#8c8c8c" stroke-width="4.6" stroke-linecap="round"/>
<line x1="987.0" y1="2010.0" x2="987.0" y2="2003.5" stroke="#8c8c8c" stroke-width="3.6"/>
<line x1="984.4" y1="2004.0" x2="989.6" y2="2004.0" stroke="#8c8c8c" stroke-width="4.6" stroke-linecap="round"/>
<line x1="1068.8" y1="2020.2" x2="1068.8" y2="2012.6" stroke="#8c8c8c" stroke-width="3.6"/>
<line x1="1066.2" y1="2013.1" x2="1071.4" y2="2013.1" stroke="#8c8c8c" stroke-width="4.6" stroke-linecap="round"/>
<line x1="1151.0" y1="2022.8" x2="1151.0" y2="2014.6" stroke="#8c8c8c" stroke-width="3.6"/>
<line x1="1148.4" y1="2015.1" x2="1153.6" y2="2015.1" stroke="#8c8c8c" stroke-width="4.6" stroke-linecap="round"/>
<polyline points="905.8,2027.3 987.0,2010.0 1068.8,2020.2 1151.0,2022.8" fill="none" stroke="#8c8c8c" stroke-width="4.1" stroke-linejoin="round"/>
<line x1="905.8" y1="1953.7" x2="905.8" y2="1886.7" stroke="#7b4fa3" stroke-width="3.6"/>
<line x1="903.2" y1="1887.2" x2="908.4" y2="1887.2" stroke="#7b4fa3" stroke-width="4.6" stroke-linecap="round"/>
<line x1="987.0" y1="1978.0" x2="987.0" y2="1923.7" stroke="#7b4fa3" stroke-width="3.6"/>
<line x1="984.4" y1="1924.2" x2="989.6" y2="1924.2" stroke="#7b4fa3" stroke-width="4.6" stroke-linecap="round"/>
<line x1="1068.8" y1="1981.6" x2="1068.8" y2="1931.3" stroke="#7b4fa3" stroke-width="3.6"/>
<line x1="1066.2" y1="1931.8" x2="1071.4" y2="1931.8" stroke="#7b4fa3" stroke-width="4.6" stroke-linecap="round"/>
<line x1="1151.0" y1="2007.0" x2="1151.0" y2="1949.1" stroke="#7b4fa3" stroke-width="3.6"/>
<line x1="1148.4" y1="1949.6" x2="1153.6" y2="1949.6" stroke="#7b4fa3" stroke-width="4.6" stroke-linecap="round"/>
<polyline points="905.8,1953.7 987.0,1978.0 1068.8,1981.6 1151.0,2007.0" fill="none" stroke="#7b4fa3" stroke-width="4.1" stroke-linejoin="round"/>
<line x1="1208.0" y1="2055.8" x2="1208.0" y2="2042.6" stroke="#8c8c8c" stroke-width="3.6"/>
<line x1="1205.4" y1="2043.1" x2="1210.6" y2="2043.1" stroke="#8c8c8c" stroke-width="4.6" stroke-linecap="round"/>
<line x1="1289.7" y1="2047.6" x2="1289.7" y2="2036.5" stroke="#8c8c8c" stroke-width="3.6"/>
<line x1="1287.1" y1="2037.0" x2="1292.3" y2="2037.0" stroke="#8c8c8c" stroke-width="4.6" stroke-linecap="round"/>
<line x1="1372.0" y1="2063.4" x2="1372.0" y2="2056.8" stroke="#8c8c8c" stroke-width="3.6"/>
<line x1="1369.4" y1="2057.3" x2="1374.6" y2="2057.3" stroke="#8c8c8c" stroke-width="4.6" stroke-linecap="round"/>
<line x1="1454.3" y1="2055.8" x2="1454.3" y2="2044.1" stroke="#8c8c8c" stroke-width="3.6"/>
<line x1="1451.7" y1="2044.6" x2="1456.9" y2="2044.6" stroke="#8c8c8c" stroke-width="4.6" stroke-linecap="round"/>
<polyline points="1208.0,2055.8 1289.7,2047.6 1372.0,2063.4 1454.3,2055.8" fill="none" stroke="#8c8c8c" stroke-width="4.1" stroke-linejoin="round"/>
<line x1="1208.0" y1="2051.7" x2="1208.0" y2="2023.8" stroke="#7b4fa3" stroke-width="3.6"/>
<line x1="1205.4" y1="2024.3" x2="1210.6" y2="2024.3" stroke="#7b4fa3" stroke-width="4.6" stroke-linecap="round"/>
<line x1="1289.7" y1="2030.4" x2="1289.7" y2="1994.8" stroke="#7b4fa3" stroke-width="3.6"/>
<line x1="1287.1" y1="1995.3" x2="1292.3" y2="1995.3" stroke="#7b4fa3" stroke-width="4.6" stroke-linecap="round"/>
<line x1="1372.0" y1="2053.2" x2="1372.0" y2="2031.4" stroke="#7b4fa3" stroke-width="3.6"/>
<line x1="1369.4" y1="2031.9" x2="1374.6" y2="2031.9" stroke="#7b4fa3" stroke-width="4.6" stroke-linecap="round"/>
<line x1="1454.3" y1="2027.3" x2="1454.3" y2="2001.9" stroke="#7b4fa3" stroke-width="3.6"/>
<line x1="1451.7" y1="2002.4" x2="1456.9" y2="2002.4" stroke="#7b4fa3" stroke-width="4.6" stroke-linecap="round"/>
<polyline points="1208.0,2051.7 1289.7,2030.4 1372.0,2053.2 1454.3,2027.3" fill="none" stroke="#7b4fa3" stroke-width="4.1" stroke-linejoin="round"/>
<text x="14.0" y="2245.0" font-size="38.5" text-anchor="start" fill="#231f20" font-weight="bold">o</text>
<text x="313.5" y="2276.2" font-size="20" text-anchor="end" fill="#7d55a6" textLength="261" lengthAdjust="spacingAndGlyphs">AAV9-hSyn-hChR2(H134R)</text>
<text x="313.5" y="2300.9" font-size="20" text-anchor="end" fill="#999999" textLength="194.4" lengthAdjust="spacingAndGlyphs"><tspan fill="#231f20">or </tspan>AAV9-hSyn-eGFP</text>
<rect x="179.3" y="2325.0" width="6.4" height="14.7" fill="#1aa7e0"/>
<rect x="186.6" y="2325.0" width="6.4" height="14.7" fill="#1aa7e0"/>
<rect x="193.9" y="2325.0" width="6.4" height="14.7" fill="#1aa7e0"/>
<rect x="201.2" y="2325.0" width="6.4" height="14.7" fill="#1aa7e0"/>
<rect x="208.5" y="2325.0" width="6.4" height="14.7" fill="#1aa7e0"/>
<rect x="215.8" y="2325.0" width="6.4" height="14.7" fill="#1aa7e0"/>
<rect x="223.1" y="2325.0" width="6.4" height="14.7" fill="#1aa7e0"/>
<rect x="230.4" y="2325.0" width="6.4" height="14.7" fill="#1aa7e0"/>
<path d="M241.1,2331.8 C252,2333.5 262,2327 271.2,2316 C276,2310.5 283,2309 289.5,2316.5" fill="none" stroke="#111" stroke-width="1.6"/>
<text x="264.6" y="2364.9" font-size="20" text-anchor="end" fill="#1aa3dc" textLength="74.7" lengthAdjust="spacingAndGlyphs">470 nm,</text>
<text x="264.6" y="2390.8" font-size="20" text-anchor="end" fill="#1aa3dc" textLength="53.9" lengthAdjust="spacingAndGlyphs">20 Hz</text>
<g transform="translate(30,2390) scale(0.2482)" fill="none" stroke="#111" stroke-linejoin="round" stroke-linecap="round">
<path stroke-width="8.5" d="M703,100 C690,75 670,55 600,50 C470,48 330,80 230,150 C120,230 60,350 52,480 C45,600 80,720 160,810 C230,880 330,915 420,915 C460,912 478,880 486,828"/>
<path stroke-width="8.5" d="M703,100 C720,75 760,56 820,52 C940,48 1050,70 1140,120 C1250,190 1325,300 1345,420 C1360,520 1345,630 1300,720 C1250,820 1160,890 1060,905 C990,915 945,900 925,835"/>
</g>
<g transform="translate(60,2500) scale(0.19857)" fill="none" stroke="#111" stroke-linejoin="round" stroke-linecap="round" stroke-width="10">
<path d="M450,480 C480,500 520,540 560,570 C600,590 660,592 728,595 C800,592 860,590 900,565 C930,545 955,500 985,470 C1000,465 1010,475 1030,500"/>
<path d="M200,10 C210,80 250,150 300,220 C350,290 400,360 440,430 C455,460 465,480 470,485"/>
<path d="M285,20 C280,60 280,110 300,140 C330,170 380,200 430,250 C470,290 490,330 485,360 C480,380 450,380 420,365 C380,340 340,300 320,275"/>
<path d="M318,268 C345,260 400,300 440,330 C470,355 480,375 455,378"/>
<path d="M660,585 C690,560 715,540 722,500 C726,450 726,410 728,388 C732,410 734,450 736,500 C742,540 770,565 800,585 M716,590 L722,520 M742,590 L734,520"/>
<path d="M1250,10 C1240,40 1240,70 1230,100 C1200,160 1160,200 1110,230 C1060,260 1010,280 995,310 C985,335 990,360 1020,365 C1040,365 1050,355 1060,350"/>
<path d="M1200,30 C1190,70 1180,110 1170,130 M1170,50 C1180,80 1185,120 1175,150"/>
<path d="M1135,275 C1100,320 1060,370 1030,410 C1010,440 995,460 985,470 M1140,300 C1100,350 1060,400 1040,440"/>
</g>
<g transform="translate(100,2420) scale(0.14184)" fill="none" stroke="#111" stroke-linejoin="round" stroke-linecap="round" stroke-width="13">
<path d="M75,590 C80,480 90,380 135,330 C200,250 330,150 450,135 C540,130 600,190 660,235 C700,262 780,266 830,235 C900,190 960,160 1040,165 C1140,175 1250,250 1300,300"/>
<path d="M135,330 C150,400 160,480 150,600 M0,580 L40,560 L70,550 C85,560 100,580 120,610 C110,650 90,700 110,760"/>
<path stroke-width="16" d="M720,300 C650,280 580,190 460,175 C350,170 240,250 210,330 C200,370 240,390 300,385 C380,380 450,372 520,372"/>
<path stroke-width="16" d="M760,300 C830,280 900,200 1020,190 C1130,190 1230,260 1240,320 C1245,370 1190,395 1120,395 C1040,395 960,400 880,392"/>
<path stroke-width="10" d="M235,330 C260,270 340,205 440,200 C540,198 610,262 700,305 M1215,320 C1190,260 1110,215 1020,215 C920,220 850,280 770,310"/>
<path d="M390,300 C400,270 460,270 520,290 C600,310 660,330 690,345 C690,380 640,400 560,395 C480,390 420,360 390,300 Z"/>
<path d="M1090,320 C1080,290 1020,295 960,310 C880,330 820,350 790,370 C800,400 880,420 960,410 C1030,400 1090,370 1090,320 Z"/>
<path stroke-width="18" d="M430,365 C500,378 590,385 650,378 M820,392 C900,404 980,410 1040,402"/>
<path d="M400,410 C450,420 520,450 590,475 C620,470 640,440 665,415 M1060,430 C1000,450 930,470 880,485 C850,480 820,450 795,420"/>
<path d="M720,300 C700,340 710,380 720,420 C725,460 700,500 720,530 C730,550 750,550 760,530 C780,500 755,460 760,420 C770,380 780,340 760,300"/>
<path d="M110,740 C150,650 200,560 260,490 C310,440 380,420 450,425 C520,430 570,455 600,470 M870,485 C920,460 990,430 1060,430 C1160,435 1240,480 1280,560 C1300,610 1320,660 1330,720"/>
</g>
<defs><linearGradient id="cyl" x1="0" x2="1" y1="0" y2="0"><stop offset="0" stop-color="#bdbdbd"/><stop offset="0.3" stop-color="#e8e8e8"/><stop offset="0.75" stop-color="#8a8a8a"/><stop offset="1" stop-color="#444"/></linearGradient><linearGradient id="mea" x1="0" x2="0" y1="0" y2="1"><stop offset="0" stop-color="#fff"/><stop offset="0.18" stop-color="#c4aee0"/><stop offset="0.42" stop-color="#8c5cb9"/><stop offset="1" stop-color="#7443a6"/></linearGradient></defs>
<rect x="283.5" y="2416.0" width="8.0" height="137.0" fill="#1a9fd8"/>
<rect x="283.5" y="2416" width="8" height="137" fill="none" stroke="#0d6f9a" stroke-width="0.8"/>
<path d="M276.9,2317 L276.9,2414 A12.45,5 0 0 0 301.8,2414 L301.8,2317 Z" fill="url(#cyl)" stroke="#111" stroke-width="1.8"/>
<ellipse cx="289.35" cy="2317" rx="12.45" ry="5" fill="#d8d8d8" stroke="#111" stroke-width="1.8"/>
<path d="M276.9,2414 A12.45,5 0 0 1 301.8,2414" fill="none" stroke="#111" stroke-width="1.2"/>
<g transform="translate(60,2500) scale(0.19857)">
<path d="M1022,485 C1028,440 1060,410 1100,385 C1130,360 1150,320 1165,292 C1192,298 1198,340 1182,382 C1162,412 1148,442 1147,482 C1146,518 1136,545 1108,552 C1072,553 1038,532 1022,505 Z" fill="url(#mea)"/>
<path d="M1100,400 L1140,392 M1135,430 C1145,460 1145,490 1135,520 M1120,535 L1095,545 M1060,420 L1040,445" fill="none" stroke="#222" stroke-width="9" stroke-dasharray="22 14"/>
</g>
<text x="296.8" y="2591.0" font-size="20.5" text-anchor="start" fill="#231f20" textLength="42" lengthAdjust="spacingAndGlyphs">MeA</text>
<text x="400.0" y="2245.3" font-size="38.5" text-anchor="start" fill="#231f20" font-weight="bold">p</text>
<line x1="487.0" y1="2230.5" x2="487.0" y2="2633.0" stroke="#000" stroke-width="2.8"/>
<line x1="487.0" y1="2230.5" x2="871.0" y2="2230.5" stroke="#000" stroke-width="2.8"/>
<line x1="487.0" y1="2631.5" x2="872.1" y2="2631.5" stroke="#000" stroke-width="2.8"/>
<line x1="484.0" y1="2230.5" x2="493.0" y2="2230.5" stroke="#000" stroke-width="2.6"/>
<text x="480.4" y="2244.0" font-size="24" text-anchor="end" fill="#000">50</text>
<line x1="484.0" y1="2310.7" x2="493.0" y2="2310.7" stroke="#000" stroke-width="2.6"/>
<text x="480.4" y="2314.2" font-size="24" text-anchor="end" fill="#000">25</text>
<line x1="484.0" y1="2390.9" x2="493.0" y2="2390.9" stroke="#000" stroke-width="2.6"/>
<text x="480.4" y="2401.8" font-size="24" text-anchor="end" fill="#000">0</text>
<line x1="484.0" y1="2471.1" x2="493.0" y2="2471.1" stroke="#000" stroke-width="2.6"/>
<text x="480.4" y="2479.5" font-size="24" text-anchor="end" fill="#000">-25</text>
<line x1="484.0" y1="2551.3" x2="493.0" y2="2551.3" stroke="#000" stroke-width="2.6"/>
<text x="480.4" y="2559.1" font-size="24" text-anchor="end" fill="#000">-50</text>
<line x1="484.0" y1="2631.5" x2="493.0" y2="2631.5" stroke="#000" stroke-width="2.6"/>
<text x="480.4" y="2635.0" font-size="24" text-anchor="end" fill="#000">-75</text>
<line x1="496.0" y1="2621.5" x2="496.0" y2="2631.5" stroke="#000" stroke-width="2.8"/>
<text x="494.0" y="2657.8" font-size="23" text-anchor="middle" fill="#000">0</text>
<line x1="558.5" y1="2621.5" x2="558.5" y2="2631.5" stroke="#000" stroke-width="2.8"/>
<text x="556.5" y="2657.8" font-size="23" text-anchor="middle" fill="#000">5</text>
<line x1="620.9" y1="2621.5" x2="620.9" y2="2631.5" stroke="#000" stroke-width="2.8"/>
<text x="618.9" y="2657.8" font-size="23" text-anchor="middle" fill="#000">10</text>
<line x1="683.4" y1="2621.5" x2="683.4" y2="2631.5" stroke="#000" stroke-width="2.8"/>
<text x="681.4" y="2657.8" font-size="23" text-anchor="middle" fill="#000">15</text>
<line x1="745.8" y1="2621.5" x2="745.8" y2="2631.5" stroke="#000" stroke-width="2.8"/>
<text x="743.8" y="2657.8" font-size="23" text-anchor="middle" fill="#000">20</text>
<line x1="808.2" y1="2621.5" x2="808.2" y2="2631.5" stroke="#000" stroke-width="2.8"/>
<text x="806.2" y="2657.8" font-size="23" text-anchor="middle" fill="#000">25</text>
<line x1="870.7" y1="2621.5" x2="870.7" y2="2631.5" stroke="#000" stroke-width="2.8"/>
<text x="868.7" y="2657.8" font-size="23" text-anchor="middle" fill="#000">30</text>
<text x="690.2" y="2687.5" font-size="29" text-anchor="middle" fill="#000">Time (min)</text>
<text x="443.5" y="2431.6" font-size="28.6" text-anchor="middle" fill="#000" transform="rotate(-90 443.5 2431.6)">Δ Glucose (mg/dL)</text>
<rect x="493.8" y="2217.0" width="6.4" height="30.5" fill="#1aa7e0"/>
<rect x="509.7" y="2217.0" width="6.4" height="30.5" fill="#1aa7e0"/>
<rect x="525.5" y="2217.0" width="6.4" height="30.5" fill="#1aa7e0"/>
<rect x="541.4" y="2217.0" width="6.4" height="30.5" fill="#1aa7e0"/>
<rect x="557.2" y="2217.0" width="6.4" height="30.5" fill="#1aa7e0"/>
<line x1="496.2" y1="2256.7" x2="496.2" y2="2628.0" stroke="#000" stroke-width="3.3" stroke-dasharray="0.01 11.05" stroke-linecap="round"/>
<line x1="558.9" y1="2340.0" x2="558.9" y2="2628.0" stroke="#000" stroke-width="3.3" stroke-dasharray="0.01 11.05" stroke-linecap="round"/>
<line x1="496.0" y1="2390.9" x2="858.0" y2="2390.9" stroke="#000" stroke-width="3.3" stroke-dasharray="0.01 11.05" stroke-linecap="round"/>
<text x="560.4" y="2287.2" font-size="31" text-anchor="middle" fill="#000" textLength="17" lengthAdjust="spacingAndGlyphs"><tspan font-style="italic">#</tspan></text>
<text x="871.0" y="2261.8" font-size="25" text-anchor="end" fill="#000">vs. t0</text>
<line x1="558.9" y1="2369.2" x2="558.9" y2="2447.0" stroke="#8e8e8e" stroke-width="2.8"/>
<line x1="550.1" y1="2369.2" x2="567.7" y2="2369.2" stroke="#8e8e8e" stroke-width="3.6" stroke-linecap="round"/>
<line x1="550.1" y1="2447.0" x2="567.7" y2="2447.0" stroke="#8e8e8e" stroke-width="3.6" stroke-linecap="round"/>
<line x1="683.7" y1="2319.7" x2="683.7" y2="2412.6" stroke="#8e8e8e" stroke-width="2.8"/>
<line x1="674.9" y1="2319.7" x2="692.5" y2="2319.7" stroke="#8e8e8e" stroke-width="3.6" stroke-linecap="round"/>
<line x1="674.9" y1="2412.6" x2="692.5" y2="2412.6" stroke="#8e8e8e" stroke-width="3.6" stroke-linecap="round"/>
<line x1="871.7" y1="2366.7" x2="871.7" y2="2450.6" stroke="#8e8e8e" stroke-width="2.8"/>
<line x1="862.9" y1="2366.7" x2="880.5" y2="2366.7" stroke="#8e8e8e" stroke-width="3.6" stroke-linecap="round"/>
<line x1="862.9" y1="2450.6" x2="880.5" y2="2450.6" stroke="#8e8e8e" stroke-width="3.6" stroke-linecap="round"/>
<polyline points="496.0,2390.9 558.9,2408.3 683.7,2366.7 871.7,2408.3" fill="none" stroke="#8e8e8e" stroke-width="3.8" stroke-linejoin="round"/>
<line x1="558.9" y1="2296.2" x2="558.9" y2="2333.8" stroke="#7b4fa3" stroke-width="2.8"/>
<line x1="550.1" y1="2296.2" x2="567.7" y2="2296.2" stroke="#7b4fa3" stroke-width="3.6" stroke-linecap="round"/>
<line x1="550.1" y1="2333.8" x2="567.7" y2="2333.8" stroke="#7b4fa3" stroke-width="3.6" stroke-linecap="round"/>
<line x1="683.7" y1="2298.0" x2="683.7" y2="2345.0" stroke="#7b4fa3" stroke-width="2.8"/>
<line x1="674.9" y1="2298.0" x2="692.5" y2="2298.0" stroke="#7b4fa3" stroke-width="3.6" stroke-linecap="round"/>
<line x1="674.9" y1="2345.0" x2="692.5" y2="2345.0" stroke="#7b4fa3" stroke-width="3.6" stroke-linecap="round"/>
<line x1="871.7" y1="2350.4" x2="871.7" y2="2381.2" stroke="#7b4fa3" stroke-width="2.8"/>
<line x1="862.9" y1="2350.4" x2="880.5" y2="2350.4" stroke="#7b4fa3" stroke-width="3.6" stroke-linecap="round"/>
<line x1="862.9" y1="2381.2" x2="880.5" y2="2381.2" stroke="#7b4fa3" stroke-width="3.6" stroke-linecap="round"/>
<polyline points="496.0,2390.9 558.9,2315.0 683.7,2321.1 871.7,2365.6" fill="none" stroke="#7b4fa3" stroke-width="3.8" stroke-linejoin="round"/>
<line x1="734.7" y1="2572.9" x2="767.9" y2="2572.9" stroke="#8e8e8e" stroke-width="3.4"/>
<line x1="734.7" y1="2602.5" x2="767.9" y2="2602.5" stroke="#7b4fa3" stroke-width="3.4"/>
<text x="774.1" y="2579.0" font-size="18.8" text-anchor="start" fill="#000">Control</text>
<text x="774.1" y="2609.0" font-size="19" text-anchor="start" fill="#000">MeA ChR2</text>
<text x="928.5" y="2245.3" font-size="38.5" text-anchor="start" fill="#231f20" font-weight="bold">q</text>
<line x1="1017.7" y1="2231.5" x2="1017.7" y2="2633.7" stroke="#000" stroke-width="2.8"/>
<line x1="1017.7" y1="2231.5" x2="1431.1" y2="2231.5" stroke="#000" stroke-width="2.8"/>
<line x1="1017.7" y1="2632.2" x2="1431.9" y2="2632.2" stroke="#000" stroke-width="2.8"/>
<line x1="1015.0" y1="2231.2" x2="1024.0" y2="2231.2" stroke="#000" stroke-width="2.6"/>
<text x="1008.4" y="2239.4" font-size="24" text-anchor="end" fill="#000">50</text>
<line x1="1015.0" y1="2331.6" x2="1024.0" y2="2331.6" stroke="#000" stroke-width="2.6"/>
<text x="1008.4" y="2340.4" font-size="24" text-anchor="end" fill="#000">25</text>
<line x1="1015.0" y1="2431.9" x2="1024.0" y2="2431.9" stroke="#000" stroke-width="2.6"/>
<text x="1008.4" y="2440.8" font-size="24" text-anchor="end" fill="#000">0</text>
<line x1="1015.0" y1="2532.2" x2="1024.0" y2="2532.2" stroke="#000" stroke-width="2.6"/>
<text x="1008.4" y="2541.1" font-size="24" text-anchor="end" fill="#000">-25</text>
<line x1="1015.0" y1="2632.6" x2="1024.0" y2="2632.6" stroke="#000" stroke-width="2.6"/>
<text x="1008.4" y="2641.5" font-size="24" text-anchor="end" fill="#000">-50</text>
<line x1="1028.4" y1="2622.2" x2="1028.4" y2="2632.2" stroke="#000" stroke-width="2.8"/>
<text x="1028.4" y="2657.5" font-size="23" text-anchor="middle" fill="#000">0</text>
<line x1="1095.5" y1="2622.2" x2="1095.5" y2="2632.2" stroke="#000" stroke-width="2.8"/>
<text x="1095.5" y="2657.5" font-size="23" text-anchor="middle" fill="#000">5</text>
<line x1="1162.6" y1="2622.2" x2="1162.6" y2="2632.2" stroke="#000" stroke-width="2.8"/>
<text x="1162.6" y="2657.5" font-size="23" text-anchor="middle" fill="#000">10</text>
<line x1="1229.7" y1="2622.2" x2="1229.7" y2="2632.2" stroke="#000" stroke-width="2.8"/>
<text x="1229.7" y="2657.5" font-size="23" text-anchor="middle" fill="#000">15</text>
<line x1="1296.8" y1="2622.2" x2="1296.8" y2="2632.2" stroke="#000" stroke-width="2.8"/>
<text x="1296.8" y="2657.5" font-size="23" text-anchor="middle" fill="#000">20</text>
<line x1="1363.9" y1="2622.2" x2="1363.9" y2="2632.2" stroke="#000" stroke-width="2.8"/>
<text x="1363.9" y="2657.5" font-size="23" text-anchor="middle" fill="#000">25</text>
<line x1="1431.0" y1="2622.2" x2="1431.0" y2="2632.2" stroke="#000" stroke-width="2.8"/>
<text x="1431.0" y="2657.5" font-size="23" text-anchor="middle" fill="#000">30</text>
<text x="1227.1" y="2687.6" font-size="30" text-anchor="middle" fill="#000">Time (min)</text>
<text x="969.0" y="2433.7" font-size="29.8" text-anchor="middle" fill="#000" transform="rotate(-90 969.0 2433.7)">Δ Glucose (mg/dL)</text>
<rect x="1028.9" y="2217.0" width="6.8" height="29.4" fill="#1aa7e0"/>
<rect x="1042.4" y="2217.0" width="6.8" height="29.4" fill="#1aa7e0"/>
<rect x="1055.9" y="2217.0" width="6.8" height="29.4" fill="#1aa7e0"/>
<rect x="1069.3" y="2217.0" width="6.8" height="29.4" fill="#1aa7e0"/>
<rect x="1082.8" y="2217.0" width="6.8" height="29.4" fill="#1aa7e0"/>
<rect x="1096.3" y="2217.0" width="6.8" height="29.4" fill="#1aa7e0"/>
<rect x="1109.8" y="2217.0" width="6.8" height="29.4" fill="#1aa7e0"/>
<rect x="1123.3" y="2217.0" width="6.8" height="29.4" fill="#1aa7e0"/>
<rect x="1136.7" y="2217.0" width="6.8" height="29.4" fill="#1aa7e0"/>
<rect x="1150.2" y="2217.0" width="6.8" height="29.4" fill="#1aa7e0"/>
<rect x="1163.7" y="2217.0" width="6.8" height="29.4" fill="#1aa7e0"/>
<rect x="1177.2" y="2217.0" width="6.8" height="29.4" fill="#1aa7e0"/>
<rect x="1190.7" y="2217.0" width="6.8" height="29.4" fill="#1aa7e0"/>
<rect x="1204.1" y="2217.0" width="6.8" height="29.4" fill="#1aa7e0"/>
<rect x="1217.6" y="2217.0" width="6.8" height="29.4" fill="#1aa7e0"/>
<line x1="1028.9" y1="2253.0" x2="1028.9" y2="2628.0" stroke="#000" stroke-width="3.3" stroke-dasharray="0.01 11.05" stroke-linecap="round"/>
<line x1="1229.2" y1="2253.0" x2="1229.2" y2="2628.0" stroke="#000" stroke-width="3.3" stroke-dasharray="0.01 11.05" stroke-linecap="round"/>
<line x1="1028.4" y1="2431.9" x2="1410.0" y2="2431.9" stroke="#000" stroke-width="3.3" stroke-dasharray="0.01 11.05" stroke-linecap="round"/>
<text x="1233.2" y="2274.2" font-size="29" text-anchor="middle" fill="#000" textLength="76" lengthAdjust="spacingAndGlyphs"><tspan font-style="italic">####</tspan></text>
<text x="1430.7" y="2261.3" font-size="26.9" text-anchor="end" fill="#000" textLength="94.3" lengthAdjust="spacingAndGlyphs"><tspan font-style="italic">#</tspan> vs. t 0</text>
<line x1="1229.2" y1="2334.4" x2="1229.2" y2="2398.6" stroke="#8e8e8e" stroke-width="2.8"/>
<line x1="1218.2" y1="2334.4" x2="1240.2" y2="2334.4" stroke="#8e8e8e" stroke-width="3.6" stroke-linecap="round"/>
<line x1="1218.2" y1="2398.6" x2="1240.2" y2="2398.6" stroke="#8e8e8e" stroke-width="3.6" stroke-linecap="round"/>
<line x1="1431.1" y1="2338.4" x2="1431.1" y2="2432.7" stroke="#8e8e8e" stroke-width="2.8"/>
<line x1="1420.1" y1="2338.4" x2="1442.1" y2="2338.4" stroke="#8e8e8e" stroke-width="3.6" stroke-linecap="round"/>
<line x1="1420.1" y1="2432.7" x2="1442.1" y2="2432.7" stroke="#8e8e8e" stroke-width="3.6" stroke-linecap="round"/>
<polyline points="1028.4,2431.9 1229.2,2366.5 1431.1,2385.4" fill="none" stroke="#8e8e8e" stroke-width="3.8" stroke-linejoin="round"/>
<line x1="1229.2" y1="2288.2" x2="1229.2" y2="2343.2" stroke="#7b4fa3" stroke-width="2.8"/>
<line x1="1218.2" y1="2288.2" x2="1240.2" y2="2288.2" stroke="#7b4fa3" stroke-width="3.6" stroke-linecap="round"/>
<line x1="1218.2" y1="2343.2" x2="1240.2" y2="2343.2" stroke="#7b4fa3" stroke-width="3.6" stroke-linecap="round"/>
<line x1="1429.9" y1="2345.2" x2="1429.9" y2="2385.8" stroke="#7b4fa3" stroke-width="2.8"/>
<line x1="1418.9" y1="2345.2" x2="1440.9" y2="2345.2" stroke="#7b4fa3" stroke-width="3.6" stroke-linecap="round"/>
<line x1="1418.9" y1="2385.8" x2="1440.9" y2="2385.8" stroke="#7b4fa3" stroke-width="3.6" stroke-linecap="round"/>
<polyline points="1028.4,2431.9 1229.2,2315.5 1429.9,2365.3" fill="none" stroke="#7b4fa3" stroke-width="3.8" stroke-linejoin="round"/>
</svg></body></html>
